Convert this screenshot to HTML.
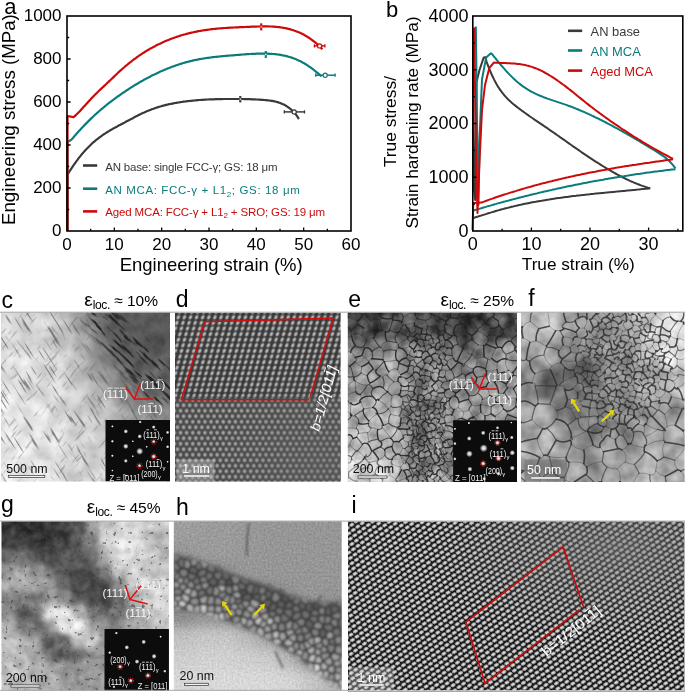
<!DOCTYPE html>
<html><head><meta charset="utf-8"><style>
html,body{margin:0;padding:0;background:#fff;}
body{width:685px;height:692px;overflow:hidden;position:relative;font-family:"Liberation Sans", sans-serif;}
svg{position:absolute;left:0;top:0;will-change:transform;}
svg text{font-family:"Liberation Sans", sans-serif;}
</style></head><body>
<svg width="685" height="692" viewBox="0 0 685 692">
<path d="M67.5,231.0 L67.5,173.2 L68.3,173.3 L69.3,171.7 L70.3,170.2 L71.3,168.6 L72.3,167.1 L73.3,165.6 L74.3,164.2 L75.3,162.8 L76.3,161.4 L77.3,160.1 L78.3,158.7 L79.3,157.4 L80.3,156.2 L81.3,154.9 L82.3,153.7 L83.3,152.6 L84.3,151.4 L85.3,150.3 L86.3,149.2 L87.3,148.2 L88.3,147.2 L89.3,146.2 L90.3,145.2 L91.3,144.2 L92.3,143.3 L93.3,142.4 L94.3,141.6 L95.3,140.7 L96.3,139.9 L97.3,139.1 L98.3,138.3 L99.3,137.5 L100.3,136.8 L101.3,136.1 L102.3,135.4 L103.3,134.7 L104.3,134.0 L105.3,133.4 L106.3,132.7 L107.3,132.1 L108.3,131.5 L109.3,130.9 L110.3,130.3 L111.3,129.7 L112.3,129.1 L113.3,128.5 L114.3,128.0 L115.3,127.4 L116.3,126.9 L117.3,126.4 L118.3,125.8 L119.3,125.3 L120.3,124.8 L121.3,124.2 L122.3,123.7 L123.3,123.2 L124.3,122.7 L125.3,122.1 L126.3,121.6 L127.3,121.1 L128.3,120.6 L129.3,120.0 L130.3,119.5 L131.3,118.9 L132.3,118.4 L133.3,117.9 L134.3,117.3 L135.3,116.8 L136.3,116.3 L137.3,115.8 L138.3,115.2 L139.3,114.7 L140.3,114.2 L141.3,113.8 L142.3,113.3 L143.3,112.8 L144.3,112.4 L145.3,111.9 L146.3,111.5 L147.3,111.1 L148.3,110.7 L149.3,110.3 L150.3,109.9 L151.3,109.5 L152.3,109.1 L153.3,108.8 L154.3,108.4 L155.3,108.1 L156.3,107.7 L157.3,107.4 L158.3,107.1 L159.3,106.8 L160.3,106.5 L161.3,106.2 L162.3,105.9 L163.3,105.7 L164.3,105.4 L165.3,105.1 L166.3,104.9 L167.3,104.7 L168.3,104.4 L169.3,104.2 L170.3,104.0 L171.3,103.8 L172.3,103.6 L173.3,103.4 L174.3,103.2 L175.3,103.0 L176.3,102.8 L177.3,102.6 L178.3,102.5 L179.3,102.3 L180.3,102.2 L181.3,102.0 L182.3,101.9 L183.3,101.7 L184.3,101.6 L185.3,101.5 L186.3,101.3 L187.3,101.2 L188.3,101.1 L189.3,101.0 L190.3,100.9 L191.3,100.8 L192.3,100.7 L193.3,100.6 L194.3,100.5 L195.3,100.4 L196.3,100.3 L197.3,100.2 L198.3,100.1 L199.3,100.0 L200.3,100.0 L201.3,99.9 L202.3,99.8 L203.3,99.8 L204.3,99.7 L205.3,99.6 L206.3,99.6 L207.3,99.5 L208.3,99.5 L209.3,99.4 L210.3,99.4 L211.3,99.4 L212.3,99.3 L213.3,99.3 L214.3,99.3 L215.3,99.2 L216.3,99.2 L217.3,99.2 L218.3,99.1 L219.3,99.1 L220.3,99.1 L221.3,99.1 L222.3,99.1 L223.3,99.0 L224.3,99.0 L225.3,99.0 L226.3,99.0 L227.3,99.0 L228.3,99.0 L229.3,99.0 L230.3,99.0 L231.3,99.0 L232.3,99.0 L233.3,99.0 L234.3,99.0 L235.3,99.0 L236.3,99.0 L237.3,99.0 L238.3,99.0 L239.3,99.0 L240.3,99.0 L241.3,99.0 L242.3,99.0 L243.3,99.0 L244.3,99.1 L245.3,99.1 L246.3,99.1 L247.3,99.1 L248.3,99.1 L249.3,99.2 L250.3,99.2 L251.3,99.3 L252.3,99.3 L253.3,99.3 L254.3,99.4 L255.3,99.4 L256.3,99.5 L257.3,99.5 L258.3,99.6 L259.3,99.7 L260.3,99.7 L261.3,99.8 L262.3,99.9 L263.3,99.9 L264.3,100.0 L265.3,100.1 L266.3,100.2 L267.3,100.3 L268.3,100.4 L269.3,100.5 L270.3,100.6 L271.3,100.8 L272.3,100.9 L273.3,101.1 L274.3,101.3 L275.3,101.5 L276.3,101.8 L277.3,102.1 L278.3,102.4 L279.3,102.7 L280.3,103.0 L281.3,103.4 L282.3,103.9 L283.3,104.3 L284.3,104.8 L285.3,105.4 L286.3,106.0 L287.3,106.6 L288.3,107.3 L289.3,108.0 L290.3,108.8 L291.3,109.7 L292.3,110.6 L293.3,111.6 L294.3,112.7 L295.3,113.8 L296.3,115.1 L297.3,116.5 L298.3,118.1 L298.9,119.1" fill="none" stroke="#3a3a3a" stroke-width="2.2" stroke-linejoin="round"/>
<path d="M67.5,231.0 L67.5,142.0 L71.5,139.6 L72.5,138.4 L73.5,137.3 L74.5,136.1 L75.5,135.0 L76.5,133.8 L77.5,132.7 L78.5,131.6 L79.5,130.5 L80.5,129.4 L81.5,128.3 L82.5,127.3 L83.5,126.2 L84.5,125.1 L85.5,124.1 L86.5,123.1 L87.5,122.1 L88.5,121.1 L89.5,120.1 L90.5,119.1 L91.5,118.1 L92.5,117.2 L93.5,116.3 L94.5,115.3 L95.5,114.4 L96.5,113.5 L97.5,112.6 L98.5,111.7 L99.5,110.8 L100.5,110.0 L101.5,109.1 L102.5,108.3 L103.5,107.5 L104.5,106.6 L105.5,105.8 L106.5,105.0 L107.5,104.2 L108.5,103.4 L109.5,102.7 L110.5,101.9 L111.5,101.1 L112.5,100.4 L113.5,99.6 L114.5,98.9 L115.5,98.1 L116.5,97.4 L117.5,96.7 L118.5,96.0 L119.5,95.3 L120.5,94.6 L121.5,93.9 L122.5,93.2 L123.5,92.5 L124.5,91.8 L125.5,91.2 L126.5,90.5 L127.5,89.8 L128.5,89.2 L129.5,88.5 L130.5,87.9 L131.5,87.2 L132.5,86.6 L133.5,86.0 L134.5,85.4 L135.5,84.8 L136.5,84.2 L137.5,83.6 L138.5,83.0 L139.5,82.4 L140.5,81.8 L141.5,81.2 L142.5,80.7 L143.5,80.1 L144.5,79.6 L145.5,79.0 L146.5,78.5 L147.5,77.9 L148.5,77.4 L149.5,76.9 L150.5,76.4 L151.5,75.8 L152.5,75.3 L153.5,74.8 L154.5,74.4 L155.5,73.9 L156.5,73.4 L157.5,72.9 L158.5,72.5 L159.5,72.0 L160.5,71.5 L161.5,71.1 L162.5,70.7 L163.5,70.2 L164.5,69.8 L165.5,69.4 L166.5,69.0 L167.5,68.6 L168.5,68.2 L169.5,67.8 L170.5,67.4 L171.5,67.0 L172.5,66.6 L173.5,66.3 L174.5,65.9 L175.5,65.6 L176.5,65.2 L177.5,64.9 L178.5,64.5 L179.5,64.2 L180.5,63.9 L181.5,63.6 L182.5,63.3 L183.5,63.0 L184.5,62.7 L185.5,62.4 L186.5,62.1 L187.5,61.9 L188.5,61.6 L189.5,61.4 L190.5,61.1 L191.5,60.9 L192.5,60.6 L193.5,60.4 L194.5,60.2 L195.5,60.0 L196.5,59.8 L197.5,59.6 L198.5,59.4 L199.5,59.2 L200.5,59.0 L201.5,58.8 L202.5,58.7 L203.5,58.5 L204.5,58.3 L205.5,58.2 L206.5,58.0 L207.5,57.9 L208.5,57.8 L209.5,57.6 L210.5,57.5 L211.5,57.4 L212.5,57.2 L213.5,57.1 L214.5,57.0 L215.5,56.9 L216.5,56.8 L217.5,56.7 L218.5,56.6 L219.5,56.5 L220.5,56.4 L221.5,56.3 L222.5,56.2 L223.5,56.1 L224.5,56.0 L225.5,55.9 L226.5,55.8 L227.5,55.7 L228.5,55.7 L229.5,55.6 L230.5,55.5 L231.5,55.4 L232.5,55.3 L233.5,55.3 L234.5,55.2 L235.5,55.1 L236.5,55.0 L237.5,54.9 L238.5,54.8 L239.5,54.8 L240.5,54.7 L241.5,54.6 L242.5,54.5 L243.5,54.5 L244.5,54.4 L245.5,54.3 L246.5,54.2 L247.5,54.2 L248.5,54.1 L249.5,54.0 L250.5,54.0 L251.5,53.9 L252.5,53.9 L253.5,53.8 L254.5,53.8 L255.5,53.8 L256.5,53.7 L257.5,53.7 L258.5,53.7 L259.5,53.6 L260.5,53.6 L261.5,53.6 L262.5,53.6 L263.5,53.6 L264.5,53.6 L265.5,53.6 L266.5,53.7 L267.5,53.7 L268.5,53.7 L269.5,53.8 L270.5,53.8 L271.5,53.9 L272.5,54.0 L273.5,54.0 L274.5,54.1 L275.5,54.2 L276.5,54.3 L277.5,54.5 L278.5,54.6 L279.5,54.7 L280.5,54.9 L281.5,55.1 L282.5,55.3 L283.5,55.5 L284.5,55.7 L285.5,55.9 L286.5,56.1 L287.5,56.4 L288.5,56.7 L289.5,57.0 L290.5,57.3 L291.5,57.6 L292.5,57.9 L293.5,58.3 L294.5,58.7 L295.5,59.1 L296.5,59.5 L297.5,59.9 L298.5,60.4 L299.5,60.8 L300.5,61.3 L301.5,61.8 L302.5,62.4 L303.5,62.9 L304.5,63.5 L305.5,64.1 L306.5,64.7 L307.5,65.4 L308.5,66.1 L309.5,66.7 L310.5,67.5 L311.5,68.2 L312.5,68.9 L313.5,69.7 L314.5,70.5 L315.5,71.3 L316.5,72.1 L317.5,72.9 L318.5,73.7 L319.5,74.6 L320.5,75.4 L321.5,76.3 L321.6,76.4" fill="none" stroke="#0b7b7b" stroke-width="2.2" stroke-linejoin="round"/>
<path d="M67.5,231.0 L67.5,116.0 L73.5,117.2 L74.5,116.4 L75.5,115.4 L76.5,114.5 L77.5,113.5 L78.5,112.5 L79.5,111.5 L80.5,110.4 L81.5,109.3 L82.5,108.2 L83.5,107.1 L84.5,106.0 L85.5,104.9 L86.5,103.8 L87.5,102.7 L88.5,101.6 L89.5,100.5 L90.5,99.4 L91.5,98.3 L92.5,97.2 L93.5,96.2 L94.5,95.2 L95.5,94.2 L96.5,93.2 L97.5,92.2 L98.5,91.3 L99.5,90.3 L100.5,89.4 L101.5,88.4 L102.5,87.5 L103.5,86.6 L104.5,85.6 L105.5,84.7 L106.5,83.8 L107.5,82.8 L108.5,81.9 L109.5,80.9 L110.5,80.0 L111.5,79.0 L112.5,78.1 L113.5,77.1 L114.5,76.1 L115.5,75.2 L116.5,74.2 L117.5,73.3 L118.5,72.3 L119.5,71.4 L120.5,70.5 L121.5,69.6 L122.5,68.7 L123.5,67.8 L124.5,67.0 L125.5,66.1 L126.5,65.3 L127.5,64.5 L128.5,63.6 L129.5,62.8 L130.5,62.1 L131.5,61.3 L132.5,60.5 L133.5,59.7 L134.5,59.0 L135.5,58.3 L136.5,57.5 L137.5,56.8 L138.5,56.1 L139.5,55.4 L140.5,54.8 L141.5,54.1 L142.5,53.4 L143.5,52.8 L144.5,52.2 L145.5,51.5 L146.5,50.9 L147.5,50.3 L148.5,49.7 L149.5,49.1 L150.5,48.6 L151.5,48.0 L152.5,47.5 L153.5,46.9 L154.5,46.4 L155.5,45.9 L156.5,45.3 L157.5,44.8 L158.5,44.3 L159.5,43.9 L160.5,43.4 L161.5,42.9 L162.5,42.4 L163.5,42.0 L164.5,41.6 L165.5,41.1 L166.5,40.7 L167.5,40.3 L168.5,39.9 L169.5,39.5 L170.5,39.1 L171.5,38.7 L172.5,38.3 L173.5,38.0 L174.5,37.6 L175.5,37.3 L176.5,36.9 L177.5,36.6 L178.5,36.3 L179.5,35.9 L180.5,35.6 L181.5,35.3 L182.5,35.0 L183.5,34.7 L184.5,34.5 L185.5,34.2 L186.5,33.9 L187.5,33.7 L188.5,33.4 L189.5,33.2 L190.5,32.9 L191.5,32.7 L192.5,32.5 L193.5,32.2 L194.5,32.0 L195.5,31.8 L196.5,31.6 L197.5,31.4 L198.5,31.2 L199.5,31.0 L200.5,30.9 L201.5,30.7 L202.5,30.5 L203.5,30.4 L204.5,30.2 L205.5,30.1 L206.5,29.9 L207.5,29.8 L208.5,29.6 L209.5,29.5 L210.5,29.4 L211.5,29.2 L212.5,29.1 L213.5,29.0 L214.5,28.9 L215.5,28.8 L216.5,28.7 L217.5,28.6 L218.5,28.5 L219.5,28.4 L220.5,28.3 L221.5,28.3 L222.5,28.2 L223.5,28.1 L224.5,28.0 L225.5,28.0 L226.5,27.9 L227.5,27.8 L228.5,27.8 L229.5,27.7 L230.5,27.7 L231.5,27.6 L232.5,27.6 L233.5,27.5 L234.5,27.5 L235.5,27.4 L236.5,27.4 L237.5,27.3 L238.5,27.3 L239.5,27.2 L240.5,27.2 L241.5,27.1 L242.5,27.1 L243.5,27.1 L244.5,27.0 L245.5,27.0 L246.5,26.9 L247.5,26.9 L248.5,26.9 L249.5,26.8 L250.5,26.8 L251.5,26.7 L252.5,26.7 L253.5,26.7 L254.5,26.6 L255.5,26.6 L256.5,26.6 L257.5,26.5 L258.5,26.5 L259.5,26.5 L260.5,26.4 L261.5,26.4 L262.5,26.4 L263.5,26.4 L264.5,26.4 L265.5,26.4 L266.5,26.4 L267.5,26.4 L268.5,26.4 L269.5,26.5 L270.5,26.5 L271.5,26.5 L272.5,26.6 L273.5,26.6 L274.5,26.7 L275.5,26.8 L276.5,26.9 L277.5,27.0 L278.5,27.1 L279.5,27.2 L280.5,27.3 L281.5,27.5 L282.5,27.6 L283.5,27.8 L284.5,28.0 L285.5,28.2 L286.5,28.4 L287.5,28.6 L288.5,28.9 L289.5,29.1 L290.5,29.4 L291.5,29.7 L292.5,30.0 L293.5,30.3 L294.5,30.7 L295.5,31.0 L296.5,31.4 L297.5,31.8 L298.5,32.2 L299.5,32.6 L300.5,33.1 L301.5,33.6 L302.5,34.1 L303.5,34.6 L304.5,35.1 L305.5,35.7 L306.5,36.3 L307.5,36.9 L308.5,37.5 L309.5,38.2 L310.5,38.9 L311.5,39.6 L312.5,40.3 L313.5,41.1 L314.5,41.9 L315.5,42.7 L316.5,43.5 L317.5,44.4 L318.5,45.3 L319.5,46.2 L320.5,47.1 L321.5,48.2 L322.3,49.3" fill="none" stroke="#cc0a0a" stroke-width="2.2" stroke-linejoin="round"/>
<line x1="240.3" y1="96.2" x2="240.3" y2="102.2" stroke="#3a3a3a" stroke-width="2.0"/><line x1="239.20000000000002" y1="96.60000000000001" x2="241.4" y2="96.60000000000001" stroke="#3a3a3a" stroke-width="0.8"/><line x1="239.20000000000002" y1="101.8" x2="241.4" y2="101.8" stroke="#3a3a3a" stroke-width="0.8"/><circle cx="240.3" cy="99.2" r="1.1" fill="#fff" stroke="#3a3a3a" stroke-width="0.7"/>
<line x1="284.3" y1="111.9" x2="304.5" y2="111.9" stroke="#3a3a3a" stroke-width="1.5"/><line x1="284.3" y1="110.30000000000001" x2="284.3" y2="113.5" stroke="#3a3a3a" stroke-width="1.3"/><line x1="304.5" y1="110.30000000000001" x2="304.5" y2="113.5" stroke="#3a3a3a" stroke-width="1.3"/><circle cx="294.2" cy="111.9" r="2.1" fill="#fff" stroke="#3a3a3a" stroke-width="1.2"/>
<line x1="265.8" y1="51.2" x2="265.8" y2="57.8" stroke="#0b7b7b" stroke-width="2.0"/><line x1="264.7" y1="51.6" x2="266.90000000000003" y2="51.6" stroke="#0b7b7b" stroke-width="0.8"/><line x1="264.7" y1="57.4" x2="266.90000000000003" y2="57.4" stroke="#0b7b7b" stroke-width="0.8"/><circle cx="265.8" cy="54.5" r="1.1" fill="#fff" stroke="#0b7b7b" stroke-width="0.7"/>
<line x1="315.7" y1="75.2" x2="335.1" y2="75.2" stroke="#0b7b7b" stroke-width="1.5"/><line x1="315.7" y1="73.60000000000001" x2="315.7" y2="76.8" stroke="#0b7b7b" stroke-width="1.3"/><line x1="335.1" y1="73.60000000000001" x2="335.1" y2="76.8" stroke="#0b7b7b" stroke-width="1.3"/><circle cx="325.2" cy="75.2" r="2.1" fill="#fff" stroke="#0b7b7b" stroke-width="1.2"/>
<line x1="261.2" y1="23.599999999999998" x2="261.2" y2="30.2" stroke="#cc0a0a" stroke-width="2.0"/><line x1="260.09999999999997" y1="23.999999999999996" x2="262.3" y2="23.999999999999996" stroke="#cc0a0a" stroke-width="0.8"/><line x1="260.09999999999997" y1="29.8" x2="262.3" y2="29.8" stroke="#cc0a0a" stroke-width="0.8"/><circle cx="261.2" cy="26.9" r="1.1" fill="#fff" stroke="#cc0a0a" stroke-width="0.7"/>
<line x1="314.4" y1="45.9" x2="324.9" y2="45.9" stroke="#cc0a0a" stroke-width="1.5"/><line x1="314.4" y1="44.3" x2="314.4" y2="47.5" stroke="#cc0a0a" stroke-width="1.3"/><line x1="324.9" y1="44.3" x2="324.9" y2="47.5" stroke="#cc0a0a" stroke-width="1.3"/><circle cx="319.6" cy="45.9" r="2.1" fill="#fff" stroke="#cc0a0a" stroke-width="1.2"/>
<rect x="67" y="16" width="284" height="215" fill="none" stroke="#000" stroke-width="1.6"/>
<path d="M90.67,231 v-2.2 M114.33,231 v-3.6 M138.00,231 v-2.2 M161.67,231 v-3.6 M185.33,231 v-2.2 M209.00,231 v-3.6 M232.67,231 v-2.2 M256.33,231 v-3.6 M280.00,231 v-2.2 M303.67,231 v-3.6 M327.33,231 v-2.2 M67,209.50 h2.2 M67,188.00 h3.6 M67,166.50 h2.2 M67,145.00 h3.6 M67,123.50 h2.2 M67,102.00 h3.6 M67,80.50 h2.2 M67,59.00 h3.6 M67,37.50 h2.2" stroke="#000" stroke-width="1.3"/>
<text x="67.0" y="249.7" font-size="17" text-anchor="middle">0</text>
<text x="114.3" y="249.7" font-size="17" text-anchor="middle">10</text>
<text x="161.7" y="249.7" font-size="17" text-anchor="middle">20</text>
<text x="209.0" y="249.7" font-size="17" text-anchor="middle">30</text>
<text x="256.3" y="249.7" font-size="17" text-anchor="middle">40</text>
<text x="303.7" y="249.7" font-size="17" text-anchor="middle">50</text>
<text x="351.0" y="249.7" font-size="17" text-anchor="middle">60</text>
<text x="61.5" y="236.0" font-size="17" text-anchor="end">0</text>
<text x="61.5" y="193.0" font-size="17" text-anchor="end">200</text>
<text x="61.5" y="150.0" font-size="17" text-anchor="end">400</text>
<text x="61.5" y="107.0" font-size="17" text-anchor="end">600</text>
<text x="61.5" y="64.0" font-size="17" text-anchor="end">800</text>
<text x="61.5" y="21.0" font-size="17" text-anchor="end">1000</text>
<text x="211.2" y="270.8" font-size="18.5" text-anchor="middle">Engineering strain (%)</text>
<text transform="translate(14.9,119.6) rotate(-90)" font-size="18.7" text-anchor="middle">Engineering stress (MPa)</text>
<text x="4.3" y="14" font-size="22">a</text>
<line x1="83" y1="165.5" x2="97.2" y2="165.5" stroke="#3a3a3a" stroke-width="2.6"/>
<line x1="83" y1="188.7" x2="97.2" y2="188.7" stroke="#0b7b7b" stroke-width="2.6"/>
<line x1="83" y1="211.4" x2="97.2" y2="211.4" stroke="#cc0a0a" stroke-width="2.6"/>
<text x="105.2" y="170.6" font-size="11.5" letter-spacing="-0.2" fill="#3a3a3a">AN base: single FCC-γ; GS: 18 μm</text>
<text x="105.2" y="194.1" font-size="11.5" letter-spacing="0.63" fill="#0b7b7b">AN MCA: FCC-γ + L1<tspan font-size="8" dy="2.5">2</tspan><tspan dy="-2.5">; GS: 18 μm</tspan></text>
<text x="105.2" y="215.8" font-size="11.5" letter-spacing="-0.14" fill="#cc0a0a">Aged MCA: FCC-γ + L1<tspan font-size="8" dy="2.5">2</tspan><tspan dy="-2.5"> + SRO; GS: 19 μm</tspan></text>
<polyline points="473.2,30.0 473.4,100.0 474.0,190.0 475.2,200.0 476.4,82.4 479.6,69.6 483.7,57.6 485.5,57.3 486.5,61.5 488.0,65.6 489.5,69.5 491.0,73.0 492.5,76.3 494.0,79.4 495.5,82.3 497.0,84.9 498.5,87.4 500.0,89.6 501.5,91.7 503.0,93.7 504.5,95.5 506.0,97.1 507.5,98.7 509.0,100.2 510.5,101.6 512.0,102.9 513.5,104.2 515.0,105.4 516.5,106.6 518.0,107.8 519.5,108.9 521.0,110.0 522.5,111.2 524.0,112.2 525.5,113.3 527.0,114.4 528.5,115.4 530.0,116.5 531.5,117.5 533.0,118.5 534.5,119.6 536.0,120.6 537.5,121.6 539.0,122.6 540.5,123.6 542.0,124.6 543.5,125.6 545.0,126.7 546.5,127.7 548.0,128.7 549.5,129.8 551.0,130.8 552.5,131.8 554.0,132.9 555.5,133.9 557.0,135.0 558.5,136.0 560.0,137.1 561.5,138.1 563.0,139.2 564.5,140.2 566.0,141.3 567.5,142.4 569.0,143.4 570.5,144.5 572.0,145.5 573.5,146.6 575.0,147.6 576.5,148.6 578.0,149.7 579.5,150.7 581.0,151.8 582.5,152.8 584.0,153.8 585.5,154.8 587.0,155.8 588.5,156.8 590.0,157.8 591.5,158.8 593.0,159.8 594.5,160.8 596.0,161.8 597.5,162.7 599.0,163.7 600.5,164.6 602.0,165.6 603.5,166.5 605.0,167.4 606.5,168.3 608.0,169.2 609.5,170.1 611.0,171.0 612.5,171.8 614.0,172.7 615.5,173.5 617.0,174.3 618.5,175.1 620.0,175.9 621.5,176.7 623.0,177.5 624.5,178.2 626.0,179.0 627.5,179.7 629.0,180.4 630.5,181.1 632.0,181.7 633.5,182.4 635.0,183.0 636.5,183.6 638.0,184.2 639.5,184.8 641.0,185.4 642.5,185.9 644.0,186.4 645.5,186.9 647.0,187.4 648.5,187.9 650.0,188.3 650.2,188.4" fill="none" stroke="#3a3a3a" stroke-width="2.0" stroke-linejoin="round"/>
<polyline points="473.3,218.0 486.6,213.9 487.6,213.5 489.1,213.0 490.6,212.6 492.1,212.1 493.6,211.7 495.1,211.2 496.6,210.8 498.1,210.4 499.6,210.0 501.1,209.5 502.6,209.1 504.1,208.7 505.6,208.3 507.1,208.0 508.6,207.6 510.1,207.2 511.6,206.8 513.1,206.5 514.6,206.1 516.1,205.8 517.6,205.4 519.1,205.1 520.6,204.8 522.1,204.4 523.6,204.1 525.1,203.8 526.6,203.5 528.1,203.2 529.6,202.9 531.1,202.6 532.6,202.3 534.1,202.0 535.6,201.8 537.1,201.5 538.6,201.2 540.1,200.9 541.6,200.7 543.1,200.4 544.6,200.2 546.1,199.9 547.6,199.7 549.1,199.5 550.6,199.2 552.1,199.0 553.6,198.8 555.1,198.5 556.6,198.3 558.1,198.1 559.6,197.9 561.1,197.7 562.6,197.5 564.1,197.3 565.6,197.1 567.1,196.9 568.6,196.7 570.1,196.5 571.6,196.3 573.1,196.1 574.6,195.9 576.1,195.8 577.6,195.6 579.1,195.4 580.6,195.2 582.1,195.1 583.6,194.9 585.1,194.7 586.6,194.6 588.1,194.4 589.6,194.3 591.1,194.1 592.6,193.9 594.1,193.8 595.6,193.6 597.1,193.5 598.6,193.3 600.1,193.2 601.6,193.0 603.1,192.9 604.6,192.7 606.1,192.6 607.6,192.4 609.1,192.3 610.6,192.2 612.1,192.0 613.6,191.9 615.1,191.7 616.6,191.6 618.1,191.4 619.6,191.3 621.1,191.2 622.6,191.0 624.1,190.9 625.6,190.7 627.1,190.6 628.6,190.5 630.1,190.3 631.6,190.2 633.1,190.0 634.6,189.9 636.1,189.7 637.6,189.6 639.1,189.4 640.6,189.3 642.1,189.1 643.6,189.0 645.1,188.8 646.6,188.7 648.1,188.5 649.6,188.4 650.2,188.3" fill="none" stroke="#3a3a3a" stroke-width="2.0" stroke-linejoin="round"/>
<polyline points="475.8,26.6 476.3,60.0 477.0,120.0 477.8,170.0 478.5,205.0 479.5,140.0 482.0,79.2 486.1,57.6 490.9,53.2 491.9,53.9 493.4,55.8 494.9,57.7 496.4,59.5 497.9,61.4 499.4,63.2 500.9,65.0 502.4,66.7 503.9,68.4 505.4,70.1 506.9,71.8 508.4,73.4 509.9,74.9 511.4,76.4 512.9,77.9 514.4,79.3 515.9,80.7 517.4,82.0 518.9,83.2 520.4,84.4 521.9,85.6 523.4,86.7 524.9,87.7 526.4,88.7 527.9,89.6 529.4,90.5 530.9,91.3 532.4,92.1 533.9,92.9 535.4,93.7 536.9,94.4 538.4,95.0 539.9,95.7 541.4,96.3 542.9,96.9 544.4,97.5 545.9,98.0 547.4,98.6 548.9,99.1 550.4,99.6 551.9,100.1 553.4,100.6 554.9,101.1 556.4,101.6 557.9,102.1 559.4,102.6 560.9,103.1 562.4,103.6 563.9,104.1 565.4,104.6 566.9,105.1 568.4,105.7 569.9,106.2 571.4,106.8 572.9,107.4 574.4,108.0 575.9,108.6 577.4,109.2 578.9,109.8 580.4,110.5 581.9,111.1 583.4,111.7 584.9,112.4 586.4,113.1 587.9,113.7 589.4,114.4 590.9,115.1 592.4,115.8 593.9,116.5 595.4,117.3 596.9,118.0 598.4,118.7 599.9,119.5 601.4,120.2 602.9,121.0 604.4,121.7 605.9,122.5 607.4,123.3 608.9,124.1 610.4,124.9 611.9,125.7 613.4,126.5 614.9,127.3 616.4,128.1 617.9,128.9 619.4,129.8 620.9,130.6 622.4,131.4 623.9,132.3 625.4,133.1 626.9,134.0 628.4,134.8 629.9,135.7 631.4,136.6 632.9,137.4 634.4,138.3 635.9,139.2 637.4,140.1 638.9,141.0 640.4,141.9 641.9,142.8 643.4,143.7 644.9,144.6 646.4,145.5 647.9,146.4 649.4,147.3 650.9,148.2 652.4,149.1 653.9,150.0 655.4,150.9 656.9,151.9 658.4,152.8 659.9,153.8 661.4,154.8 662.9,155.8 664.4,156.9 665.9,158.1 667.4,159.4 668.9,160.8 670.4,162.3 671.9,163.9 673.4,165.7 674.9,167.6 675.5,168.4" fill="none" stroke="#0b7b7b" stroke-width="2.0" stroke-linejoin="round"/>
<polyline points="473.3,210.6 475.8,209.7 476.8,209.5 478.3,209.1 479.8,208.6 481.3,208.2 482.8,207.7 484.3,207.3 485.8,206.9 487.3,206.4 488.8,206.0 490.3,205.6 491.8,205.1 493.3,204.7 494.8,204.3 496.3,203.9 497.8,203.4 499.3,203.0 500.8,202.6 502.3,202.2 503.8,201.8 505.3,201.4 506.8,201.0 508.3,200.6 509.8,200.2 511.3,199.8 512.8,199.4 514.3,199.0 515.8,198.6 517.3,198.2 518.8,197.8 520.3,197.4 521.8,197.1 523.3,196.7 524.8,196.3 526.3,195.9 527.8,195.6 529.3,195.2 530.8,194.8 532.3,194.4 533.8,194.1 535.3,193.7 536.8,193.4 538.3,193.0 539.8,192.6 541.3,192.3 542.8,191.9 544.3,191.6 545.8,191.2 547.3,190.9 548.8,190.6 550.3,190.2 551.8,189.9 553.3,189.5 554.8,189.2 556.3,188.9 557.8,188.5 559.3,188.2 560.8,187.9 562.3,187.6 563.8,187.3 565.3,186.9 566.8,186.6 568.3,186.3 569.8,186.0 571.3,185.7 572.8,185.4 574.3,185.1 575.8,184.8 577.3,184.5 578.8,184.2 580.3,183.9 581.8,183.6 583.3,183.3 584.8,183.0 586.3,182.7 587.8,182.4 589.3,182.1 590.8,181.8 592.3,181.6 593.8,181.3 595.3,181.0 596.8,180.7 598.3,180.5 599.8,180.2 601.3,179.9 602.8,179.7 604.3,179.4 605.8,179.1 607.3,178.9 608.8,178.6 610.3,178.4 611.8,178.1 613.3,177.9 614.8,177.6 616.3,177.4 617.8,177.1 619.3,176.9 620.8,176.6 622.3,176.4 623.8,176.2 625.3,175.9 626.8,175.7 628.3,175.5 629.8,175.2 631.3,175.0 632.8,174.8 634.3,174.6 635.8,174.3 637.3,174.1 638.8,173.9 640.3,173.7 641.8,173.5 643.3,173.3 644.8,173.0 646.3,172.8 647.8,172.6 649.3,172.4 650.8,172.2 652.3,172.0 653.8,171.8 655.3,171.6 656.8,171.4 658.3,171.3 659.8,171.1 661.3,170.9 662.8,170.7 664.3,170.5 665.8,170.3 667.3,170.1 668.8,170.0 670.3,169.8 671.8,169.6 673.3,169.4 674.8,169.3 675.5,169.2" fill="none" stroke="#0b7b7b" stroke-width="2.0" stroke-linejoin="round"/>
<polyline points="474.2,27.5 474.6,60.0 475.5,120.0 476.5,180.0 477.5,213.0 479.6,160.0 482.0,110.0 485.0,85.0 489.3,68.0 494.1,62.4 495.1,62.7 496.6,62.8 498.1,62.8 499.6,62.9 501.1,63.0 502.6,63.0 504.1,63.1 505.6,63.1 507.1,63.2 508.6,63.2 510.1,63.3 511.6,63.4 513.1,63.5 514.6,63.6 516.1,63.7 517.6,63.9 519.1,64.0 520.6,64.2 522.1,64.5 523.6,64.7 525.1,65.0 526.6,65.4 528.1,65.7 529.6,66.2 531.1,66.6 532.6,67.1 534.1,67.7 535.6,68.2 537.1,68.9 538.6,69.5 540.1,70.2 541.6,70.9 543.1,71.7 544.6,72.5 546.1,73.3 547.6,74.2 549.1,75.1 550.6,76.0 552.1,76.9 553.6,77.9 555.1,78.9 556.6,79.9 558.1,81.0 559.6,82.0 561.1,83.1 562.6,84.2 564.1,85.3 565.6,86.4 567.1,87.6 568.6,88.8 570.1,89.9 571.6,91.1 573.1,92.3 574.6,93.5 576.1,94.7 577.6,96.0 579.1,97.2 580.6,98.4 582.1,99.6 583.6,100.8 585.1,102.0 586.6,103.2 588.1,104.4 589.6,105.6 591.1,106.8 592.6,107.9 594.1,109.0 595.6,110.2 597.1,111.3 598.6,112.4 600.1,113.5 601.6,114.6 603.1,115.7 604.6,116.8 606.1,117.9 607.6,118.9 609.1,120.0 610.6,121.1 612.1,122.1 613.6,123.1 615.1,124.2 616.6,125.2 618.1,126.2 619.6,127.2 621.1,128.3 622.6,129.3 624.1,130.2 625.6,131.2 627.1,132.2 628.6,133.2 630.1,134.1 631.6,135.1 633.1,136.1 634.6,137.0 636.1,137.9 637.6,138.9 639.1,139.8 640.6,140.7 642.1,141.6 643.6,142.5 645.1,143.4 646.6,144.3 648.1,145.2 649.6,146.1 651.1,146.9 652.6,147.8 654.1,148.6 655.6,149.5 657.1,150.3 658.6,151.2 660.1,152.0 661.6,152.8 663.1,153.6 664.6,154.4 666.1,155.2 667.6,156.0 669.1,156.8 670.6,157.6 672.1,158.3 673.1,158.8" fill="none" stroke="#cc0a0a" stroke-width="2.0" stroke-linejoin="round"/>
<polyline points="472.5,230.0 473.3,203.0 481.6,202.6 482.6,202.1 484.1,201.6 485.6,201.0 487.1,200.5 488.6,199.9 490.1,199.4 491.6,198.9 493.1,198.4 494.6,197.8 496.1,197.3 497.6,196.8 499.1,196.3 500.6,195.8 502.1,195.3 503.6,194.8 505.1,194.3 506.6,193.9 508.1,193.4 509.6,192.9 511.1,192.4 512.6,192.0 514.1,191.5 515.6,191.1 517.1,190.6 518.6,190.1 520.1,189.7 521.6,189.3 523.1,188.8 524.6,188.4 526.1,187.9 527.6,187.5 529.1,187.1 530.6,186.7 532.1,186.3 533.6,185.8 535.1,185.4 536.6,185.0 538.1,184.6 539.6,184.2 541.1,183.8 542.6,183.4 544.1,183.0 545.6,182.7 547.1,182.3 548.6,181.9 550.1,181.5 551.6,181.2 553.1,180.8 554.6,180.4 556.1,180.1 557.6,179.7 559.1,179.3 560.6,179.0 562.1,178.6 563.6,178.3 565.1,177.9 566.6,177.6 568.1,177.3 569.6,176.9 571.1,176.6 572.6,176.3 574.1,175.9 575.6,175.6 577.1,175.3 578.6,175.0 580.1,174.7 581.6,174.3 583.1,174.0 584.6,173.7 586.1,173.4 587.6,173.1 589.1,172.8 590.6,172.5 592.1,172.2 593.6,171.9 595.1,171.7 596.6,171.4 598.1,171.1 599.6,170.8 601.1,170.5 602.6,170.2 604.1,170.0 605.6,169.7 607.1,169.4 608.6,169.2 610.1,168.9 611.6,168.6 613.1,168.4 614.6,168.1 616.1,167.8 617.6,167.6 619.1,167.3 620.6,167.1 622.1,166.8 623.6,166.6 625.1,166.3 626.6,166.1 628.1,165.9 629.6,165.6 631.1,165.4 632.6,165.1 634.1,164.9 635.6,164.7 637.1,164.4 638.6,164.2 640.1,164.0 641.6,163.8 643.1,163.5 644.6,163.3 646.1,163.1 647.6,162.9 649.1,162.7 650.6,162.4 652.1,162.2 653.6,162.0 655.1,161.8 656.6,161.6 658.1,161.4 659.6,161.2 661.1,161.0 662.6,160.8 664.1,160.5 665.6,160.3 667.1,160.1 668.6,159.9 670.1,159.7 671.6,159.5 673.1,159.3" fill="none" stroke="#cc0a0a" stroke-width="2.0" stroke-linejoin="round"/>
<rect x="472.8" y="16" width="209.99999999999994" height="215" fill="none" stroke="#000" stroke-width="1.6"/>
<path d="M502.10,231 v-2.2 M531.40,231 v-3.6 M560.70,231 v-2.2 M590.00,231 v-3.6 M619.30,231 v-2.2 M648.60,231 v-3.6 M677.90,231 v-2.2 M472.8,204.12 h2.2 M472.8,177.25 h3.6 M472.8,150.38 h2.2 M472.8,123.50 h3.6 M472.8,96.62 h2.2 M472.8,69.75 h3.6 M472.8,42.88 h2.2" stroke="#000" stroke-width="1.3"/>
<text x="472.8" y="250.2" font-size="18" text-anchor="middle">0</text>
<text x="531.4" y="250.2" font-size="18" text-anchor="middle">10</text>
<text x="590.0" y="250.2" font-size="18" text-anchor="middle">20</text>
<text x="648.6" y="250.2" font-size="18" text-anchor="middle">30</text>
<text x="468.5" y="236.9" font-size="18" text-anchor="end">0</text>
<text x="468.5" y="183.2" font-size="18" text-anchor="end">1000</text>
<text x="468.5" y="129.4" font-size="18" text-anchor="end">2000</text>
<text x="468.5" y="75.7" font-size="18" text-anchor="end">3000</text>
<text x="468.5" y="21.9" font-size="18" text-anchor="end">4000</text>
<text x="578.3" y="270.3" font-size="17.2" text-anchor="middle">True strain (%)</text>
<text transform="translate(395.8,121.6) rotate(-90)" font-size="17.4" text-anchor="middle">True stress/</text>
<text transform="translate(417.8,122.5) rotate(-90)" font-size="17.2" text-anchor="middle">Strain hardening rate (MPa)</text>
<text x="386" y="16.8" font-size="22">b</text>
<line x1="568" y1="30.8" x2="582.2" y2="30.8" stroke="#3a3a3a" stroke-width="2.6"/>
<text x="590.6" y="36.0" font-size="12.9" fill="#3a3a3a">AN base</text>
<line x1="568" y1="50.5" x2="582.2" y2="50.5" stroke="#0b7b7b" stroke-width="2.6"/>
<text x="590.6" y="55.7" font-size="12.9" fill="#0b7b7b">AN MCA</text>
<line x1="568" y1="70.6" x2="582.2" y2="70.6" stroke="#cc0a0a" stroke-width="2.6"/>
<text x="590.6" y="75.8" font-size="12.9" fill="#cc0a0a">Aged MCA</text>
<defs><clipPath id="cpc"><rect x="1" y="312.5" width="169" height="169"/></clipPath><clipPath id="cpd"><rect x="175" y="312.5" width="165.8" height="169"/></clipPath><clipPath id="cpe"><rect x="347.8" y="312.5" width="169.2" height="169.5"/></clipPath><clipPath id="cpf"><rect x="521" y="312.5" width="163.5" height="169.5"/></clipPath><clipPath id="cpg"><rect x="1.5" y="521.2" width="167.4" height="169.6"/></clipPath><clipPath id="cph"><rect x="173.8" y="521.2" width="167.9" height="169.6"/></clipPath><clipPath id="cpi"><rect x="348" y="521.2" width="336" height="169.4"/></clipPath><filter id="b05" x="-5%" y="-5%" width="110%" height="110%"><feGaussianBlur stdDeviation="0.5"/></filter><filter id="b1" x="-5%" y="-5%" width="110%" height="110%"><feGaussianBlur stdDeviation="1"/></filter><filter id="b2" x="-10%" y="-10%" width="120%" height="120%"><feGaussianBlur stdDeviation="2"/></filter><filter id="b4" x="-20%" y="-20%" width="140%" height="140%"><feGaussianBlur stdDeviation="4"/></filter><filter id="b8" x="-30%" y="-30%" width="160%" height="160%"><feGaussianBlur stdDeviation="8"/></filter><radialGradient id="spotW"><stop offset="0" stop-color="#fff" stop-opacity="1"/><stop offset="0.45" stop-color="#fff" stop-opacity="0.75"/><stop offset="1" stop-color="#fff" stop-opacity="0"/></radialGradient><radialGradient id="spotL"><stop offset="0" stop-color="#d8d8d8"/><stop offset="0.5" stop-color="#b0b0b0" stop-opacity="0.85"/><stop offset="1" stop-color="#888" stop-opacity="0"/></radialGradient><filter id="fc" x="-10%" y="-10%" width="120%" height="120%" color-interpolation-filters="sRGB"><feGaussianBlur in="SourceGraphic" stdDeviation="9" result="base"/><feTurbulence type="fractalNoise" baseFrequency="0.06" numOctaves="3" seed="7"/><feColorMatrix type="matrix" values="1 0 0 0 0 1 0 0 0 0 1 0 0 0 0 0 0 0 0 1" result="n"/><feComposite in="base" in2="n" operator="arithmetic" k1="0" k2="1" k3="0.25" k4="-0.125" result="sh"/></filter><filter id="stC" x="0" y="0" width="100%" height="100%" color-interpolation-filters="sRGB"><feTurbulence type="fractalNoise" baseFrequency="0.4 0.035" numOctaves="2" seed="2"/><feColorMatrix type="matrix" values="0 0 0 0 0.38 0 0 0 0 0.38 0 0 0 0 0.38 -9 0 0 0 3.3"/><feGaussianBlur stdDeviation="0.35"/></filter><filter id="stC3" x="0" y="0" width="100%" height="100%" color-interpolation-filters="sRGB"><feTurbulence type="fractalNoise" baseFrequency="0.4 0.05" numOctaves="2" seed="6"/><feColorMatrix type="matrix" values="0 0 0 0 0.4 0 0 0 0 0.4 0 0 0 0 0.4 -9 0 0 0 3.1"/><feGaussianBlur stdDeviation="0.35"/></filter><filter id="stC2" x="0" y="0" width="100%" height="100%" color-interpolation-filters="sRGB"><feTurbulence type="fractalNoise" baseFrequency="0.3 0.04" numOctaves="3" seed="9"/><feColorMatrix type="matrix" values="0 0 0 0 0.13 0 0 0 0 0.13 0 0 0 0 0.13 -9 0 0 0 4.0"/><feGaussianBlur stdDeviation="0.4"/></filter><mask id="mC" maskUnits="userSpaceOnUse" x="0" y="300" width="180" height="190"><path d="M72,306 L112,306 L176,372 L176,410 L150,408 Z" fill="#fff" filter="url(#b4)"/></mask><radialGradient id="spD"><stop offset="0" stop-color="#c4c4c4"/><stop offset="0.45" stop-color="#a0a0a0"/><stop offset="0.8" stop-color="#5a5a5a" stop-opacity="0.6"/><stop offset="1" stop-color="#2a2a2a" stop-opacity="0"/></radialGradient><pattern id="latd" patternUnits="userSpaceOnUse" width="6.1" height="5.6" patternTransform="translate(176,314.5) skewX(-15)"><rect width="6.1" height="5.6" fill="#3a3a3a"/><ellipse cx="3.05" cy="-2.8" rx="2.7" ry="3.4" fill="url(#spD)"/><ellipse cx="3.05" cy="2.8" rx="2.7" ry="3.4" fill="url(#spD)"/><ellipse cx="3.05" cy="8.4" rx="2.7" ry="3.4" fill="url(#spD)"/></pattern><radialGradient id="spD2"><stop offset="0" stop-color="#b4b4b4"/><stop offset="0.5" stop-color="#8c8c8c"/><stop offset="1" stop-color="#3c3c3c" stop-opacity="0"/></radialGradient><pattern id="latd2" patternUnits="userSpaceOnUse" width="6.1" height="11" patternTransform="translate(176,314.5)"><rect width="6.1" height="11" fill="#4a4a4a"/><ellipse cx="1.5" cy="2.75" rx="3.0" ry="3.2" fill="url(#spD2)"/><ellipse cx="4.55" cy="8.25" rx="3.0" ry="3.2" fill="url(#spD2)"/><ellipse cx="7.6" cy="2.75" rx="3.0" ry="3.2" fill="url(#spD2)"/><ellipse cx="-1.55" cy="8.25" rx="3.0" ry="3.2" fill="url(#spD2)"/></pattern><linearGradient id="gD2" x1="0" y1="0" x2="0" y2="1"><stop offset="0" stop-color="#fff" stop-opacity="0"/><stop offset="0.08" stop-color="#fff" stop-opacity="1"/></linearGradient><mask id="mD" maskUnits="userSpaceOnUse" x="175" y="395" width="165.8" height="90"><rect x="175" y="395" width="165.8" height="90" fill="url(#gD2)"/></mask><radialGradient id="hzD" cx="0.85" cy="0.9" r="0.6"><stop offset="0" stop-color="#666" stop-opacity="0.45"/><stop offset="1" stop-color="#666" stop-opacity="0"/></radialGradient><filter id="fe" x="-10%" y="-10%" width="120%" height="120%" color-interpolation-filters="sRGB"><feGaussianBlur in="SourceGraphic" stdDeviation="7" result="base"/><feTurbulence type="fractalNoise" baseFrequency="0.07" numOctaves="3" seed="4"/><feColorMatrix type="matrix" values="1 0 0 0 0 1 0 0 0 0 1 0 0 0 0 0 0 0 0 1" result="n"/><feComposite in="base" in2="n" operator="arithmetic" k1="0" k2="1" k3="0.55" k4="-0.275" result="sh"/></filter><filter id="ff" x="-10%" y="-10%" width="120%" height="120%" color-interpolation-filters="sRGB"><feGaussianBlur in="SourceGraphic" stdDeviation="7" result="base"/><feTurbulence type="fractalNoise" baseFrequency="0.05" numOctaves="3" seed="14"/><feColorMatrix type="matrix" values="1 0 0 0 0 1 0 0 0 0 1 0 0 0 0 0 0 0 0 1" result="n"/><feComposite in="base" in2="n" operator="arithmetic" k1="0" k2="1" k3="0.5" k4="-0.25" result="sh"/></filter><filter id="fg" x="-10%" y="-10%" width="120%" height="120%" color-interpolation-filters="sRGB"><feGaussianBlur in="SourceGraphic" stdDeviation="3.0" result="base"/><feTurbulence type="fractalNoise" baseFrequency="0.1" numOctaves="3" seed="31"/><feColorMatrix type="matrix" values="1 0 0 0 0 1 0 0 0 0 1 0 0 0 0 0 0 0 0 1" result="n"/><feComposite in="base" in2="n" operator="arithmetic" k1="0" k2="1" k3="0.3" k4="-0.15" result="sh"/></filter><filter id="spk" x="0" y="0" width="100%" height="100%" color-interpolation-filters="sRGB"><feTurbulence type="fractalNoise" baseFrequency="0.22" numOctaves="2" seed="17"/><feColorMatrix type="matrix" values="0 0 0 0 0.25 0 0 0 0 0.25 0 0 0 0 0.25 -12 0 0 0 3.9"/><feGaussianBlur stdDeviation="0.45"/></filter><filter id="fh" x="-10%" y="-10%" width="120%" height="120%" color-interpolation-filters="sRGB"><feGaussianBlur in="SourceGraphic" stdDeviation="6" result="base"/><feTurbulence type="fractalNoise" baseFrequency="0.5" numOctaves="2" seed="41"/><feColorMatrix type="matrix" values="1 0 0 0 0 1 0 0 0 0 1 0 0 0 0 0 0 0 0 1" result="n"/><feComposite in="base" in2="n" operator="arithmetic" k1="0" k2="1" k3="0.18" k4="-0.09" result="sh"/></filter><mask id="mH" maskUnits="userSpaceOnUse" x="160" y="540" width="200" height="160"><path d="M172,552 L200,560 L230,572 L260,582 L290,594 L320,602 L344,600 L344,692 L325,680 L305,664 L285,650 L262,637 L240,627 L220,619 L200,613 L172,609Z" fill="#fff" filter="url(#b4)"/></mask><radialGradient id="spI"><stop offset="0" stop-color="#e8e8e8"/><stop offset="0.5" stop-color="#c8c8c8"/><stop offset="0.8" stop-color="#7a7a7a" stop-opacity="0.8"/><stop offset="1" stop-color="#1a1a1a" stop-opacity="0"/></radialGradient><pattern id="lati" patternUnits="userSpaceOnUse" width="1" height="1" patternTransform="translate(348,521.2) matrix(6.0 1.84 1.53 5.26 0 0)"><rect width="1" height="1" fill="#141414"/><ellipse cx="0" cy="0" rx="1.1" ry="0.31" transform="translate(0.5 0.5) rotate(-45)" fill="url(#spI)"/><ellipse cx="0" cy="0" rx="1.1" ry="0.31" transform="translate(-0.5 1.5) rotate(-45)" fill="url(#spI)"/><ellipse cx="0" cy="0" rx="1.1" ry="0.31" transform="translate(1.5 -0.5) rotate(-45)" fill="url(#spI)"/></pattern><radialGradient id="hzI" cx="0.8" cy="0.15" r="0.55"><stop offset="0" stop-color="#7a7a7a" stop-opacity="0.6"/><stop offset="1" stop-color="#7a7a7a" stop-opacity="0"/></radialGradient></defs>
<g clip-path="url(#cpc)"><g filter="url(#fc)"><rect x="-20.6" y="290.9" width="22.1" height="22.1" fill="#d7d7d7"/><rect x="0.5" y="290.9" width="22.1" height="22.1" fill="#d7d7d7"/><rect x="21.6" y="290.9" width="22.1" height="22.1" fill="#d4d4d4"/><rect x="42.8" y="290.9" width="22.1" height="22.1" fill="#cdcdcd"/><rect x="63.9" y="290.9" width="22.1" height="22.1" fill="#afafaf"/><rect x="85.0" y="290.9" width="22.1" height="22.1" fill="#6e6e6e"/><rect x="106.1" y="290.9" width="22.1" height="22.1" fill="#5f5f5f"/><rect x="127.2" y="290.9" width="22.1" height="22.1" fill="#5a5a5a"/><rect x="148.4" y="290.9" width="22.1" height="22.1" fill="#555555"/><rect x="169.5" y="290.9" width="22.1" height="22.1" fill="#555555"/><rect x="-20.6" y="312.0" width="22.1" height="22.1" fill="#d7d7d7"/><rect x="0.5" y="312.0" width="22.1" height="22.1" fill="#d7d7d7"/><rect x="21.6" y="312.0" width="22.1" height="22.1" fill="#d4d4d4"/><rect x="42.8" y="312.0" width="22.1" height="22.1" fill="#cdcdcd"/><rect x="63.9" y="312.0" width="22.1" height="22.1" fill="#afafaf"/><rect x="85.0" y="312.0" width="22.1" height="22.1" fill="#6e6e6e"/><rect x="106.1" y="312.0" width="22.1" height="22.1" fill="#5f5f5f"/><rect x="127.2" y="312.0" width="22.1" height="22.1" fill="#5a5a5a"/><rect x="148.4" y="312.0" width="22.1" height="22.1" fill="#555555"/><rect x="169.5" y="312.0" width="22.1" height="22.1" fill="#555555"/><rect x="-20.6" y="333.1" width="22.1" height="22.1" fill="#dcdcdc"/><rect x="0.5" y="333.1" width="22.1" height="22.1" fill="#dcdcdc"/><rect x="21.6" y="333.1" width="22.1" height="22.1" fill="#d7d7d7"/><rect x="42.8" y="333.1" width="22.1" height="22.1" fill="#d2d2d2"/><rect x="63.9" y="333.1" width="22.1" height="22.1" fill="#bebebe"/><rect x="85.0" y="333.1" width="22.1" height="22.1" fill="#878787"/><rect x="106.1" y="333.1" width="22.1" height="22.1" fill="#5a5a5a"/><rect x="127.2" y="333.1" width="22.1" height="22.1" fill="#5c5c5c"/><rect x="148.4" y="333.1" width="22.1" height="22.1" fill="#5a5a5a"/><rect x="169.5" y="333.1" width="22.1" height="22.1" fill="#5a5a5a"/><rect x="-20.6" y="354.2" width="22.1" height="22.1" fill="#e0e0e0"/><rect x="0.5" y="354.2" width="22.1" height="22.1" fill="#e0e0e0"/><rect x="21.6" y="354.2" width="22.1" height="22.1" fill="#dcdcdc"/><rect x="42.8" y="354.2" width="22.1" height="22.1" fill="#d7d7d7"/><rect x="63.9" y="354.2" width="22.1" height="22.1" fill="#c8c8c8"/><rect x="85.0" y="354.2" width="22.1" height="22.1" fill="#a0a0a0"/><rect x="106.1" y="354.2" width="22.1" height="22.1" fill="#6e6e6e"/><rect x="127.2" y="354.2" width="22.1" height="22.1" fill="#585858"/><rect x="148.4" y="354.2" width="22.1" height="22.1" fill="#5f5f5f"/><rect x="169.5" y="354.2" width="22.1" height="22.1" fill="#5f5f5f"/><rect x="-20.6" y="375.4" width="22.1" height="22.1" fill="#e4e4e4"/><rect x="0.5" y="375.4" width="22.1" height="22.1" fill="#e4e4e4"/><rect x="21.6" y="375.4" width="22.1" height="22.1" fill="#e0e0e0"/><rect x="42.8" y="375.4" width="22.1" height="22.1" fill="#dadada"/><rect x="63.9" y="375.4" width="22.1" height="22.1" fill="#d0d0d0"/><rect x="85.0" y="375.4" width="22.1" height="22.1" fill="#b4b4b4"/><rect x="106.1" y="375.4" width="22.1" height="22.1" fill="#8c8c8c"/><rect x="127.2" y="375.4" width="22.1" height="22.1" fill="#696969"/><rect x="148.4" y="375.4" width="22.1" height="22.1" fill="#626262"/><rect x="169.5" y="375.4" width="22.1" height="22.1" fill="#626262"/><rect x="-20.6" y="396.5" width="22.1" height="22.1" fill="#e8e8e8"/><rect x="0.5" y="396.5" width="22.1" height="22.1" fill="#e8e8e8"/><rect x="21.6" y="396.5" width="22.1" height="22.1" fill="#e2e2e2"/><rect x="42.8" y="396.5" width="22.1" height="22.1" fill="#dcdcdc"/><rect x="63.9" y="396.5" width="22.1" height="22.1" fill="#d4d4d4"/><rect x="85.0" y="396.5" width="22.1" height="22.1" fill="#c4c4c4"/><rect x="106.1" y="396.5" width="22.1" height="22.1" fill="#aaaaaa"/><rect x="127.2" y="396.5" width="22.1" height="22.1" fill="#878787"/><rect x="148.4" y="396.5" width="22.1" height="22.1" fill="#787878"/><rect x="169.5" y="396.5" width="22.1" height="22.1" fill="#787878"/><rect x="-20.6" y="417.6" width="22.1" height="22.1" fill="#eaeaea"/><rect x="0.5" y="417.6" width="22.1" height="22.1" fill="#eaeaea"/><rect x="21.6" y="417.6" width="22.1" height="22.1" fill="#e4e4e4"/><rect x="42.8" y="417.6" width="22.1" height="22.1" fill="#dedede"/><rect x="63.9" y="417.6" width="22.1" height="22.1" fill="#d7d7d7"/><rect x="85.0" y="417.6" width="22.1" height="22.1" fill="#cdcdcd"/><rect x="106.1" y="417.6" width="22.1" height="22.1" fill="#bebebe"/><rect x="127.2" y="417.6" width="22.1" height="22.1" fill="#aaaaaa"/><rect x="148.4" y="417.6" width="22.1" height="22.1" fill="#a0a0a0"/><rect x="169.5" y="417.6" width="22.1" height="22.1" fill="#a0a0a0"/><rect x="-20.6" y="438.8" width="22.1" height="22.1" fill="#e8e8e8"/><rect x="0.5" y="438.8" width="22.1" height="22.1" fill="#e8e8e8"/><rect x="21.6" y="438.8" width="22.1" height="22.1" fill="#e4e4e4"/><rect x="42.8" y="438.8" width="22.1" height="22.1" fill="#dedede"/><rect x="63.9" y="438.8" width="22.1" height="22.1" fill="#d7d7d7"/><rect x="85.0" y="438.8" width="22.1" height="22.1" fill="#d0d0d0"/><rect x="106.1" y="438.8" width="22.1" height="22.1" fill="#c8c8c8"/><rect x="127.2" y="438.8" width="22.1" height="22.1" fill="#bebebe"/><rect x="148.4" y="438.8" width="22.1" height="22.1" fill="#b4b4b4"/><rect x="169.5" y="438.8" width="22.1" height="22.1" fill="#b4b4b4"/><rect x="-20.6" y="459.9" width="22.1" height="22.1" fill="#e4e4e4"/><rect x="0.5" y="459.9" width="22.1" height="22.1" fill="#e4e4e4"/><rect x="21.6" y="459.9" width="22.1" height="22.1" fill="#e2e2e2"/><rect x="42.8" y="459.9" width="22.1" height="22.1" fill="#dcdcdc"/><rect x="63.9" y="459.9" width="22.1" height="22.1" fill="#d7d7d7"/><rect x="85.0" y="459.9" width="22.1" height="22.1" fill="#d2d2d2"/><rect x="106.1" y="459.9" width="22.1" height="22.1" fill="#cdcdcd"/><rect x="127.2" y="459.9" width="22.1" height="22.1" fill="#c8c8c8"/><rect x="148.4" y="459.9" width="22.1" height="22.1" fill="#c3c3c3"/><rect x="169.5" y="459.9" width="22.1" height="22.1" fill="#c3c3c3"/><rect x="-20.6" y="481.0" width="22.1" height="22.1" fill="#e4e4e4"/><rect x="0.5" y="481.0" width="22.1" height="22.1" fill="#e4e4e4"/><rect x="21.6" y="481.0" width="22.1" height="22.1" fill="#e2e2e2"/><rect x="42.8" y="481.0" width="22.1" height="22.1" fill="#dcdcdc"/><rect x="63.9" y="481.0" width="22.1" height="22.1" fill="#d7d7d7"/><rect x="85.0" y="481.0" width="22.1" height="22.1" fill="#d2d2d2"/><rect x="106.1" y="481.0" width="22.1" height="22.1" fill="#cdcdcd"/><rect x="127.2" y="481.0" width="22.1" height="22.1" fill="#c8c8c8"/><rect x="148.4" y="481.0" width="22.1" height="22.1" fill="#c3c3c3"/><rect x="169.5" y="481.0" width="22.1" height="22.1" fill="#c3c3c3"/></g><g transform="rotate(-32 85.5 397.0)" opacity="0.75"><rect x="-44.5" y="267.0" width="260" height="260" filter="url(#stC)"/></g><g transform="rotate(40 85.5 397.0)" opacity="0.45"><rect x="-44.5" y="267.0" width="260" height="260" filter="url(#stC3)"/></g><g mask="url(#mC)"><g transform="rotate(-45 85.5 397.0)"><rect x="-44.5" y="267.0" width="260" height="260" filter="url(#stC2)"/></g></g><rect x="105.5" y="420" width="64.5" height="61.5" fill="#0c0c0c"/><circle cx="139.7" cy="451.3" r="3.6" fill="url(#spotW)"/><circle cx="125.8" cy="446.3" r="2.8" fill="url(#spotW)"/><circle cx="139.7" cy="436.4" r="2.3" fill="url(#spotW)"/><circle cx="153.7" cy="441.6" r="2.0" fill="url(#spotW)"/><circle cx="153.7" cy="456.5" r="2.6" fill="url(#spotW)"/><circle cx="139.5" cy="465.7" r="2.0" fill="url(#spotW)"/><circle cx="125.8" cy="431.4" r="2.3" fill="url(#spotW)"/><circle cx="125.8" cy="460.9" r="2.1" fill="url(#spotW)"/><circle cx="153.7" cy="427.1" r="2.0" fill="url(#spotW)"/><circle cx="167.6" cy="432.4" r="1.8" fill="url(#spotW)"/><circle cx="167.6" cy="446.8" r="1.8" fill="url(#spotW)"/><circle cx="140.2" cy="422" r="1.6" fill="url(#spotW)"/><circle cx="112.4" cy="426.4" r="1.4" fill="url(#spotW)"/><circle cx="112.4" cy="441.3" r="1.6" fill="url(#spotW)"/><circle cx="112.4" cy="455.7" r="1.5" fill="url(#spotW)"/><circle cx="132.8" cy="441.3" r="1.2" fill="url(#spotW)"/><circle cx="146.7" cy="446.8" r="1.2" fill="url(#spotW)"/><circle cx="132.8" cy="456.2" r="1.2" fill="url(#spotW)"/><circle cx="167.6" cy="461.7" r="1.3" fill="url(#spotW)"/><circle cx="112.4" cy="470.5" r="1.2" fill="url(#spotW)"/><circle cx="125.8" cy="475.5" r="1.2" fill="url(#spotW)"/><circle cx="153.7" cy="441.6" r="2.6" fill="none" stroke="#e01010" stroke-width="1.1" stroke-dasharray="1.3 0.9"/><circle cx="153.7" cy="456.5" r="2.6" fill="none" stroke="#e01010" stroke-width="1.1" stroke-dasharray="1.3 0.9"/><circle cx="139.5" cy="465.7" r="2.6" fill="none" stroke="#e01010" stroke-width="1.1" stroke-dasharray="1.3 0.9"/><text x="143.3" y="437.6" font-size="9.5" fill="#f4f4f4" textLength="16.5" lengthAdjust="spacingAndGlyphs">(111)</text><text x="160.0" y="439.8" font-size="5.9" fill="#f4f4f4">γ</text><line x1="146.3" y1="429.8" x2="149.1" y2="429.8" stroke="#f4f4f4" stroke-width="0.8"/><line x1="154.1" y1="429.8" x2="156.9" y2="429.8" stroke="#f4f4f4" stroke-width="0.8"/><text x="145.8" y="467.3" font-size="9.5" fill="#f4f4f4" textLength="16.5" lengthAdjust="spacingAndGlyphs">(111)</text><text x="162.5" y="469.5" font-size="5.9" fill="#f4f4f4">γ</text><line x1="156.6" y1="459.5" x2="159.4" y2="459.5" stroke="#f4f4f4" stroke-width="0.8"/><text x="141.2" y="477.2" font-size="9.5" fill="#f4f4f4" textLength="16.5" lengthAdjust="spacingAndGlyphs">(200)</text><text x="157.9" y="479.4" font-size="5.9" fill="#f4f4f4">γ</text><text x="109.5" y="481" font-size="9.5" fill="#f0f0f0" textLength="30" lengthAdjust="spacingAndGlyphs">Z = [011]</text><polyline points="125.7,387 134.4,399.1 140.4,383.2" fill="none" stroke="#dd1111" stroke-width="1.5"/><line x1="134.4" y1="399.1" x2="153" y2="399.1" stroke="#dd1111" stroke-width="1.5"/><text x="103" y="397.5" font-size="11.5" fill="#f4f4f4">(111)</text><line x1="107.4" y1="388.1" x2="112.7" y2="388.1" stroke="#f4f4f4" stroke-width="0.8"/><line x1="113.8" y1="388.1" x2="119.1" y2="388.1" stroke="#f4f4f4" stroke-width="0.8"/><line x1="120.2" y1="388.1" x2="125.5" y2="388.1" stroke="#f4f4f4" stroke-width="0.8"/><text x="140.2" y="389.3" font-size="11.5" fill="#f4f4f4">(111)</text><line x1="157.4" y1="379.9" x2="162.7" y2="379.9" stroke="#f4f4f4" stroke-width="0.8"/><text x="137.5" y="412.8" font-size="11.5" fill="#f4f4f4">(111)</text><line x1="148.3" y1="403.4" x2="153.6" y2="403.4" stroke="#f4f4f4" stroke-width="0.8"/><rect x="1.5" y="459.6" width="48.5" height="22" fill="#ffffff" fill-opacity="0.25"/><text x="6.3" y="472.8" font-size="12.4" fill="#111">500 nm</text><rect x="8.3" y="475.4" width="36.5" height="2.2" fill="#f4f4f4" stroke="#333" stroke-width="0.7"/></g>
<g clip-path="url(#cpd)"><rect x="175" y="312.5" width="165.8" height="169" fill="url(#latd)"/><rect x="175" y="395" width="165.8" height="90" fill="url(#latd2)" mask="url(#mD)"/><rect x="175" y="312.5" width="165.8" height="169" fill="url(#hzD)"/><path d="M204.7,321.8 L333.2,318.1 L310.4,396.8 M309.1,399.7 L181.4,399.7 L204.7,321.8" fill="none" stroke="#d01010" stroke-width="1.6" stroke-linejoin="miter"/><g transform="translate(319.3,432) rotate(-74.5)"><text font-size="14" font-style="italic" fill="#fff" textLength="67" lengthAdjust="spacingAndGlyphs">b=1/2[011]</text><line x1="59" y1="-11.3" x2="64" y2="-11.3" stroke="#fff" stroke-width="1"/></g><rect x="176.5" y="459.5" width="38" height="22" fill="#dddddd" fill-opacity="0.35"/><text x="182.3" y="472.5" font-size="12.4" fill="#fff">1 nm</text><rect x="183.8" y="475" width="25.799999999999983" height="2" fill="#fff" stroke="#777" stroke-width="0.5"/></g>
<g clip-path="url(#cpe)"><g filter="url(#fe)"><rect x="319.1" y="283.8" width="29.2" height="29.2" fill="#3a3a3a"/><rect x="347.3" y="283.8" width="29.2" height="29.2" fill="#3a3a3a"/><rect x="375.5" y="283.8" width="29.2" height="29.2" fill="#444444"/><rect x="403.7" y="283.8" width="29.2" height="29.2" fill="#525252"/><rect x="431.9" y="283.8" width="29.2" height="29.2" fill="#484848"/><rect x="460.1" y="283.8" width="29.2" height="29.2" fill="#3a3a3a"/><rect x="488.3" y="283.8" width="29.2" height="29.2" fill="#4e4e4e"/><rect x="516.5" y="283.8" width="29.2" height="29.2" fill="#4e4e4e"/><rect x="319.1" y="312.0" width="29.2" height="29.2" fill="#3a3a3a"/><rect x="347.3" y="312.0" width="29.2" height="29.2" fill="#3a3a3a"/><rect x="375.5" y="312.0" width="29.2" height="29.2" fill="#444444"/><rect x="403.7" y="312.0" width="29.2" height="29.2" fill="#525252"/><rect x="431.9" y="312.0" width="29.2" height="29.2" fill="#484848"/><rect x="460.1" y="312.0" width="29.2" height="29.2" fill="#3a3a3a"/><rect x="488.3" y="312.0" width="29.2" height="29.2" fill="#4e4e4e"/><rect x="516.5" y="312.0" width="29.2" height="29.2" fill="#4e4e4e"/><rect x="319.1" y="340.2" width="29.2" height="29.2" fill="#878787"/><rect x="347.3" y="340.2" width="29.2" height="29.2" fill="#878787"/><rect x="375.5" y="340.2" width="29.2" height="29.2" fill="#949494"/><rect x="403.7" y="340.2" width="29.2" height="29.2" fill="#8c8c8c"/><rect x="431.9" y="340.2" width="29.2" height="29.2" fill="#828282"/><rect x="460.1" y="340.2" width="29.2" height="29.2" fill="#787878"/><rect x="488.3" y="340.2" width="29.2" height="29.2" fill="#8c8c8c"/><rect x="516.5" y="340.2" width="29.2" height="29.2" fill="#8c8c8c"/><rect x="319.1" y="368.5" width="29.2" height="29.2" fill="#9b9b9b"/><rect x="347.3" y="368.5" width="29.2" height="29.2" fill="#9b9b9b"/><rect x="375.5" y="368.5" width="29.2" height="29.2" fill="#a0a0a0"/><rect x="403.7" y="368.5" width="29.2" height="29.2" fill="#8c8c8c"/><rect x="431.9" y="368.5" width="29.2" height="29.2" fill="#8a8a8a"/><rect x="460.1" y="368.5" width="29.2" height="29.2" fill="#8a8a8a"/><rect x="488.3" y="368.5" width="29.2" height="29.2" fill="#9b9b9b"/><rect x="516.5" y="368.5" width="29.2" height="29.2" fill="#9b9b9b"/><rect x="319.1" y="396.8" width="29.2" height="29.2" fill="#afafaf"/><rect x="347.3" y="396.8" width="29.2" height="29.2" fill="#afafaf"/><rect x="375.5" y="396.8" width="29.2" height="29.2" fill="#aaaaaa"/><rect x="403.7" y="396.8" width="29.2" height="29.2" fill="#878787"/><rect x="431.9" y="396.8" width="29.2" height="29.2" fill="#969696"/><rect x="460.1" y="396.8" width="29.2" height="29.2" fill="#9b9b9b"/><rect x="488.3" y="396.8" width="29.2" height="29.2" fill="#a0a0a0"/><rect x="516.5" y="396.8" width="29.2" height="29.2" fill="#a0a0a0"/><rect x="319.1" y="425.0" width="29.2" height="29.2" fill="#bebebe"/><rect x="347.3" y="425.0" width="29.2" height="29.2" fill="#bebebe"/><rect x="375.5" y="425.0" width="29.2" height="29.2" fill="#b2b2b2"/><rect x="403.7" y="425.0" width="29.2" height="29.2" fill="#7d7d7d"/><rect x="431.9" y="425.0" width="29.2" height="29.2" fill="#9b9b9b"/><rect x="460.1" y="425.0" width="29.2" height="29.2" fill="#969696"/><rect x="488.3" y="425.0" width="29.2" height="29.2" fill="#969696"/><rect x="516.5" y="425.0" width="29.2" height="29.2" fill="#969696"/><rect x="319.1" y="453.2" width="29.2" height="29.2" fill="#c3c3c3"/><rect x="347.3" y="453.2" width="29.2" height="29.2" fill="#c3c3c3"/><rect x="375.5" y="453.2" width="29.2" height="29.2" fill="#bcbcbc"/><rect x="403.7" y="453.2" width="29.2" height="29.2" fill="#828282"/><rect x="431.9" y="453.2" width="29.2" height="29.2" fill="#a0a0a0"/><rect x="460.1" y="453.2" width="29.2" height="29.2" fill="#969696"/><rect x="488.3" y="453.2" width="29.2" height="29.2" fill="#969696"/><rect x="516.5" y="453.2" width="29.2" height="29.2" fill="#969696"/><rect x="319.1" y="481.5" width="29.2" height="29.2" fill="#c3c3c3"/><rect x="347.3" y="481.5" width="29.2" height="29.2" fill="#c3c3c3"/><rect x="375.5" y="481.5" width="29.2" height="29.2" fill="#bcbcbc"/><rect x="403.7" y="481.5" width="29.2" height="29.2" fill="#828282"/><rect x="431.9" y="481.5" width="29.2" height="29.2" fill="#a0a0a0"/><rect x="460.1" y="481.5" width="29.2" height="29.2" fill="#969696"/><rect x="488.3" y="481.5" width="29.2" height="29.2" fill="#969696"/><rect x="516.5" y="481.5" width="29.2" height="29.2" fill="#969696"/></g><g filter="url(#b05)" fill="none" stroke="#222" stroke-linecap="round"><path d="M347.8 400.4Q348.9 404.0 350.9 403.0M348.9 477.2Q348.1 472.5 349.2 472.0M348.9 477.2Q348.0 478.5 347.8 477.8M489.8 442.5Q491.6 447.1 487.9 447.8M476.4 441.8Q478.9 441.9 476.9 444.3M517.0 396.8Q515.6 398.0 516.5 399.2M513.0 481.4Q511.7 477.1 513.0 482.0M504.5 471.8Q505.1 477.6 501.8 480.1M511.6 470.9Q512.8 473.3 514.8 473.4M515.8 478.0Q512.1 478.3 513.0 481.4M500.0 465.9Q497.3 466.0 494.5 465.4M491.8 472.1Q494.2 473.2 500.0 481.3M397.5 369.3Q397.4 371.5 399.0 363.2M360.4 394.4Q364.9 390.2 367.0 385.4M351.8 415.1Q351.2 417.8 347.8 419.9M517.0 335.2Q511.3 338.3 511.2 341.2M517.0 318.4Q514.0 318.8 513.2 319.1M513.2 319.1Q515.5 324.4 509.7 326.7M513.2 319.1Q511.7 317.2 506.5 312.5M474.9 429.1Q477.4 430.6 483.5 433.9M408.8 382.9Q411.8 381.5 413.9 379.7M416.3 386.5Q415.8 385.2 415.3 387.4M416.3 386.5Q415.2 380.7 415.9 380.8M415.3 387.4Q412.0 384.7 408.8 386.1M415.0 393.8Q413.9 396.9 411.0 398.4M411.0 398.4Q408.1 393.9 407.3 394.8M414.5 392.7Q413.9 391.1 408.3 391.3M408.8 386.1Q408.9 389.2 407.8 390.5M400.6 385.3Q402.4 384.1 400.5 390.5M407.8 390.5Q402.4 391.2 400.5 390.5M516.7 399.7Q515.3 406.4 515.9 406.4M465.2 438.7Q465.6 444.9 464.2 449.2M473.9 449.8Q471.4 448.0 477.8 455.4M464.2 449.2Q460.4 446.8 453.7 446.8M453.1 457.0Q451.1 454.3 451.2 454.0M499.9 431.7Q500.7 428.3 500.5 423.6M505.0 422.1Q508.2 424.4 511.1 426.5M496.0 421.1Q492.8 425.1 488.3 426.1M507.7 414.6Q504.6 418.9 505.0 422.1M491.1 406.6Q491.1 412.0 491.2 413.7M491.1 406.6Q496.6 403.7 496.2 402.2M502.3 406.0Q502.6 405.0 503.5 409.1M496.2 402.2Q494.1 399.8 495.2 397.7M482.1 399.7Q484.2 398.4 477.6 392.9M477.6 392.9Q480.6 389.3 479.5 388.0M517.0 442.6Q514.3 438.1 514.5 445.1M507.0 434.6Q508.6 439.3 506.0 441.6M514.5 445.1Q511.8 447.0 506.0 441.6M348.9 477.2Q352.0 480.8 357.1 481.2M357.1 481.2Q355.2 482.7 357.1 482.0M369.2 479.8Q370.2 479.4 369.8 482.0M349.2 472.0Q354.2 466.9 357.9 466.0M462.1 363.8Q463.8 369.6 464.2 363.6M471.8 354.8Q468.0 361.0 464.2 363.6M382.7 377.2Q385.4 383.4 382.9 387.8M373.2 388.7Q372.1 387.2 369.5 384.6M369.9 382.9Q370.8 382.4 369.5 384.6M387.1 375.5Q392.1 380.7 394.1 381.9M387.7 391.7Q385.5 390.7 382.9 387.8M372.7 396.5Q369.6 393.0 373.2 388.7M387.8 391.9Q382.4 394.6 378.6 400.3M367.0 385.4Q368.5 384.9 369.5 384.6M383.9 361.4Q381.2 365.1 376.3 369.8M383.9 361.4Q381.7 358.1 383.0 359.7M396.2 350.4Q388.5 348.8 383.7 351.2M432.6 372.8Q430.0 370.7 427.2 370.7M430.2 364.4Q432.1 365.0 434.2 368.5M391.0 406.2Q392.6 408.8 400.7 406.4M402.8 401.3Q403.0 405.2 400.7 406.4M387.8 391.9Q390.2 395.1 392.0 395.4M398.0 381.4Q402.6 385.1 400.6 385.3M407.3 394.8Q403.4 396.5 401.0 396.9M498.1 320.6Q499.2 326.8 498.7 324.7M492.7 316.8Q488.4 318.9 485.0 322.6M485.0 322.6Q488.8 323.6 490.5 328.2M365.6 314.0Q366.5 313.3 366.2 312.5M365.6 314.0Q367.6 318.3 370.6 320.2M407.4 355.0Q407.1 356.0 406.3 358.0M438.9 317.0Q436.8 314.5 440.9 312.5M438.9 317.0Q436.7 317.0 431.1 313.8M358.0 324.7Q356.9 322.8 357.3 321.2M351.1 331.3Q352.6 327.9 358.0 324.7M355.4 345.8Q360.1 349.2 363.7 346.1M363.7 346.1Q366.4 343.0 366.5 339.8M465.2 438.7Q465.3 440.2 465.1 438.6M451.1 407.6Q449.0 406.1 449.1 400.7M451.7 415.2Q451.2 414.0 448.0 415.2M454.1 409.4Q453.3 409.6 451.1 407.6M444.6 409.1Q444.0 410.1 444.6 408.7M445.5 407.9Q445.3 411.7 444.6 408.7M473.7 417.1Q476.1 418.6 477.5 423.5M477.5 423.5Q481.7 420.5 484.4 422.4M468.0 426.4Q470.7 425.9 467.4 420.9M471.8 404.8Q469.5 406.5 468.9 410.0M491.2 413.7Q488.6 415.8 484.9 415.7M480.5 405.2Q479.6 403.2 481.1 404.6M424.4 410.7Q426.5 414.2 425.3 413.2M476.6 377.4Q482.1 376.3 485.7 375.7M486.5 370.8Q485.8 372.7 485.5 368.9M475.2 383.1Q479.5 385.9 479.5 388.0M489.8 382.3Q486.4 379.0 485.7 375.7M466.7 384.5Q468.6 383.3 475.2 383.1M466.7 384.5Q466.1 379.7 465.4 376.3M465.4 376.3Q464.3 372.7 461.6 374.0M487.9 359.2Q487.0 364.4 485.5 368.9M506.3 359.4Q512.0 360.7 517.0 360.6M505.7 358.9Q508.7 357.8 506.3 359.4M505.9 354.3Q506.5 357.0 505.7 358.9M505.9 354.3Q510.6 353.0 515.2 350.0M487.9 359.2Q486.2 358.2 484.2 356.9M471.8 354.8Q471.5 351.9 472.1 354.8M461.6 374.0Q457.4 378.1 454.3 376.9M451.1 369.8Q453.7 373.4 454.3 376.9M517.0 395.9Q516.3 393.7 513.6 389.2M512.4 372.8Q513.7 369.9 513.6 375.2M513.6 375.2Q517.9 375.4 517.0 377.3M507.6 387.9Q505.4 385.3 506.4 384.0M508.4 399.0Q507.0 397.0 504.4 392.2M495.2 397.7Q499.6 397.3 498.6 393.2M517.0 452.8Q516.4 454.9 514.1 452.1M474.9 461.3Q470.3 460.6 466.7 462.5M466.7 462.5Q468.3 464.3 468.3 471.1M447.1 361.4Q445.8 360.3 444.2 359.0M452.3 355.9Q448.8 354.8 444.9 355.1M444.2 359.0Q446.3 355.7 444.9 355.1M438.9 317.0Q440.6 317.7 439.9 318.7M436.0 324.8Q433.9 326.1 438.9 330.0M438.9 330.0Q438.2 332.9 445.1 329.6M456.9 337.1Q456.2 335.1 455.1 335.6M436.9 390.6Q434.4 392.8 434.2 390.0M434.2 390.0Q432.8 387.1 431.8 386.0M445.1 390.1Q443.4 388.1 442.4 387.2M449.3 380.8Q444.3 381.6 443.0 382.7M442.4 387.2Q439.5 387.7 443.0 382.7M444.1 392.3Q444.5 395.9 445.4 396.7M436.6 396.7Q434.7 397.8 437.3 396.1M431.3 395.2Q429.5 393.5 430.4 393.2M449.7 398.6Q444.3 396.4 445.4 396.7M441.7 402.2Q437.6 403.1 442.5 398.4M379.4 346.9Q377.7 345.8 381.1 347.4M379.4 346.9Q376.0 341.7 373.2 338.0M371.9 351.6Q373.3 357.4 371.6 358.7M371.9 351.6Q375.1 348.2 379.4 346.9M379.4 319.5Q379.8 324.3 382.3 330.2M389.6 330.1Q391.6 325.1 392.6 320.0M443.0 382.7Q439.6 380.3 438.5 380.1M428.9 399.9Q432.5 397.0 431.3 395.2M423.5 396.0Q426.0 394.7 429.0 392.5M484.6 322.6Q481.4 327.4 477.6 328.9M470.4 319.4Q472.0 316.2 470.7 318.4M485.0 322.6Q483.9 325.4 484.6 322.6M511.2 341.2Q509.2 341.8 509.2 340.9M505.9 354.3Q502.0 350.8 501.8 348.4M403.3 317.4Q402.8 313.6 400.2 312.5M415.2 313.5Q414.0 312.3 411.2 312.7M402.2 322.2Q402.8 317.3 403.3 317.4M397.0 342.7Q392.9 338.2 397.5 333.0M399.0 332.0Q405.7 335.4 408.0 337.1M398.6 347.3Q398.7 345.1 398.1 344.7M386.8 340.9Q390.8 341.2 397.0 342.7M389.6 330.1Q392.0 331.7 397.5 333.0M410.5 342.6Q408.2 344.9 409.7 346.2M410.5 342.6Q410.0 342.3 407.8 338.8M403.6 325.0Q402.4 325.7 399.0 332.0M403.6 325.0Q400.8 325.4 402.2 322.2M408.7 336.5Q410.7 333.1 409.8 332.2M362.6 314.7Q359.8 313.3 359.1 312.5M416.3 386.5Q417.6 385.9 421.4 387.4M422.6 382.1Q422.4 383.9 421.4 387.4M431.4 378.5Q428.6 381.5 427.3 382.0M431.1 377.0Q428.4 375.9 425.0 375.4M427.3 382.0Q425.4 380.0 425.7 381.3M432.7 372.9Q429.6 371.8 431.1 377.0M412.1 375.2Q409.7 376.2 412.2 374.7M405.6 378.5Q404.1 376.7 400.9 377.0M413.9 379.7Q415.4 378.6 412.1 375.2M430.0 364.5Q429.2 362.6 425.6 363.1M425.7 371.2Q424.0 368.7 422.2 368.7M422.2 368.7Q422.9 368.3 425.6 363.1M418.9 373.9Q419.8 370.7 420.7 368.7M448.0 415.2Q445.2 413.9 444.5 417.2M461.8 418.5Q458.3 417.8 456.1 422.1M437.9 419.1Q435.1 416.9 434.8 418.2M432.6 413.1Q434.2 415.4 439.5 413.4M444.5 417.2Q442.1 418.0 440.7 415.9M440.6 424.1Q440.1 423.4 438.3 422.4M444.6 409.1Q443.7 412.0 440.0 413.9M429.1 417.7Q427.9 416.5 430.9 413.3M429.1 417.7Q431.0 420.0 431.2 420.8M431.8 412.7Q434.1 412.5 432.1 412.7M432.1 412.7Q428.4 412.7 432.6 413.1M438.3 408.9Q440.4 408.3 435.3 408.1M438.3 408.9Q440.6 410.4 440.6 406.8M441.7 402.2Q440.8 403.6 439.9 403.4M440.6 406.8Q441.0 401.8 439.9 403.4M402.8 401.3Q406.7 403.2 409.5 401.7M409.5 401.7Q408.4 402.1 410.8 400.0M420.0 408.5Q417.8 404.0 417.3 404.9M420.0 408.5Q422.8 404.6 424.1 404.4M424.1 404.4Q425.4 402.4 422.4 401.6M417.5 401.8Q419.5 402.6 417.3 404.9M424.3 397.6Q422.4 399.1 422.4 401.6M409.5 401.7Q407.6 406.1 410.7 407.0M410.7 407.0Q409.4 405.2 410.9 407.2M410.9 407.2Q415.9 407.6 417.3 404.9M446.4 453.8Q442.8 453.4 444.0 459.7M451.4 461.6Q448.5 461.8 444.7 461.3M468.5 399.4Q469.0 396.9 469.2 395.5M477.6 392.9Q475.7 396.3 469.2 395.5M466.7 384.5Q464.4 386.6 463.8 388.1M454.3 376.9Q453.3 378.0 453.8 378.2M453.8 378.2Q458.1 384.9 461.5 388.3M449.4 380.7Q455.5 378.6 453.8 378.2M471.8 404.8Q470.3 402.3 468.5 399.4M449.7 398.6Q454.3 394.6 454.7 396.3M478.4 345.0Q475.2 343.6 472.0 339.3M487.4 336.7Q490.0 340.9 486.1 343.8M463.7 348.1Q460.5 349.2 463.3 346.8M463.3 346.8Q464.0 343.5 472.0 339.3M489.7 334.9Q485.8 336.5 487.4 336.7M458.3 344.3Q456.1 340.0 456.9 337.1M447.1 361.4Q448.5 362.8 446.3 364.1M472.9 481.8Q472.3 482.2 472.8 482.0M471.8 473.6Q474.5 477.2 472.9 481.8M461.8 481.3Q463.8 480.8 464.2 482.0M400.7 406.4Q402.0 410.3 402.5 409.1M410.7 407.0Q407.9 402.0 403.9 409.3M402.5 409.1Q403.6 409.0 403.9 409.3M440.2 438.0Q442.1 440.9 442.5 442.1M440.2 438.0Q439.0 438.2 435.7 438.6M429.0 470.3Q424.5 472.5 425.3 473.4M425.3 473.4Q420.3 469.9 422.6 468.9M424.2 460.9Q423.1 457.9 425.5 459.4M417.3 463.7Q418.4 465.0 423.1 467.2M419.2 461.4Q421.4 462.2 424.2 460.9M418.9 479.6Q415.7 481.6 417.5 482.0M406.3 478.0Q406.3 481.4 406.7 477.3M397.1 482.0Q399.2 483.7 396.8 481.7M382.2 478.9Q383.7 478.4 382.1 482.0M369.2 479.8Q371.6 475.5 375.0 474.3M361.4 469.4Q363.7 467.3 368.0 467.7M419.1 474.9Q417.3 475.3 418.1 477.5M418.9 479.6Q417.5 476.5 418.1 477.5M412.1 482.0Q411.6 481.9 412.8 477.2M408.8 470.1Q410.6 472.0 411.4 474.6M425.1 474.4Q419.3 473.2 419.1 474.9M422.6 468.9Q417.6 472.2 417.7 471.4M408.8 470.1Q410.3 467.2 410.0 468.5M442.8 365.0Q445.6 366.6 446.3 364.1M469.0 314.0Q467.3 315.0 461.7 312.5M469.0 314.0Q467.3 311.6 469.6 312.5M470.7 318.4Q470.6 317.3 469.0 314.0M368.7 361.4Q369.4 362.1 368.5 362.6M409.1 354.6Q409.2 355.6 414.5 357.4M414.5 357.4Q419.0 356.1 415.5 356.7M415.2 313.5Q413.9 313.3 416.9 318.3M431.1 313.8Q432.7 318.5 425.6 320.2M425.6 320.2Q419.9 320.3 416.9 318.3M444.4 346.2Q447.0 348.6 447.3 348.4M452.3 355.9Q451.5 351.0 451.8 348.5M458.3 344.3Q454.1 344.9 453.2 347.0M453.2 347.0Q450.8 347.9 451.8 348.5M455.1 335.6Q454.4 335.0 451.9 336.0M376.0 400.5Q377.0 403.3 372.7 407.5M388.2 409.0Q385.0 413.7 377.7 413.9M354.6 415.7Q358.0 412.4 363.3 410.3M348.0 317.2Q347.0 318.6 347.8 317.3M351.1 331.3Q350.3 327.1 347.8 327.7M416.9 364.2Q415.5 366.9 416.7 365.9M416.9 364.2Q414.0 361.6 414.1 360.2M416.7 365.9Q415.4 366.7 414.3 367.5M414.3 367.5Q413.1 364.1 408.9 366.2M414.1 360.2Q413.6 359.0 409.9 361.3M422.7 359.7Q419.8 362.3 416.9 364.2M422.7 359.7Q422.1 359.3 421.6 357.0M413.4 373.5Q412.8 367.4 414.3 367.5M406.3 358.0Q408.4 359.8 409.9 361.3M436.7 429.8Q440.4 425.5 439.9 427.9M440.2 438.0Q440.6 437.4 442.2 434.6M434.6 437.1Q435.4 439.0 435.7 438.6M444.8 447.8Q445.4 447.4 443.3 446.8M449.4 439.2Q452.2 440.1 452.1 439.1M434.6 405.8Q433.8 407.7 428.4 405.7M429.3 400.8Q430.3 399.3 435.7 401.1M429.3 400.8Q429.3 403.2 428.1 405.0M428.9 399.9Q429.5 399.6 429.3 400.8M424.1 404.4Q426.8 407.0 428.1 405.0M424.4 410.7Q422.4 412.4 420.0 409.0M420.0 409.0Q418.4 410.0 420.0 408.5M444.0 459.7Q446.3 458.1 438.8 457.8M434.9 463.4Q434.2 464.7 430.2 463.6M434.9 463.4Q434.7 467.2 435.0 463.4M435.0 463.4Q430.3 466.1 432.1 470.7M457.1 473.3Q450.8 476.1 450.3 476.7M447.3 468.7Q449.4 473.0 446.4 472.4M456.5 467.8Q454.7 466.6 452.4 465.2M446.4 472.4Q449.0 472.1 446.5 473.3M460.3 475.5Q460.8 477.5 457.1 473.3M439.1 465.8Q441.8 469.7 439.7 469.5M439.7 469.5Q442.4 469.9 446.4 472.4M442.8 365.0Q441.5 368.2 441.8 370.0M449.4 380.7Q446.4 381.9 444.8 376.2M436.7 367.8Q437.8 368.1 440.5 370.5M436.7 367.8Q436.0 363.7 437.9 364.0M425.7 418.0Q425.5 417.8 424.4 415.1M424.0 421.2Q423.2 422.7 423.8 421.3M443.3 446.8Q439.3 449.5 439.4 449.0M438.7 456.7Q440.3 453.5 441.5 453.4M435.6 443.8Q434.0 447.3 435.4 444.0M423.9 428.9Q423.7 427.5 423.9 428.7M431.8 430.8Q430.0 432.7 431.3 431.9M434.6 437.1Q435.9 438.2 433.1 436.7M437.9 364.0Q437.3 362.0 433.9 360.8M439.0 357.7Q438.2 356.7 438.9 356.4M432.9 360.7Q434.5 359.9 433.9 360.8M361.0 372.9Q358.8 376.1 354.1 377.2M349.8 366.2Q351.7 368.0 353.2 376.4M355.2 357.4Q357.7 359.8 354.8 361.9M347.8 376.3Q349.1 377.8 353.2 376.4M426.0 351.4Q425.6 348.5 424.2 346.0M421.6 357.0Q421.7 356.2 422.4 353.5M430.6 345.3Q428.9 344.5 428.6 344.2M432.6 338.4Q430.1 337.7 428.3 340.6M433.2 338.7Q432.0 338.7 433.5 343.0M354.6 415.7Q359.8 418.7 358.6 423.5M347.8 455.4Q352.4 456.7 351.5 457.3M356.3 450.8Q354.2 452.9 351.5 457.3M369.5 462.6Q367.2 461.9 364.7 457.2M347.8 462.6Q350.3 464.2 351.7 459.1M351.7 459.1Q351.5 457.9 351.5 457.3M444.2 430.5Q450.0 431.1 452.6 432.7M444.6 423.2Q444.9 420.4 445.8 425.6M456.2 426.7Q456.3 427.7 454.5 428.4M450.3 476.7Q450.5 476.8 450.0 478.6M403.9 409.3Q409.7 411.9 409.1 415.3M426.9 432.9Q424.3 431.0 426.1 435.8M427.5 445.6Q426.6 444.6 424.8 444.8M429.4 438.5Q426.1 438.9 427.3 437.9M420.5 439.1Q422.3 438.9 424.4 441.8M426.1 435.8Q425.7 435.3 427.3 437.9M425.8 458.0Q430.1 454.9 430.8 456.2M422.5 450.3Q425.7 447.2 423.9 445.5M422.5 450.3Q423.8 453.8 425.1 452.0M431.2 348.1Q427.6 348.5 427.4 351.7M438.9 356.4Q441.4 355.4 435.5 353.2M436.0 324.8Q433.4 327.6 431.1 326.9M424.2 346.0Q424.5 344.1 422.8 339.9M427.9 326.2Q425.4 331.5 427.0 333.8M409.8 332.2Q409.5 336.0 415.1 331.3M445.4 331.6Q445.7 328.6 443.5 335.1M444.4 346.2Q445.4 340.7 445.3 340.3M446.9 339.8Q448.0 341.1 445.6 339.9M356.3 450.8Q357.7 451.9 357.7 450.5M364.7 457.2Q368.1 452.2 364.7 457.0M425.1 474.4Q424.6 476.3 426.7 477.5M412.8 411.7Q413.2 413.1 413.3 411.9M419.3 444.8Q418.1 446.0 417.4 448.6M357.7 450.5Q361.5 446.9 362.4 444.3M356.7 437.1Q358.0 438.6 362.4 444.3M356.2 428.2Q359.7 431.4 358.2 433.7M364.7 457.0Q370.1 457.5 371.7 450.7M416.5 333.6Q418.1 334.1 420.2 334.7M415.5 341.2Q415.1 340.4 417.1 341.9M421.3 333.6Q419.4 334.3 420.2 334.7M408.7 336.5Q411.4 335.4 414.0 336.9M408.9 464.2Q410.8 464.7 413.2 461.8M408.9 464.2Q406.9 461.2 405.5 462.9M405.5 462.9Q405.9 460.7 409.0 456.5M413.2 461.8Q414.7 462.3 412.3 458.1M412.3 458.1Q411.0 457.2 409.0 456.5M409.0 456.5Q409.6 454.8 408.6 455.8M433.0 479.5Q436.6 481.2 433.3 482.0M433.0 479.5Q435.7 476.9 437.6 475.5M437.8 482.0Q439.9 478.6 440.1 478.7M443.5 481.5Q442.3 481.3 440.1 478.7M416.8 421.2Q417.6 420.8 420.6 419.5M420.6 419.5Q420.1 418.3 420.3 415.5M419.5 409.7Q421.8 413.6 420.0 415.3M413.3 411.9Q414.3 413.4 416.1 416.0M423.8 421.3Q423.7 418.2 420.6 419.5M378.2 439.1Q371.6 440.4 368.9 441.9M368.5 423.4Q368.0 426.4 370.9 427.9M408.0 446.3Q403.6 449.5 404.8 448.5M412.8 447.9Q414.8 452.0 413.0 448.5M408.1 442.1Q409.2 445.1 408.0 446.3M408.6 455.8Q407.2 456.3 409.2 452.9M416.4 455.2Q410.9 451.8 412.5 450.3M419.3 444.8Q418.4 446.1 418.0 443.1M418.0 443.1Q418.2 444.7 419.1 439.9M418.0 443.1Q416.3 442.1 413.8 443.4M419.1 439.9Q414.7 439.0 413.9 436.9M417.7 426.0Q414.0 424.9 417.7 426.0M417.9 433.2Q417.0 435.8 416.3 430.0M377.8 429.4Q382.4 429.1 382.2 427.2M383.4 425.4Q381.3 424.4 382.2 427.2M377.9 460.7Q378.1 460.0 378.2 459.7M380.1 465.8Q382.1 468.6 389.2 467.3M384.8 455.4Q388.1 460.4 392.2 459.1M389.2 467.3Q392.2 468.1 392.2 464.2M369.5 462.6Q373.0 460.8 377.9 460.7M375.5 474.2Q374.2 469.2 380.1 465.8M396.0 454.9Q392.6 456.2 392.2 459.1M384.6 450.0Q385.4 450.4 380.6 446.8M391.9 446.5Q393.0 444.4 393.4 441.9M380.7 441.5Q387.9 436.9 390.6 438.4M384.8 455.4Q385.5 451.7 384.6 450.0M417.7 426.0Q415.3 425.5 412.0 425.6M407.8 435.0Q406.1 430.4 407.7 429.2M412.6 430.4Q408.1 430.5 410.0 427.6M403.1 438.4Q404.6 437.3 403.4 437.4M403.4 437.4Q402.0 433.9 407.8 435.0M397.3 427.4Q391.7 426.5 388.7 423.1M390.8 414.2Q388.5 416.5 388.7 423.1M406.9 424.1Q405.3 421.6 400.2 423.8M390.6 438.3Q397.3 431.8 397.3 427.4M383.4 425.4Q384.9 425.0 388.7 423.1M402.5 409.1Q399.7 414.8 399.8 416.0" stroke-width="1.05" stroke-opacity="0.70"/><path d="M350.9 403.0Q350.3 410.0 350.6 413.5M350.6 413.5Q346.4 410.4 347.8 412.6M355.8 391.8Q352.3 392.3 347.8 394.4M361.9 398.4Q360.3 397.1 360.4 394.4M349.2 472.0Q348.3 473.3 347.8 470.2M495.5 453.4Q496.2 458.3 493.5 464.0M495.5 453.4Q493.1 451.2 488.2 448.9M486.9 462.0Q491.0 462.0 493.5 464.0M488.2 448.9Q488.1 448.6 483.6 455.0M483.5 435.5Q482.4 435.4 476.4 441.8M483.5 435.5Q482.9 441.9 489.8 442.5M487.9 447.8Q479.7 445.7 476.9 444.3M517.0 399.8Q514.1 402.1 516.7 399.7M517.0 471.5Q515.5 471.2 514.8 473.4M517.0 478.2Q515.6 479.3 515.8 478.0M501.8 480.1Q501.3 481.5 500.0 481.3M500.0 481.3Q498.0 480.8 499.7 482.0M388.9 371.7Q394.7 367.0 397.5 369.3M384.3 361.6Q388.6 361.5 396.8 360.2M355.8 391.8Q355.4 385.2 355.3 381.5M367.0 385.4Q361.8 385.7 355.3 381.5M355.3 381.5Q357.1 380.0 354.4 380.3M347.8 385.1Q351.7 382.3 354.4 380.3M515.6 346.9Q518.5 346.9 517.0 346.3M517.0 332.8Q513.9 326.5 509.7 326.7M506.1 312.5Q500.6 316.5 498.1 320.6M347.8 352.0Q346.6 350.2 350.7 352.2M347.8 337.4Q349.4 336.9 351.2 335.9M351.6 336.1Q350.0 336.1 351.2 335.9M470.7 437.5Q474.7 440.4 476.4 441.8M489.8 442.5Q494.1 441.2 495.1 439.7M496.1 434.2Q492.8 438.5 495.1 439.7M483.5 433.9Q487.2 431.4 488.2 428.8M473.1 417.0Q471.0 412.2 468.9 410.0M461.8 418.5Q465.1 412.7 462.8 411.3M468.9 410.0Q463.7 412.3 462.8 411.3M408.3 385.3Q408.7 384.4 408.8 382.9M415.9 380.8Q417.4 382.4 413.9 379.7M407.3 394.8Q408.1 393.8 408.3 391.3M407.8 390.5Q407.7 390.6 408.3 391.3M507.7 414.6Q507.0 411.0 506.6 411.2M515.0 425.1Q519.6 421.7 517.0 419.8M470.7 437.5Q468.3 437.3 465.2 438.7M476.9 444.3Q474.5 445.7 473.9 449.8M465.1 450.7Q469.5 450.7 473.9 449.8M463.6 457.3Q457.4 457.4 453.1 457.0M509.3 433.3Q508.9 433.5 507.0 434.6M496.0 421.1Q497.9 423.6 500.5 423.6M496.1 434.2Q497.4 434.7 499.9 431.7M515.0 425.1Q515.1 424.4 511.1 426.5M495.0 416.3Q499.5 413.7 503.5 409.1M496.0 421.1Q496.5 421.6 495.0 416.3M508.4 399.0Q511.7 396.5 516.5 399.2M508.4 399.0Q507.2 400.4 502.3 406.0M481.1 404.6Q487.0 405.5 491.1 406.6M481.1 404.6Q482.3 403.3 482.1 399.7M482.1 399.7Q485.8 399.3 489.7 395.6M489.7 395.6Q489.3 390.5 486.3 386.5M495.5 453.4Q496.5 453.2 501.7 451.2M495.1 439.7Q496.2 440.9 502.0 444.4M486.9 462.0Q481.4 462.3 479.8 466.9M477.8 455.4Q478.5 457.5 474.9 461.3M361.2 478.4Q365.7 481.0 369.2 479.8M361.2 478.4Q359.0 479.1 357.1 481.2M361.2 478.4Q360.4 475.8 361.4 469.4M357.9 466.0Q358.5 470.2 361.4 469.4M463.7 348.1Q466.3 353.9 471.8 354.8M380.1 376.2Q379.6 374.1 382.7 377.2M387.1 375.5Q387.4 371.9 382.7 377.2M394.1 381.9Q387.3 386.0 387.7 391.7M388.9 371.7Q387.9 374.4 387.1 375.5M384.3 361.6Q383.1 359.5 383.9 361.4M383.0 359.7Q384.0 354.6 383.7 351.2M432.6 372.8Q431.6 369.9 434.2 368.5M430.0 364.5Q428.0 367.2 427.2 370.7M392.0 395.4Q390.6 402.3 391.0 406.2M392.0 395.4Q392.8 393.6 398.4 394.7M401.0 396.9Q403.7 397.6 402.8 401.3M378.6 400.3Q385.3 403.0 388.2 409.0M388.2 409.0Q390.3 407.4 388.6 409.0M388.6 409.0Q391.0 406.8 391.0 406.2M398.0 381.4Q396.9 381.6 394.1 381.9M509.7 326.7Q507.4 327.1 504.0 329.3M370.6 320.2Q373.6 318.1 379.4 319.5M379.4 319.5Q381.5 319.1 380.8 317.7M396.2 350.4Q397.0 349.5 398.6 347.3M365.6 314.0Q363.3 315.0 362.6 314.7M370.6 320.2Q369.9 323.1 368.2 325.8M368.2 325.8Q362.1 331.1 363.4 327.6M351.6 336.1Q354.2 330.5 362.2 335.7M351.2 335.9Q353.1 333.6 351.1 331.3M363.4 327.6Q361.9 332.8 362.2 335.7M362.2 335.7Q363.8 334.2 366.5 339.8M462.5 429.4Q463.9 434.5 465.1 438.6M451.1 407.6Q449.1 411.1 445.5 407.9M448.0 415.2Q445.2 415.0 444.6 409.1M473.7 417.1Q479.4 413.8 481.0 412.4M484.9 415.7Q483.9 414.3 481.0 412.4M474.9 429.1Q478.4 422.3 477.5 423.5M471.8 404.8Q473.1 406.8 480.5 405.2M488.3 426.1Q485.8 420.2 484.4 422.4M430.9 413.3Q426.5 415.6 425.3 413.2M430.9 413.3Q430.5 413.7 431.8 412.7M431.8 412.7Q431.5 410.0 428.4 407.1M462.1 363.8Q460.7 369.1 461.6 374.0M464.2 363.6Q468.6 369.0 473.3 369.1M497.0 369.5Q497.1 365.8 497.3 362.1M497.0 369.5Q491.2 372.1 486.5 370.8M491.7 358.5Q489.2 360.5 487.9 359.2M506.3 359.4Q503.7 363.8 508.7 371.0M508.7 371.0Q510.7 371.1 512.4 372.8M476.0 366.9Q478.2 361.5 477.1 358.5M484.2 356.9Q480.9 357.0 477.1 358.5M477.1 358.5Q474.4 358.1 472.1 354.8M513.6 389.2Q514.4 387.3 507.6 387.9M489.8 382.3Q491.3 380.1 494.5 382.3M499.8 373.2Q497.3 376.7 498.0 379.9M514.1 452.1Q514.1 450.6 513.7 451.6M514.1 452.1Q514.1 457.2 512.5 461.4M502.9 452.1Q501.5 456.9 505.1 461.3M505.1 461.3Q505.0 465.7 511.5 462.1M517.0 462.5Q514.1 462.7 512.5 461.4M500.0 465.9Q499.1 463.9 505.1 461.3M493.5 464.0Q497.3 465.9 494.5 465.4M491.8 472.1Q487.8 472.7 485.3 475.3M479.8 466.9Q477.5 467.8 479.7 469.2M485.3 475.3Q481.9 470.5 479.7 469.2M463.6 457.3Q465.7 456.6 465.2 461.4M479.7 469.2Q480.4 469.6 471.8 473.6M451.2 454.0Q446.8 451.9 446.5 453.8M444.8 447.8Q445.4 451.1 446.5 453.8M453.5 358.2Q450.1 358.5 447.1 361.4M453.5 358.2Q452.0 357.7 452.3 355.9M439.9 318.7Q440.3 326.3 436.0 324.8M466.1 332.0Q461.5 336.4 456.9 337.1M457.9 318.5Q459.9 319.7 461.3 323.8M447.5 324.5Q451.1 325.2 454.4 328.3M436.9 390.6Q438.0 391.2 438.5 387.9M438.5 387.9Q437.7 383.6 435.8 382.2M449.6 388.7Q448.7 381.6 449.3 380.8M437.3 396.1Q438.1 392.9 438.1 393.1M437.3 396.1Q439.5 397.8 442.5 398.4M442.5 398.4Q442.8 396.0 445.4 396.7M436.6 396.7Q432.3 395.0 431.3 395.2M436.9 390.6Q435.8 392.6 438.1 393.1M438.5 387.9Q439.0 389.6 442.4 387.2M376.3 369.8Q374.3 370.3 373.1 369.2M381.1 347.4Q380.7 345.1 386.8 340.9M382.3 330.2Q383.0 329.9 385.4 331.3M383.7 351.2Q382.0 348.6 381.1 347.4M363.7 346.1Q363.8 348.8 364.5 348.1M366.5 339.8Q369.4 337.8 373.2 338.0M368.2 325.8Q372.5 329.6 374.8 334.5M407.4 355.0Q407.7 353.6 409.1 354.6M402.5 348.5Q407.0 348.8 409.7 346.2M409.1 354.6Q411.0 348.2 413.4 349.3M424.3 397.6Q423.9 397.1 423.5 396.0M430.4 393.2Q428.6 395.5 429.0 392.5M477.6 328.9Q474.2 324.9 470.4 319.4M503.2 332.8Q506.4 335.6 509.2 340.9M504.0 329.3Q503.2 330.9 503.2 332.8M489.7 334.9Q491.0 330.3 490.5 328.2M489.7 334.9Q494.7 334.7 498.2 336.4M495.8 348.0Q492.1 354.6 491.7 358.5M411.2 312.7Q409.8 314.0 411.0 312.5M411.2 312.7Q408.7 313.1 403.3 317.4M397.0 342.7Q398.7 341.7 398.1 344.7M398.1 344.7Q400.1 341.9 407.8 338.8M403.6 325.0Q407.9 322.5 405.3 325.3M408.7 336.5Q408.1 336.6 408.0 337.1M357.3 321.2Q354.7 319.0 348.0 317.2M415.9 380.8Q417.8 376.6 419.1 379.5M415.0 393.8Q412.6 394.0 418.5 395.2M421.3 394.5Q422.4 393.4 422.5 388.5M421.4 387.4Q421.5 385.7 422.5 388.5M429.0 392.5Q426.9 391.5 427.1 388.1M431.8 386.0Q432.8 390.7 428.7 386.0M428.7 386.0Q424.2 384.5 427.1 388.1M425.7 381.3Q424.1 377.3 424.8 375.6M425.0 375.4Q424.6 376.9 424.8 375.6M428.7 386.0Q429.2 382.9 427.3 382.0M432.6 372.8Q435.1 373.1 432.7 372.9M425.7 371.2Q423.3 370.5 425.0 375.4M419.1 379.5Q420.0 376.3 420.4 376.3M412.2 374.7Q404.9 372.0 407.1 371.4M400.8 374.7Q401.1 372.8 400.9 377.0M408.8 382.9Q406.4 378.3 405.6 378.5M397.5 369.3Q400.5 375.4 400.8 374.7M412.2 374.7Q413.9 374.3 413.4 373.5M451.7 415.2Q455.6 414.8 454.8 420.9M444.5 417.2Q443.6 422.4 445.0 422.6M445.0 422.6Q446.6 424.0 454.8 420.9M462.5 429.4Q458.2 427.9 456.2 426.7M456.2 426.7Q453.6 428.9 456.1 422.1M458.2 407.6Q456.8 409.1 454.1 409.4M458.2 407.6Q460.7 408.8 462.8 411.3M437.9 419.1Q441.2 419.9 440.7 415.9M440.7 415.9Q440.2 414.9 440.0 413.9M432.6 413.1Q434.6 411.9 434.8 418.2M439.5 413.4Q440.0 410.8 438.3 408.9M444.6 408.7Q439.3 409.9 440.6 406.8M411.0 398.4Q410.6 399.6 410.8 400.0M453.1 457.0Q453.6 460.1 451.4 461.6M444.0 459.7Q441.8 456.1 444.7 461.3M463.8 388.1Q461.1 386.8 461.5 388.3M458.2 407.6Q458.7 406.9 459.0 402.5M478.4 345.0Q482.3 345.6 483.7 345.4M477.2 330.7Q483.1 333.3 487.4 336.7M472.1 354.8Q473.5 346.1 478.4 345.0M477.6 328.9Q479.3 328.9 477.2 330.7M458.3 344.3Q457.8 346.9 463.3 346.8M451.1 369.8Q451.8 368.2 450.1 369.6M485.3 475.3Q483.1 477.1 484.7 477.9M461.8 481.3Q461.9 480.8 461.1 482.0M442.5 442.1Q436.8 443.2 435.6 443.8M435.7 438.6Q432.1 440.7 435.6 443.8M429.0 470.3Q428.3 469.0 426.9 466.6M426.9 466.6Q426.3 467.0 424.6 466.2M424.6 466.2Q422.3 466.7 423.1 467.2M423.1 467.2Q423.2 465.2 422.6 468.9M430.2 463.6Q426.7 464.3 425.5 459.4M424.2 460.9Q423.2 463.5 424.6 466.2M417.3 463.7Q420.6 464.3 419.2 461.4M418.9 479.6Q419.6 480.7 423.0 480.7M396.8 481.7Q401.5 480.0 406.3 478.0M396.8 481.7Q396.6 481.3 396.8 481.6M401.6 469.8Q402.8 472.0 403.7 470.7M389.8 475.6Q387.8 477.5 382.2 478.9M389.8 475.6Q393.2 476.3 395.7 479.4M375.0 474.3Q373.7 473.4 375.5 474.2M375.0 474.3Q372.1 468.5 368.0 467.7M412.8 477.2Q412.2 475.0 411.3 475.4M411.3 475.4Q410.5 472.0 411.4 474.6M411.4 474.6Q415.1 473.6 416.6 470.7M416.6 470.7Q416.8 467.2 415.5 468.0M417.3 463.7Q419.0 462.9 416.5 464.1M444.2 359.0Q442.8 358.0 441.0 359.8M371.6 358.7Q368.6 360.4 368.7 361.4M368.7 361.4Q365.9 357.6 361.9 355.3M350.7 352.2Q355.3 355.6 355.2 357.4M413.4 349.3Q412.0 348.7 413.7 349.3M415.5 356.7Q418.7 352.7 415.8 350.7M405.3 325.3Q411.4 322.7 414.5 323.0M414.5 323.0Q415.4 321.0 416.9 318.3M443.6 353.4Q443.6 350.8 443.1 353.3M443.6 353.4Q446.4 351.8 447.3 348.4M443.1 353.3Q444.0 352.8 439.2 349.4M360.8 401.9Q363.1 407.3 363.9 408.9M372.7 407.5Q369.5 408.1 363.9 408.9M351.8 415.1Q352.4 417.9 354.6 415.7M347.8 445.3Q346.9 450.3 349.8 444.9M352.9 438.5Q349.3 442.1 349.8 444.9M414.5 357.4Q413.5 359.6 414.1 360.2M436.7 429.8Q436.7 429.9 437.8 432.7M439.9 427.9Q442.8 430.2 444.0 430.6M444.0 430.6Q443.0 431.9 442.1 434.4M437.8 432.7Q436.9 431.5 434.6 437.1M442.1 434.4Q440.2 436.7 442.2 434.6M442.2 434.6Q443.6 437.4 449.4 439.2M452.1 439.1Q450.9 436.4 452.5 438.4M435.3 408.1Q431.9 405.2 434.6 405.8M439.9 403.4Q439.7 401.8 436.3 402.3M436.6 396.7Q438.6 397.7 435.7 401.1M435.0 463.4Q437.0 459.9 435.0 463.4M435.0 463.4Q437.7 466.6 439.1 465.8M457.1 473.3Q457.7 471.1 456.5 467.8M447.3 468.7Q449.5 466.7 452.4 465.2M450.3 476.7Q447.9 473.1 446.5 473.3M451.4 461.6Q453.0 464.6 452.4 465.2M443.1 464.5Q445.5 468.7 447.3 468.7M445.7 371.2Q449.0 369.4 441.8 370.0M445.7 371.2Q445.8 375.6 444.8 376.2M440.5 370.5Q443.4 368.8 441.8 370.0M439.4 376.7Q438.3 375.1 438.8 374.9M450.1 369.6Q446.2 371.8 445.7 371.2M432.7 372.9Q436.5 370.2 438.8 374.9M425.3 413.2Q424.7 417.4 424.4 415.1M438.3 422.4Q435.5 426.6 434.3 424.7M431.2 420.8Q433.7 424.8 430.9 423.1M439.9 427.9Q443.0 425.9 440.6 424.1M421.9 426.3Q421.8 428.7 423.9 428.7M423.9 428.7Q429.0 422.6 428.7 426.4M431.8 430.8Q434.0 428.5 428.7 426.4M439.4 449.0Q437.9 450.8 436.8 448.3M436.0 447.4Q433.2 449.4 436.8 448.3M431.3 431.9Q429.9 439.0 433.1 436.7M439.0 357.7Q438.9 360.1 433.9 360.8M443.1 353.3Q439.2 353.5 438.9 356.4M430.2 364.4Q428.1 363.7 432.9 360.7M361.7 366.7Q358.2 365.5 354.8 361.9M361.7 366.7Q361.7 369.2 361.0 372.9M353.2 376.4Q352.1 375.2 354.1 377.2M367.2 375.6Q363.3 374.9 361.0 372.9M347.8 365.8Q349.1 366.3 349.8 366.2M418.4 350.6Q419.9 349.3 420.6 346.6M420.6 346.6Q421.7 347.1 424.2 346.0M415.8 350.7Q417.0 350.2 418.4 350.6M430.6 345.3Q428.4 343.8 433.5 343.0M432.6 338.4Q431.9 340.3 433.2 338.7M428.3 340.6Q430.2 341.9 428.6 344.2M347.8 427.7Q352.3 428.4 356.2 428.2M356.2 428.2Q356.3 424.1 358.6 423.5M349.8 444.9Q351.5 448.3 356.3 450.8M357.7 464.3Q354.9 460.5 351.7 459.1M445.8 425.6Q444.8 425.7 444.2 430.5M444.0 430.6Q441.4 430.9 444.2 430.5M452.5 438.4Q455.0 434.8 452.6 432.7M432.1 470.7Q431.8 471.8 433.1 472.3M451.2 482.0Q455.2 480.1 450.0 478.6M419.9 433.6Q423.7 434.7 421.5 436.0M419.9 433.6Q423.6 430.2 423.9 428.9M427.5 445.6Q428.3 442.3 430.6 443.4M435.4 444.0Q431.1 445.1 430.6 443.4M429.3 449.6Q429.7 450.4 436.0 447.4M425.1 452.0Q424.6 449.9 425.0 457.0M434.8 453.7Q432.8 454.5 431.4 454.8M425.5 459.4Q423.0 458.7 425.8 458.0M435.5 353.2Q435.9 349.9 436.4 349.8M430.7 356.0Q431.7 357.1 431.0 356.1M441.8 346.5Q439.7 342.3 439.1 342.7M433.5 343.0Q434.6 342.2 436.1 344.5M426.0 351.4Q428.5 349.6 427.4 351.7M428.6 344.2Q428.2 345.4 424.2 346.0M438.9 330.0Q439.1 332.5 437.5 333.0M437.5 333.0Q434.1 333.4 432.9 331.7M431.1 326.9Q435.3 326.8 432.9 331.7M425.6 320.2Q427.0 327.0 427.3 325.8M427.3 325.8Q427.1 322.9 427.9 326.2M431.1 326.9Q429.3 327.8 427.9 326.2M428.3 340.6Q427.4 340.2 425.4 339.2M432.9 331.7Q431.5 330.0 430.9 335.4M427.3 325.8Q425.1 324.9 422.2 328.5M415.9 326.1Q415.1 330.4 415.1 331.3M439.5 340.9Q443.4 340.1 445.3 340.3M445.3 340.3Q446.7 341.9 445.6 339.9M433.2 338.7Q432.1 342.4 437.3 337.6M377.7 414.2Q374.4 414.5 368.9 421.0M368.9 421.0Q367.5 421.9 368.5 423.4M357.7 450.5Q360.8 453.3 364.7 457.0M423.0 480.7Q423.7 480.8 426.1 479.0M426.7 477.5Q426.5 478.4 426.1 479.0M443.5 481.5Q449.0 480.9 450.0 478.6M443.5 481.5Q443.7 483.3 443.4 482.0M419.5 409.7Q419.6 410.1 413.3 411.9M419.9 451.4Q420.3 445.5 417.4 448.6M356.7 437.1Q357.8 434.5 358.2 433.7M420.2 334.7Q421.5 340.0 421.1 339.1M415.1 331.3Q413.5 332.3 416.5 333.6M417.3 343.3Q414.2 343.5 417.1 341.9M416.5 464.1Q416.3 460.8 413.2 461.8M401.6 469.8Q399.5 470.0 400.6 467.1M400.6 467.1Q401.8 465.9 403.5 463.3M403.5 463.3Q405.8 464.9 405.5 462.9M403.5 463.3Q400.5 457.9 400.5 455.4M437.6 475.5Q436.8 476.2 439.8 477.1M429.7 477.0Q430.4 479.6 433.0 479.5M446.5 473.3Q442.9 478.4 439.8 477.1M416.1 416.0Q417.4 414.4 414.8 419.7M421.9 426.3Q418.8 422.0 417.7 426.0M424.4 415.1Q422.9 415.1 420.3 415.5M367.4 432.6Q368.7 440.2 368.9 441.9M367.4 432.6Q368.7 434.3 370.9 427.9M377.8 429.4Q374.5 427.7 370.9 427.9M358.2 433.7Q363.1 432.3 367.4 432.6M367.8 443.8Q365.5 442.1 368.9 441.9M408.0 446.3Q413.1 446.2 412.8 447.9M404.8 448.5Q407.7 453.1 409.2 452.9M412.5 450.3Q414.2 449.7 413.0 448.5M399.2 441.7Q401.5 444.6 402.8 448.5M402.8 448.5Q404.3 448.8 404.8 448.5M408.1 442.1Q402.5 441.2 403.1 438.4M402.8 448.5Q399.6 452.7 399.5 454.5M417.4 448.6Q414.6 449.3 413.0 448.5M420.5 439.1Q420.5 440.5 419.1 439.9M408.1 442.1Q412.2 438.5 412.3 441.2M413.8 443.4Q412.5 443.4 412.3 441.2M417.7 426.0Q417.5 429.3 416.3 430.0M413.9 436.9Q414.7 438.4 413.5 437.0M378.2 459.7Q384.0 457.7 384.8 455.4M389.8 475.6Q390.5 473.8 389.2 467.3M400.6 467.1Q397.6 467.1 392.2 464.2M390.6 438.3Q385.4 430.7 382.2 427.2M390.6 438.3Q390.4 436.9 390.6 438.4M414.8 419.7Q410.1 420.2 411.6 420.1M412.0 425.6Q414.0 423.8 411.6 420.1M409.1 415.3Q407.8 417.0 408.6 417.4M410.0 427.6Q407.7 426.8 409.4 427.6M416.3 430.0Q415.2 428.6 412.6 430.4M403.4 437.4Q402.7 432.5 399.3 428.8M412.0 425.6Q414.4 423.9 410.0 427.6M406.9 424.1Q406.8 422.6 409.4 427.6M397.3 427.4Q399.7 425.4 397.8 427.3M399.8 416.0Q400.7 417.8 401.1 418.3M399.8 416.0Q394.4 416.0 390.8 414.2M408.6 417.4Q404.2 417.3 401.1 418.3M388.6 409.0Q390.8 410.7 390.8 414.2" stroke-width="0.70" stroke-opacity="0.50"/><path d="M360.8 401.9Q353.4 407.2 350.9 403.0M360.8 401.9Q358.3 401.5 361.9 398.4M355.8 391.8Q357.6 395.3 360.4 394.4M486.9 462.0Q486.4 458.0 483.6 455.0M516.7 399.7Q517.4 400.9 516.5 399.2M515.8 478.0Q514.1 474.9 514.8 473.4M501.8 480.1Q504.4 482.5 513.0 481.4M504.5 471.8Q508.7 471.0 511.6 470.9M504.5 471.8Q502.6 468.2 500.0 465.9M491.8 472.1Q494.5 468.6 494.5 465.4M388.9 371.7Q386.7 369.8 384.3 361.6M396.8 360.2Q398.1 360.4 398.9 362.4M399.0 363.2Q399.2 364.4 398.9 362.4M350.6 413.5Q350.5 417.2 351.8 415.1M517.0 352.2Q515.3 350.0 515.2 350.0M515.2 350.0Q514.1 348.0 515.6 346.9M515.6 346.9Q513.1 343.2 511.2 341.2M498.1 320.6Q494.5 319.1 492.7 316.8M492.0 312.5Q496.7 312.0 492.7 316.8M350.7 352.2Q350.9 349.3 355.4 345.8M355.4 345.8Q352.7 342.3 351.6 336.1M470.7 437.5Q476.4 431.6 474.1 429.4M483.5 435.5Q486.4 432.3 483.5 433.9M474.1 429.4Q471.7 429.6 474.9 429.1M496.1 434.2Q493.1 434.0 488.2 428.8M467.4 420.9Q469.1 418.6 473.1 417.0M467.4 420.9Q461.7 418.1 461.8 418.5M408.3 385.3Q409.0 387.5 408.8 386.1M415.0 393.8Q413.7 394.6 414.5 392.7M414.5 392.7Q412.8 393.2 415.3 387.4M400.6 385.3Q404.3 387.9 408.3 385.3M507.7 414.6Q512.3 416.3 517.0 418.1M506.6 411.2Q511.5 411.5 515.9 406.4M515.9 406.4Q516.8 406.8 517.0 407.7M517.0 426.7Q516.2 429.0 515.0 425.1M464.2 449.2Q467.3 450.4 465.1 450.7M488.2 448.9Q489.6 447.7 487.9 447.8M483.6 455.0Q482.1 457.3 477.8 455.4M453.7 446.8Q453.4 450.8 451.2 454.0M463.6 457.3Q465.3 455.8 465.1 450.7M499.9 431.7Q502.5 432.5 507.0 434.6M505.0 422.1Q500.4 424.2 500.5 423.6M511.1 426.5Q512.6 431.6 509.3 433.3M488.3 426.1Q487.7 425.7 488.2 428.8M517.0 437.0Q515.5 432.8 509.3 433.3M496.2 402.2Q501.5 403.2 502.3 406.0M495.0 416.3Q489.9 413.2 491.2 413.7M506.6 411.2Q505.9 410.1 503.5 409.1M495.2 397.7Q494.1 397.5 489.7 395.6M479.5 388.0Q483.6 387.3 486.3 386.5M501.7 451.2Q502.4 447.1 502.0 444.4M506.0 441.6Q502.6 444.3 502.0 444.4M479.8 466.9Q478.5 463.6 474.9 461.3M463.7 348.1Q460.5 352.9 457.6 360.6M462.1 363.8Q460.1 363.0 458.2 361.8M457.6 360.6Q458.3 364.4 458.2 361.8M380.1 376.2Q374.1 381.7 369.9 382.9M382.9 387.8Q379.0 384.9 373.2 388.7M372.7 396.5Q375.2 398.9 376.0 400.5M376.0 400.5Q378.6 398.0 378.6 400.3M387.7 391.7Q386.0 391.5 387.8 391.9M372.7 396.5Q366.0 395.1 361.9 398.4M380.1 376.2Q374.3 373.2 376.3 369.8M396.8 360.2Q394.8 356.9 396.2 350.4M430.0 364.5Q433.0 359.0 430.2 364.4M398.4 394.7Q402.4 397.1 401.0 396.9M400.5 390.5Q401.5 393.5 398.4 394.7M498.7 324.7Q498.5 328.9 490.5 328.2M498.7 324.7Q502.2 330.7 504.0 329.3M380.8 312.5Q379.1 315.7 380.8 317.7M398.9 362.4Q401.9 358.5 406.3 358.0M407.4 355.0Q405.8 351.3 402.5 348.5M402.5 348.5Q402.7 349.3 398.6 347.3M430.6 312.5Q430.1 312.1 431.1 313.8M358.0 324.7Q358.6 325.0 363.4 327.6M362.6 314.7Q361.2 319.2 357.3 321.2M474.1 429.4Q472.0 427.9 468.0 426.4M468.0 426.4Q463.7 428.9 462.5 429.4M449.1 400.7Q444.9 402.5 445.3 403.5M445.3 403.5Q441.5 406.9 445.5 407.9M451.7 415.2Q453.3 411.1 454.1 409.4M484.4 422.4Q485.3 419.7 484.9 415.7M473.1 417.0Q472.2 419.7 473.7 417.1M480.5 405.2Q480.3 407.0 481.0 412.4M424.4 410.7Q429.7 409.4 428.4 407.1M476.6 377.4Q474.3 375.1 473.0 372.0M473.0 372.0Q473.1 372.7 473.3 369.1M485.7 375.7Q487.0 376.4 486.5 370.8M476.0 366.9Q474.1 368.1 473.3 369.1M476.0 366.9Q479.4 365.4 485.5 368.9M475.2 383.1Q477.2 379.3 476.6 377.4M489.8 382.3Q487.9 381.7 486.3 386.5M465.4 376.3Q466.3 374.1 473.0 372.0M497.3 362.1Q495.0 361.6 491.7 358.5M517.0 366.8Q515.4 370.3 512.4 372.8M505.7 358.9Q502.1 358.0 497.3 362.1M497.0 369.5Q497.9 375.4 499.8 373.2M499.8 373.2Q504.0 372.5 508.7 371.0M458.2 361.8Q455.5 365.9 451.1 369.8M513.6 389.2Q514.1 387.1 517.0 385.1M504.4 392.2Q504.7 391.4 507.6 387.9M504.4 392.2Q503.1 394.8 498.6 393.2M498.6 393.2Q498.1 386.9 494.5 382.3M506.4 384.0Q500.2 380.9 498.0 379.9M494.5 382.3Q496.2 379.9 498.0 379.9M513.6 375.2Q508.6 378.3 506.4 384.0M513.7 451.6Q505.7 452.9 502.9 452.1M511.5 462.1Q512.4 463.8 512.5 461.4M514.5 445.1Q512.9 446.5 513.7 451.6M501.7 451.2Q502.2 452.3 502.9 452.1M511.6 470.9Q513.2 466.3 511.5 462.1M465.2 461.4Q468.7 464.0 466.7 462.5M471.8 473.6Q469.3 475.0 468.3 471.1M453.0 445.5Q448.9 445.4 453.7 446.8M453.0 445.5Q450.8 447.8 444.8 447.8M439.9 318.7Q439.8 318.5 446.4 321.1M446.4 321.1Q449.6 317.3 450.5 317.6M450.5 317.6Q450.0 315.8 450.8 312.5M446.4 321.1Q444.5 324.0 447.5 324.5M447.5 324.5Q442.7 323.1 445.1 329.6M466.1 332.0Q465.0 323.5 463.5 324.4M463.5 324.4Q464.9 324.4 461.3 323.8M461.3 323.8Q455.7 324.1 454.4 328.3M454.4 328.3Q452.3 333.2 455.1 335.6M450.5 317.6Q454.4 318.3 457.9 318.5M431.8 386.0Q432.1 385.7 435.8 382.2M445.1 390.1Q444.1 391.2 449.6 388.7M438.1 393.1Q445.1 392.8 444.1 392.3M434.2 390.0Q430.8 391.1 430.4 393.2M445.1 390.1Q447.9 388.3 444.1 392.3M449.1 400.7Q451.9 395.9 449.7 398.6M445.3 403.5Q442.9 402.7 441.7 402.2M369.9 382.9Q368.7 382.4 367.2 375.6M367.2 375.6Q368.3 372.7 373.1 369.2M386.8 340.9Q384.8 338.4 385.4 331.3M373.2 338.0Q375.4 336.9 374.8 334.5M374.8 334.5Q375.9 331.3 382.3 330.2M383.0 359.7Q375.8 358.8 371.6 358.7M364.5 348.1Q369.6 346.7 371.9 351.6M380.8 317.7Q388.3 319.5 391.6 318.6M389.6 330.1Q387.6 333.5 385.4 331.3M392.6 320.0Q394.0 316.9 391.6 318.6M409.7 346.2Q411.2 348.1 413.4 349.3M435.8 382.2Q437.4 379.6 436.0 381.5M438.5 380.1Q437.6 381.5 436.0 381.5M424.3 397.6Q422.8 401.2 428.9 399.9M480.6 316.0Q473.3 315.3 470.7 318.4M480.6 316.0Q482.4 318.9 484.6 322.6M481.7 312.5Q480.7 312.6 480.6 316.0M498.2 336.4Q501.8 337.0 503.2 332.8M498.2 336.4Q493.5 339.6 498.0 347.3M509.2 340.9Q504.7 342.3 501.8 348.4M501.8 348.4Q502.0 346.8 498.0 347.3M495.8 348.0Q498.0 347.6 498.0 347.3M391.6 318.6Q394.7 312.4 393.4 312.5M415.2 313.5Q413.5 313.7 415.9 312.5M402.2 322.2Q398.7 319.9 392.6 320.0M397.5 333.0Q396.0 332.1 399.0 332.0M408.0 337.1Q406.9 336.4 407.8 338.8M405.3 325.3Q408.6 328.8 409.8 332.2M350.9 312.5Q344.3 314.9 348.0 317.2M419.1 379.5Q422.8 379.9 422.6 382.1M418.5 395.2Q420.8 394.9 421.3 394.5M421.3 394.5Q419.8 393.7 423.5 396.0M422.5 388.5Q425.6 390.6 427.1 388.1M431.4 378.5Q429.9 378.4 431.1 377.0M436.0 381.5Q434.1 382.2 431.4 378.5M427.2 370.7Q424.8 368.6 425.7 371.2M422.6 382.1Q423.8 385.3 425.7 381.3M420.4 376.3Q420.7 374.3 424.8 375.6M412.1 375.2Q407.7 378.8 405.6 378.5M407.1 371.4Q406.8 372.0 400.8 374.7M399.0 363.2Q406.4 365.8 407.9 366.7M407.9 366.7Q409.1 368.7 407.1 371.4M398.0 381.4Q397.8 375.6 400.9 377.0M420.4 376.3Q418.8 373.2 418.9 373.9M418.9 373.9Q415.1 370.4 413.4 373.5M422.2 368.7Q421.4 371.3 420.7 368.7M456.1 422.1Q454.0 421.9 454.8 420.9M440.0 413.9Q438.7 411.3 439.5 413.4M440.6 424.1Q443.6 423.5 444.6 423.2M438.3 422.4Q441.2 418.8 437.9 419.1M445.0 422.6Q442.3 424.1 444.6 423.2M431.2 420.8Q433.8 417.4 434.8 418.2M432.1 412.7Q436.1 408.3 435.3 408.1M418.5 395.2Q417.3 396.4 417.5 401.8M417.5 401.8Q414.9 398.9 410.8 400.0M422.4 401.6Q420.2 401.5 417.5 401.8M417.5 401.8Q418.0 399.6 417.5 401.8M446.4 453.8Q447.6 450.5 446.5 453.8M463.8 388.1Q466.1 390.4 469.2 395.5M461.5 388.3Q457.8 392.8 455.5 392.8M468.5 399.4Q462.9 400.3 459.0 402.5M459.0 402.5Q458.0 396.4 454.7 396.3M454.7 396.3Q456.2 392.5 455.5 392.8M449.6 388.7Q453.9 391.8 455.5 392.8M449.3 380.8Q450.4 379.5 449.4 380.7M477.2 330.7Q474.4 334.1 472.0 335.3M472.0 335.3Q472.0 341.0 472.0 339.3M486.1 343.8Q486.1 345.7 483.7 345.4M484.2 356.9Q483.6 351.0 483.7 345.4M466.1 332.0Q468.5 334.2 472.0 335.3M463.5 324.4Q464.4 321.4 470.4 319.4M495.8 348.0Q488.4 345.9 486.1 343.8M457.6 360.6Q455.4 362.7 453.5 358.2M450.1 369.6Q449.7 368.0 446.3 364.1M472.9 481.8Q478.9 479.1 484.7 477.9M486.4 482.0Q486.2 483.1 484.7 477.9M461.8 481.3Q464.3 479.3 460.3 475.5M468.3 471.1Q465.9 470.0 460.3 475.5M430.2 463.6Q428.3 467.2 426.9 466.6M423.0 480.7Q421.8 482.6 422.9 482.0M396.8 481.6Q396.6 481.9 395.7 479.4M395.7 479.4Q399.3 475.1 401.6 469.8M403.7 470.7Q406.6 474.8 406.7 477.3M408.7 482.0Q408.6 479.7 406.3 478.0M396.8 481.6Q398.4 480.4 396.3 482.0M382.2 478.9Q376.6 475.0 375.5 474.2M412.8 477.2Q414.7 471.6 418.1 477.5M419.1 474.9Q419.9 472.8 417.7 471.4M417.7 471.4Q417.5 471.0 416.6 470.7M406.7 477.3Q410.1 475.8 411.3 475.4M408.8 470.1Q407.0 469.0 403.7 470.7M425.1 474.4Q425.4 475.1 425.3 473.4M410.0 468.5Q414.1 468.3 415.5 468.0M415.5 468.0Q417.3 465.3 416.5 464.1M442.8 365.0Q442.1 362.4 440.4 363.2M441.0 359.8Q441.9 365.4 440.4 363.2M457.9 318.5Q458.6 317.8 460.8 312.5M373.1 369.2Q373.1 367.5 368.5 362.6M364.5 348.1Q363.5 351.4 361.9 355.3M361.9 355.3Q361.1 355.8 355.2 357.4M413.7 349.3Q413.5 354.9 415.8 350.7M441.8 346.5Q440.2 346.5 439.2 349.4M441.8 346.5Q442.3 346.5 444.4 346.2M444.9 355.1Q446.6 354.8 443.6 353.4M447.3 348.4Q446.5 346.8 451.8 348.5M445.1 329.6Q444.6 330.2 445.4 331.6M451.9 336.0Q444.4 332.2 445.4 331.6M453.2 347.0Q451.2 341.3 446.9 339.8M451.9 336.0Q451.5 337.4 446.9 339.8M377.7 413.9Q376.3 408.2 372.7 407.5M363.9 408.9Q362.8 408.9 363.3 410.3M347.8 434.9Q351.4 433.8 352.9 438.5M409.9 361.3Q410.0 362.4 408.9 366.2M425.6 363.1Q424.2 364.8 423.7 360.2M422.7 359.7Q422.1 359.0 423.7 360.2M420.7 368.7Q419.7 367.7 416.7 365.9M421.6 357.0Q417.9 358.0 415.5 356.7M407.9 366.7Q406.6 365.7 408.9 366.2M437.8 432.7Q444.8 431.3 442.1 434.4M443.3 442.5Q447.2 442.6 442.5 442.1M443.3 442.5Q444.8 440.0 449.4 439.2M453.0 445.5Q455.5 443.2 452.1 439.1M443.3 446.8Q442.2 443.5 443.3 442.5M465.1 438.6Q458.7 437.2 452.5 438.4M434.6 405.8Q432.7 402.7 436.3 402.3M435.7 401.1Q436.6 403.6 436.3 402.3M428.1 405.0Q425.4 404.1 428.4 405.7M428.4 407.1Q426.7 406.5 428.4 405.7M438.8 457.8Q441.2 462.2 435.0 463.4M444.7 461.3Q443.0 464.7 443.1 464.5M443.1 464.5Q441.0 464.1 439.1 465.8M429.0 470.3Q432.1 472.4 432.1 470.7M465.2 461.4Q461.5 463.3 456.5 467.8M444.8 376.2Q443.6 378.7 439.4 376.7M440.5 370.5Q439.2 370.4 438.8 374.9M438.5 380.1Q437.0 377.1 439.4 376.7M434.2 368.5Q435.1 369.6 436.7 367.8M440.4 363.2Q439.5 366.1 437.9 364.0M429.1 417.7Q428.0 422.3 425.7 418.0M430.9 423.1Q432.4 422.5 434.3 424.7M436.7 429.8Q435.3 429.5 435.3 429.3M434.3 424.7Q437.6 427.1 435.3 429.3M421.9 426.3Q421.4 422.3 423.8 421.3M424.0 421.2Q426.1 421.9 429.8 423.8M429.8 423.8Q426.7 422.4 428.7 426.4M425.7 418.0Q426.2 420.5 424.0 421.2M430.9 423.1Q430.2 422.5 429.8 423.8M435.3 429.3Q435.1 431.0 431.8 430.8M446.4 453.8Q441.5 455.4 441.5 453.4M439.4 449.0Q441.1 451.8 441.5 453.4M438.8 457.8Q440.5 458.8 438.7 456.7M438.7 456.7Q436.7 453.3 434.8 453.7M434.8 453.7Q432.7 451.5 436.8 448.3M435.4 444.0Q434.1 446.4 436.0 447.4M423.9 428.9Q425.0 431.0 426.9 432.9M431.3 431.9Q429.9 430.5 426.9 432.9M441.0 359.8Q440.4 359.3 439.0 357.7M349.8 366.2Q353.6 363.6 354.8 361.9M368.5 362.6Q364.7 365.5 361.7 366.7M354.4 380.3Q353.2 379.2 354.1 377.2M426.0 351.4Q425.2 350.4 422.4 353.5M422.4 353.5Q423.6 350.1 418.4 350.6M413.7 349.3Q415.8 347.0 417.3 343.3M417.3 343.3Q419.3 345.1 420.6 346.6M357.9 466.0Q359.0 461.8 357.7 464.3M368.0 467.7Q368.3 465.6 369.5 462.6M357.7 464.3Q363.3 460.9 364.7 457.2M445.8 425.6Q450.4 425.1 454.5 428.4M454.5 428.4Q458.5 432.2 452.6 432.7M439.7 469.5Q436.4 470.3 436.9 474.0M433.1 472.3Q431.8 475.1 436.9 474.0M410.9 407.2Q409.2 409.0 412.8 411.7M412.8 411.7Q410.4 414.9 409.1 415.3M421.5 436.0Q422.9 435.3 426.1 435.8M424.8 444.8Q423.0 442.8 424.4 441.8M424.4 441.8Q426.8 442.6 427.3 437.9M430.6 443.4Q426.6 438.4 429.4 438.5M429.3 449.6Q427.2 446.8 427.5 445.6M421.5 436.0Q418.5 439.5 420.5 439.1M433.1 436.7Q433.4 438.6 429.4 438.5M425.1 452.0Q428.6 450.3 429.1 450.7M429.1 450.7Q430.6 453.0 431.4 454.8M425.8 458.0Q423.7 457.3 425.0 457.0M430.8 456.2Q430.9 449.7 431.4 454.8M429.3 449.6Q429.3 448.4 429.1 450.7M423.9 445.5Q424.7 444.1 424.8 444.8M434.9 463.4Q433.1 458.7 430.8 456.2M435.5 353.2Q432.4 353.4 431.0 356.1M436.2 349.5Q437.9 349.6 436.4 349.8M436.2 349.5Q433.4 345.2 431.2 348.1M427.4 351.7Q429.4 355.0 430.7 356.0M432.9 360.7Q433.0 358.7 431.0 356.1M439.2 349.4Q437.2 350.3 436.4 349.8M439.1 342.7Q436.9 342.3 436.1 344.5M436.1 344.5Q434.3 347.7 436.2 349.5M430.6 345.3Q431.9 346.3 431.2 348.1M424.2 346.0Q423.1 346.2 424.2 346.0M423.7 360.2Q426.7 356.0 430.7 356.0M425.4 339.2Q427.9 341.4 422.8 339.9M432.6 338.4Q431.9 338.5 430.9 335.4M430.9 335.4Q428.1 334.6 427.4 334.5M425.4 339.2Q424.1 337.0 427.4 334.5M427.4 334.5Q424.1 333.8 427.0 333.8M414.5 323.0Q413.9 326.6 415.9 326.1M415.9 326.1Q418.7 328.2 422.2 328.5M427.0 333.8Q424.5 334.8 421.3 333.6M422.2 328.5Q421.0 333.0 421.3 333.6M438.2 335.7Q439.6 334.5 443.5 335.1M438.2 335.7Q439.9 337.1 437.3 337.6M437.3 337.6Q440.2 339.6 439.5 340.9M443.5 335.1Q443.5 339.4 445.6 339.9M437.5 333.0Q439.8 331.6 438.2 335.7M439.1 342.7Q440.1 341.7 439.5 340.9M377.7 413.9Q374.4 413.1 377.7 414.2M363.3 410.3Q362.1 413.7 368.9 421.0M358.6 423.5Q362.8 424.7 368.5 423.4M427.8 482.0Q427.8 479.0 426.1 479.0M433.1 472.3Q431.7 474.4 429.7 477.0M429.7 477.0Q427.2 473.9 426.7 477.5M420.0 409.0Q420.4 405.6 419.5 409.7M422.5 450.3Q416.5 452.4 419.9 451.4M419.3 444.8Q422.4 446.8 423.9 445.5M425.0 457.0Q418.1 460.7 418.6 455.0M419.9 451.4Q418.9 453.6 418.6 455.0M419.2 461.4Q419.4 457.3 418.3 455.2M418.3 455.2Q417.7 449.8 418.6 455.0M352.9 438.5Q352.9 438.9 356.7 437.1M371.7 450.7Q370.1 446.5 367.8 443.8M362.4 444.3Q363.8 442.2 367.8 443.8M416.5 333.6Q414.4 335.2 414.0 336.9M414.0 336.9Q420.0 338.2 415.5 341.2M421.1 339.1Q416.3 338.4 417.1 341.9M422.8 339.9Q423.6 340.0 421.1 339.1M410.5 342.6Q416.3 337.6 415.5 341.2M410.0 468.5Q409.7 465.9 408.9 464.2M416.4 455.2Q416.8 456.1 418.3 455.2M416.4 455.2Q416.8 454.0 412.3 458.1M408.6 455.8Q404.4 455.8 400.5 455.4M439.8 477.1Q441.5 479.1 440.1 478.7M436.9 474.0Q434.7 473.7 437.6 475.5M416.1 416.0Q420.0 417.5 420.0 415.3M416.8 421.2Q417.5 420.7 414.8 419.7M420.3 415.5Q417.7 415.6 420.0 415.3M417.7 426.0Q414.5 424.5 416.8 421.2M377.8 429.4Q376.7 433.1 378.2 439.1M409.2 452.9Q410.7 451.2 412.5 450.3M399.2 441.7Q400.1 440.0 403.1 438.4M399.5 454.5Q400.7 455.4 400.5 455.4M412.8 447.9Q409.1 442.7 413.8 443.4M419.9 433.6Q418.9 436.4 417.9 433.2M417.9 433.2Q418.6 437.0 413.9 436.9M412.3 441.2Q413.2 439.2 413.5 437.0M377.7 414.2Q380.8 418.2 383.4 425.4M377.9 460.7Q375.8 464.2 380.1 465.8M392.2 459.1Q390.4 462.9 392.2 464.2M371.7 450.7Q374.4 451.0 372.9 451.0M372.9 451.0Q379.9 459.7 378.2 459.7M396.0 454.9Q396.8 453.4 399.5 454.5M384.6 450.0Q385.2 447.7 391.9 446.5M380.7 441.5Q382.9 444.6 380.6 446.8M390.6 438.4Q392.7 439.7 393.4 441.9M372.9 451.0Q373.8 449.5 380.6 446.8M396.0 454.9Q392.2 450.6 391.9 446.5M399.2 441.7Q394.3 441.3 393.4 441.9M378.2 439.1Q378.8 440.9 380.7 441.5M408.6 417.4Q412.8 421.5 409.9 419.3M411.6 420.1Q411.9 419.2 409.9 419.3M411.3 435.2Q414.7 433.6 412.6 430.4M411.3 435.2Q411.2 435.1 407.8 435.0M407.7 429.2Q410.1 428.8 409.4 427.6M413.5 437.0Q415.6 432.6 411.3 435.2M399.3 428.8Q403.2 429.1 407.7 429.2M409.9 419.3Q408.0 420.6 406.9 424.1M400.2 423.8Q400.9 426.9 397.8 427.3M400.2 423.8Q400.6 423.2 401.1 418.3M399.3 428.8Q398.2 429.5 397.8 427.3" stroke-width="1.40" stroke-opacity="0.90"/></g><g filter="url(#b05)"><path d="M417.2 471.9L416.4 475.2 417.2 479.9 417.8 483.0M431.6 444.7L432.1 448.7 435.4 452.1 438.1 456.2M439.4 438.3L440.8 442.8 441.9 445.6 443.5 450.8M417.9 428.0L420.4 433.0 421.8 437.1 423.2 441.2M411.4 449.2L412.0 453.8 412.8 459.1 413.1 461.7M431.7 434.6L435.5 439.7 437.2 443.2 438.9 446.8M416.6 396.6L415.7 401.4 417.5 406.9 417.9 411.8M423.2 436.2L427.2 437.1 429.9 440.1 431.8 441.3M441.0 414.2L445.1 420.7 446.1 426.1 449.2 428.5M435.9 405.8L434.9 408.4 434.6 412.7 435.0 416.1M426.8 414.9L430.5 417.0 433.6 420.6 436.0 425.8M411.2 417.8L412.0 423.8 414.1 431.2 417.3 434.8M441.5 448.5L440.4 452.4 441.4 456.3 441.5 458.6M413.5 420.9L412.9 425.3 413.2 430.6 413.1 433.8M427.0 471.0L427.4 474.0 427.5 476.2 427.3 479.5M420.9 400.1L424.8 402.7 427.3 404.0 431.4 409.6M442.8 465.7L444.3 470.4 445.7 474.7 449.5 479.9M436.4 421.2L436.9 424.9 439.0 427.6 440.6 432.8M444.8 422.3L446.5 424.2 447.4 428.8 449.8 431.4" fill="none" stroke="#464646" stroke-width="0.85" stroke-opacity="0.55" stroke-linecap="round" stroke-linejoin="round"/><path d="M418.9 427.4L418.1 432.5 416.8 436.0 416.4 440.5M439.9 448.3L442.9 451.0 444.5 455.0 447.6 458.9M439.7 453.2L442.1 455.9 444.2 458.9 444.7 460.8M402.9 402.9L404.5 406.9 410.3 412.4 410.8 416.1M407.1 411.8L406.9 414.9 407.7 417.9 408.8 421.9M437.5 432.6L442.2 437.4 447.1 440.8 450.0 446.6M417.8 457.9L421.4 461.4 422.7 467.4 424.7 470.4M410.4 441.7L411.7 443.6 414.6 445.8 418.1 447.0M433.8 448.9L437.4 455.0 439.3 457.4 442.0 461.7M418.7 397.4L422.0 400.7 424.5 406.4 429.5 409.4M440.4 424.6L442.9 427.2 443.4 429.7 444.6 432.8M431.9 444.5L436.8 451.8 436.8 455.1 438.6 461.5M409.4 446.7L414.4 452.4 414.7 456.1 419.9 461.1M406.9 396.3L408.3 399.7 410.6 402.9 412.4 405.5M446.8 398.5L446.5 403.6 444.0 407.2 442.7 414.6M422.0 474.1L424.0 477.1 428.2 483.8 432.3 488.1M401.8 457.3L407.5 463.0 410.5 466.8 413.2 473.1M418.9 392.0L418.5 400.7 418.0 404.7 415.3 411.4M403.3 414.7L409.0 417.9 413.3 424.9 419.4 428.3M427.0 435.0L429.1 439.5 429.1 443.3 430.3 446.1M423.0 399.7L427.1 406.2 426.8 410.0 430.2 421.1M434.1 464.1L438.4 466.0 440.8 468.1 442.1 472.1M418.7 422.7L422.0 425.8 423.5 432.5 427.3 437.2M411.6 446.5L411.7 449.5 412.0 451.9 412.4 454.6M440.0 454.2L444.8 458.6 444.7 461.9 448.3 465.8" fill="none" stroke="#323232" stroke-width="1.00" stroke-opacity="0.70" stroke-linecap="round" stroke-linejoin="round"/><path d="M411.7 443.3L412.4 447.7 412.6 449.8 413.6 455.4M443.8 415.4L444.2 421.3 444.8 429.0 444.4 432.8M430.6 428.2L432.0 432.7 432.5 440.8 430.8 446.9M435.6 432.7L433.2 439.1 435.0 442.8 432.8 449.5M413.7 406.8L415.5 409.2 415.8 413.8 418.3 416.5M436.6 426.9L435.8 432.3 439.9 437.3 440.0 444.1M417.9 407.3L420.1 407.6 422.3 413.2 424.5 415.6M437.8 460.0L440.6 464.2 439.0 471.9 440.4 476.7M413.2 406.7L417.3 407.8 421.1 409.9 424.1 412.2M441.8 422.9L442.2 425.5 442.6 430.2 443.6 434.4M413.4 430.7L412.9 433.0 412.0 436.7 414.1 439.1M441.0 450.4L446.2 456.2 446.5 462.9 449.5 466.5M410.0 440.5L412.6 446.0 420.8 451.8 426.5 456.4M441.0 392.7L442.7 398.3 446.5 404.9 450.2 408.2M406.9 431.5L410.6 436.3 411.3 441.4 413.6 446.1M406.2 457.0L411.2 466.7 411.1 471.4 412.1 474.9M427.7 465.1L430.9 468.9 432.5 473.7 437.0 480.6M418.1 466.8L421.3 472.0 422.2 475.3 425.5 478.7M436.3 421.6L441.9 425.4 446.2 432.0 451.8 434.5M419.5 459.5L422.5 461.0 424.2 464.2 427.3 467.0M417.3 403.7L417.6 407.2 418.9 409.4 418.9 413.7M421.9 404.6L423.6 407.8 424.0 410.9 423.9 413.3M432.9 451.1L434.7 453.9 437.1 455.8 440.0 459.8M444.8 468.1L444.0 473.8 441.2 480.0 440.7 487.3M409.6 470.8L411.1 476.4 412.8 478.6 414.8 481.9M409.1 471.3L408.6 473.3 408.4 477.8 408.1 479.9" fill="none" stroke="#5a5a5a" stroke-width="0.70" stroke-opacity="0.40" stroke-linecap="round" stroke-linejoin="round"/></g><rect x="453.1" y="420.3" width="63.89999999999998" height="61.69999999999999" fill="#0c0c0c"/><circle cx="483.7" cy="448.2" r="4.0" fill="url(#spotW)"/><circle cx="469.4" cy="453.8" r="3.4" fill="url(#spotW)"/><circle cx="497.5" cy="442.8" r="2.6" fill="url(#spotW)"/><circle cx="498.5" cy="458.4" r="2.8" fill="url(#spotW)"/><circle cx="483.2" cy="463.5" r="2.6" fill="url(#spotW)"/><circle cx="483.2" cy="432.9" r="2.4" fill="url(#spotW)"/><circle cx="469.2" cy="438.5" r="2.4" fill="url(#spotW)"/><circle cx="497.5" cy="427.8" r="1.8" fill="url(#spotW)"/><circle cx="511.8" cy="437.5" r="2.0" fill="url(#spotW)"/><circle cx="512.3" cy="452.8" r="2.8" fill="url(#spotW)"/><circle cx="512.3" cy="468.1" r="2.6" fill="url(#spotW)"/><circle cx="469.9" cy="469.1" r="2.6" fill="url(#spotW)"/><circle cx="498.5" cy="473.7" r="2.2" fill="url(#spotW)"/><circle cx="484.2" cy="478.8" r="2.0" fill="url(#spotW)"/><circle cx="454.9" cy="443.6" r="1.8" fill="url(#spotW)"/><circle cx="454.9" cy="458.9" r="1.8" fill="url(#spotW)"/><circle cx="454.9" cy="428.8" r="1.4" fill="url(#spotW)"/><circle cx="468.9" cy="423" r="1.4" fill="url(#spotW)"/><circle cx="511.3" cy="422.6" r="1.2" fill="url(#spotW)"/><circle cx="497.5" cy="442.8" r="2.6" fill="none" stroke="#e01010" stroke-width="1.1" stroke-dasharray="1.3 0.9"/><circle cx="498.5" cy="458.4" r="2.6" fill="none" stroke="#e01010" stroke-width="1.1" stroke-dasharray="1.3 0.9"/><circle cx="483.2" cy="463.5" r="2.6" fill="none" stroke="#e01010" stroke-width="1.1" stroke-dasharray="1.3 0.9"/><text x="488.6" y="438.6" font-size="9.5" fill="#f4f4f4" textLength="16.5" lengthAdjust="spacingAndGlyphs">(111)</text><text x="505.3" y="440.8" font-size="5.9" fill="#f4f4f4">γ</text><line x1="491.6" y1="430.8" x2="494.4" y2="430.8" stroke="#f4f4f4" stroke-width="0.8"/><line x1="495.5" y1="430.8" x2="498.3" y2="430.8" stroke="#f4f4f4" stroke-width="0.8"/><text x="489.7" y="456.6" font-size="9.5" fill="#f4f4f4" textLength="16.5" lengthAdjust="spacingAndGlyphs">(111)</text><text x="506.4" y="458.8" font-size="5.9" fill="#f4f4f4">γ</text><line x1="500.5" y1="448.8" x2="503.3" y2="448.8" stroke="#f4f4f4" stroke-width="0.8"/><text x="485.6" y="474" font-size="9.5" fill="#f4f4f4" textLength="16.5" lengthAdjust="spacingAndGlyphs">(200)</text><text x="502.3" y="476.2" font-size="5.9" fill="#f4f4f4">γ</text><text x="455.1" y="480.6" font-size="9.5" fill="#f0f0f0" textLength="30.5" lengthAdjust="spacingAndGlyphs">Z = [011]</text><polyline points="471,377 479.3,388.9 485.8,372.7" fill="none" stroke="#dd1111" stroke-width="1.5"/><line x1="479.3" y1="388.9" x2="497.7" y2="388.9" stroke="#dd1111" stroke-width="1.5"/><text x="448.8" y="389.3" font-size="11.5" fill="#f4f4f4">(111)</text><line x1="453.2" y1="379.9" x2="458.5" y2="379.9" stroke="#f4f4f4" stroke-width="0.8"/><line x1="459.6" y1="379.9" x2="464.9" y2="379.9" stroke="#f4f4f4" stroke-width="0.8"/><line x1="466.0" y1="379.9" x2="471.3" y2="379.9" stroke="#f4f4f4" stroke-width="0.8"/><text x="487.6" y="381.2" font-size="11.5" fill="#f4f4f4">(111)</text><line x1="504.8" y1="371.8" x2="510.1" y2="371.8" stroke="#f4f4f4" stroke-width="0.8"/><text x="487" y="403.5" font-size="11.5" fill="#f4f4f4">(111)</text><line x1="491.4" y1="394.1" x2="496.7" y2="394.1" stroke="#f4f4f4" stroke-width="0.8"/><line x1="497.8" y1="394.1" x2="503.1" y2="394.1" stroke="#f4f4f4" stroke-width="0.8"/><rect x="348.5" y="460" width="50" height="22" fill="#ffffff" fill-opacity="0.3"/><text x="352.8" y="473" font-size="12.4" fill="#111">200 nm</text><rect x="358" y="475.9" width="29" height="2.2" fill="#f4f4f4" stroke="#333" stroke-width="0.7"/></g>
<g clip-path="url(#cpf)"><g filter="url(#ff)"><rect x="493.2" y="283.8" width="28.2" height="29.2" fill="#b2b2b2"/><rect x="520.5" y="283.8" width="28.2" height="29.2" fill="#b2b2b2"/><rect x="547.8" y="283.8" width="28.2" height="29.2" fill="#acacac"/><rect x="575.0" y="283.8" width="28.2" height="29.2" fill="#9b9b9b"/><rect x="602.2" y="283.8" width="28.2" height="29.2" fill="#9b9b9b"/><rect x="629.5" y="283.8" width="28.2" height="29.2" fill="#c3c3c3"/><rect x="656.8" y="283.8" width="28.2" height="29.2" fill="#e4e4e4"/><rect x="684.0" y="283.8" width="28.2" height="29.2" fill="#e4e4e4"/><rect x="493.2" y="312.0" width="28.2" height="29.2" fill="#b2b2b2"/><rect x="520.5" y="312.0" width="28.2" height="29.2" fill="#b2b2b2"/><rect x="547.8" y="312.0" width="28.2" height="29.2" fill="#acacac"/><rect x="575.0" y="312.0" width="28.2" height="29.2" fill="#9b9b9b"/><rect x="602.2" y="312.0" width="28.2" height="29.2" fill="#9b9b9b"/><rect x="629.5" y="312.0" width="28.2" height="29.2" fill="#c3c3c3"/><rect x="656.8" y="312.0" width="28.2" height="29.2" fill="#e4e4e4"/><rect x="684.0" y="312.0" width="28.2" height="29.2" fill="#e4e4e4"/><rect x="493.2" y="340.2" width="28.2" height="29.2" fill="#acacac"/><rect x="520.5" y="340.2" width="28.2" height="29.2" fill="#acacac"/><rect x="547.8" y="340.2" width="28.2" height="29.2" fill="#919191"/><rect x="575.0" y="340.2" width="28.2" height="29.2" fill="#737373"/><rect x="602.2" y="340.2" width="28.2" height="29.2" fill="#919191"/><rect x="629.5" y="340.2" width="28.2" height="29.2" fill="#b4b4b4"/><rect x="656.8" y="340.2" width="28.2" height="29.2" fill="#dedede"/><rect x="684.0" y="340.2" width="28.2" height="29.2" fill="#dedede"/><rect x="493.2" y="368.5" width="28.2" height="29.2" fill="#7d7d7d"/><rect x="520.5" y="368.5" width="28.2" height="29.2" fill="#7d7d7d"/><rect x="547.8" y="368.5" width="28.2" height="29.2" fill="#5f5f5f"/><rect x="575.0" y="368.5" width="28.2" height="29.2" fill="#737373"/><rect x="602.2" y="368.5" width="28.2" height="29.2" fill="#919191"/><rect x="629.5" y="368.5" width="28.2" height="29.2" fill="#a5a5a5"/><rect x="656.8" y="368.5" width="28.2" height="29.2" fill="#b4b4b4"/><rect x="684.0" y="368.5" width="28.2" height="29.2" fill="#b4b4b4"/><rect x="493.2" y="396.8" width="28.2" height="29.2" fill="#a8a8a8"/><rect x="520.5" y="396.8" width="28.2" height="29.2" fill="#a8a8a8"/><rect x="547.8" y="396.8" width="28.2" height="29.2" fill="#878787"/><rect x="575.0" y="396.8" width="28.2" height="29.2" fill="#787878"/><rect x="602.2" y="396.8" width="28.2" height="29.2" fill="#8c8c8c"/><rect x="629.5" y="396.8" width="28.2" height="29.2" fill="#a0a0a0"/><rect x="656.8" y="396.8" width="28.2" height="29.2" fill="#a5a5a5"/><rect x="684.0" y="396.8" width="28.2" height="29.2" fill="#a5a5a5"/><rect x="493.2" y="425.0" width="28.2" height="29.2" fill="#acacac"/><rect x="520.5" y="425.0" width="28.2" height="29.2" fill="#acacac"/><rect x="547.8" y="425.0" width="28.2" height="29.2" fill="#969696"/><rect x="575.0" y="425.0" width="28.2" height="29.2" fill="#878787"/><rect x="602.2" y="425.0" width="28.2" height="29.2" fill="#969696"/><rect x="629.5" y="425.0" width="28.2" height="29.2" fill="#9b9b9b"/><rect x="656.8" y="425.0" width="28.2" height="29.2" fill="#a0a0a0"/><rect x="684.0" y="425.0" width="28.2" height="29.2" fill="#a0a0a0"/><rect x="493.2" y="453.2" width="28.2" height="29.2" fill="#a8a8a8"/><rect x="520.5" y="453.2" width="28.2" height="29.2" fill="#a8a8a8"/><rect x="547.8" y="453.2" width="28.2" height="29.2" fill="#9b9b9b"/><rect x="575.0" y="453.2" width="28.2" height="29.2" fill="#9b9b9b"/><rect x="602.2" y="453.2" width="28.2" height="29.2" fill="#a0a0a0"/><rect x="629.5" y="453.2" width="28.2" height="29.2" fill="#aaaaaa"/><rect x="656.8" y="453.2" width="28.2" height="29.2" fill="#b2b2b2"/><rect x="684.0" y="453.2" width="28.2" height="29.2" fill="#b2b2b2"/><rect x="493.2" y="481.5" width="28.2" height="29.2" fill="#a8a8a8"/><rect x="520.5" y="481.5" width="28.2" height="29.2" fill="#a8a8a8"/><rect x="547.8" y="481.5" width="28.2" height="29.2" fill="#9b9b9b"/><rect x="575.0" y="481.5" width="28.2" height="29.2" fill="#9b9b9b"/><rect x="602.2" y="481.5" width="28.2" height="29.2" fill="#a0a0a0"/><rect x="629.5" y="481.5" width="28.2" height="29.2" fill="#aaaaaa"/><rect x="656.8" y="481.5" width="28.2" height="29.2" fill="#b2b2b2"/><rect x="684.0" y="481.5" width="28.2" height="29.2" fill="#b2b2b2"/></g><g filter="url(#b05)" fill="none" stroke="#2a2a2a" stroke-linecap="round"><path d="M684.5 469.6Q682.6 469.5 680.9 471.4M665.4 476.3Q665.2 480.8 666.4 482.0M649.9 474.8Q649.5 479.3 650.7 482.0M639.0 473.3Q637.9 470.0 634.3 464.5M634.3 464.5Q642.6 457.3 645.0 451.7M607.0 467.0Q602.0 476.4 601.5 481.7M601.5 481.7Q600.3 481.0 601.8 482.0M621.1 482.0Q618.5 481.4 620.1 481.6M657.2 460.9Q661.9 459.0 663.9 457.0M674.6 460.3Q669.8 458.5 663.9 457.0M583.8 463.6Q585.2 466.4 586.8 466.9M569.0 462.4Q569.0 469.2 563.7 477.6M565.0 480.2Q562.3 475.2 563.7 477.6M594.0 482.0Q590.8 478.9 585.8 474.5M607.0 467.0Q603.3 464.3 602.2 461.7M563.6 482.0Q564.0 481.8 565.0 480.2M554.1 472.7Q551.0 464.6 549.3 456.7M670.8 317.2Q667.5 316.2 663.0 320.6M682.9 399.9Q686.3 397.5 684.5 401.1M521.0 359.7Q523.7 361.7 526.3 359.2M558.9 350.6Q555.0 347.5 546.6 347.1M563.3 337.0Q560.8 332.7 560.2 330.7M522.6 326.8Q519.3 329.1 521.0 326.2M531.6 312.6Q530.4 315.2 530.2 321.5M566.0 321.9Q560.2 326.7 563.1 328.0M611.7 327.6Q613.5 326.8 616.6 328.3M618.4 324.1Q616.7 321.0 612.6 320.4M566.0 321.9Q570.9 323.3 575.2 320.9M578.7 317.9Q575.0 319.6 575.2 320.9M575.8 332.2Q576.3 331.8 577.2 336.6M570.9 352.0Q570.6 348.9 569.9 347.4M541.0 478.6Q539.6 474.8 535.3 468.2M525.0 482.0Q525.3 480.6 521.0 477.7M554.1 472.7Q548.9 471.1 541.0 478.6M521.0 385.4Q520.1 384.7 521.5 384.8M566.1 457.2Q568.5 450.3 571.2 444.4M665.1 442.3Q664.6 441.0 663.7 440.2M654.8 313.3Q658.0 308.2 652.8 312.5M684.5 348.9Q678.9 352.1 677.8 349.1M675.6 345.5Q677.0 344.1 677.8 349.1M677.5 321.2Q681.8 321.1 680.9 321.3M680.9 321.3Q685.7 322.4 683.5 323.7M630.7 337.5Q629.2 339.6 630.1 337.9M622.0 335.7Q627.6 333.8 630.1 337.9M634.1 346.3Q635.8 344.6 635.8 344.3M635.8 344.3Q637.3 342.0 640.7 343.9M672.9 381.2Q670.2 379.2 667.5 379.4M684.5 375.5Q675.9 373.2 678.3 376.1M627.8 428.1Q627.0 425.7 625.9 425.0M622.8 434.9Q622.5 436.5 619.1 434.6M619.1 434.6Q618.3 436.7 615.5 439.3M622.8 434.9Q627.4 443.0 628.2 444.6M602.2 461.7Q604.0 451.8 603.4 451.7M593.1 444.9Q599.4 448.9 600.0 447.0M605.9 426.0Q604.0 427.1 604.0 426.8M601.4 431.5Q601.6 431.9 604.0 426.8M529.7 361.2Q535.8 355.2 544.0 355.2M546.6 347.1Q543.8 351.5 544.0 355.2M599.9 312.5Q599.8 313.0 597.8 313.8M606.6 316.7Q606.4 316.6 606.6 317.1M605.1 324.3Q603.7 321.3 601.9 321.6M601.9 321.6Q600.3 321.8 601.9 321.4M611.1 312.5Q612.7 312.4 614.0 317.6M586.1 339.5Q585.5 343.5 586.6 345.2M584.0 337.6Q585.3 338.7 581.5 338.2M579.7 345.1Q582.5 345.3 584.5 346.6M584.5 346.6Q585.0 346.4 586.6 345.2M600.1 367.6Q596.8 362.9 594.7 365.1M600.1 367.6Q599.1 367.9 600.1 369.5M593.5 371.5Q597.0 370.5 594.5 372.6M603.2 373.4Q603.5 374.2 598.8 377.2M598.8 377.2Q596.0 375.2 594.5 372.6M602.9 401.2Q598.7 399.8 597.7 402.9M606.8 420.4Q606.4 419.9 600.8 415.7M600.8 415.7Q601.5 413.3 605.3 411.2M596.8 408.3Q596.7 401.2 597.7 402.9M546.9 428.1Q553.1 433.5 556.2 440.1M535.3 406.0Q532.0 416.6 532.0 419.6M521.2 422.5Q524.7 423.2 532.0 419.6M684.5 430.3Q684.9 428.6 683.2 430.9M651.2 324.3Q655.3 327.0 657.3 327.0M657.3 327.0Q656.1 326.7 654.4 332.7M658.4 342.6Q656.1 341.7 653.6 342.5M652.1 339.2Q652.6 332.9 655.5 334.7M652.1 339.2Q655.5 339.8 652.1 340.5M653.6 342.5Q655.2 340.4 652.1 340.5M655.5 334.7Q657.2 334.5 659.4 335.6M652.1 339.2Q646.2 339.5 648.1 335.1M645.4 324.6Q647.1 322.9 647.4 323.6M645.4 324.6Q642.1 328.0 644.8 329.6M651.1 324.2Q650.1 326.6 647.4 323.6M647.4 323.6Q649.7 321.4 645.9 317.5M651.1 312.5Q651.2 311.6 648.7 313.2M645.9 317.5Q643.4 313.2 648.7 313.2M648.7 313.2Q648.1 311.5 646.8 312.5M646.7 350.6Q646.5 350.7 652.1 353.5M652.1 353.5Q656.5 355.3 655.6 350.9M621.3 321.7Q623.7 319.1 625.0 322.0M605.1 324.3Q607.7 325.8 605.6 327.9M609.9 329.0Q610.5 330.7 605.6 327.9M618.8 345.2Q615.8 344.4 621.2 340.6M617.2 336.8Q616.2 341.0 613.9 341.1M605.6 327.9Q605.4 328.9 603.4 330.1M617.4 346.9Q619.5 342.5 618.0 345.7M643.7 342.5Q645.1 339.5 644.1 342.1M644.1 342.1Q645.3 338.0 646.0 336.0M640.1 351.1Q639.6 352.3 640.5 351.4M646.7 350.6Q649.7 349.0 645.9 351.3M627.8 414.5Q638.0 415.1 633.7 417.6M569.8 440.3Q575.3 439.2 570.9 437.7M603.4 330.1Q602.2 328.5 600.8 329.7M598.5 324.7Q599.3 329.5 600.8 329.7M600.8 329.7Q599.0 329.4 597.8 331.8M596.2 349.3Q594.1 351.6 596.9 352.9M602.3 348.6Q602.0 349.6 602.2 353.9M598.2 359.8Q602.1 364.7 603.1 363.8M598.2 359.8Q602.8 354.7 602.8 354.7M603.2 364.3Q598.8 367.3 600.1 367.6M603.7 347.0Q603.8 346.7 602.3 348.6M564.9 367.7Q563.3 372.7 563.1 381.5M573.7 370.1Q574.7 375.5 575.2 374.3M605.2 381.5Q605.8 377.7 606.0 379.6M560.8 362.5Q561.5 364.1 564.9 367.7M563.1 381.5Q559.3 384.2 559.8 385.3M576.6 364.7Q577.1 366.1 576.5 362.2M578.1 353.0Q580.5 351.7 581.0 353.2M584.0 351.4Q582.8 349.4 581.0 353.2M590.0 408.1Q589.3 404.0 591.6 400.4M598.7 393.7Q598.0 394.3 591.8 393.1M591.7 400.3Q592.8 399.2 591.8 393.1M606.8 385.3Q605.2 385.9 606.9 384.7M612.7 409.7Q615.9 414.6 616.5 414.5M619.9 414.4Q619.0 414.1 621.2 413.4M668.3 403.8Q666.7 403.2 671.4 408.2M658.6 409.9Q661.0 411.0 664.7 414.4M683.8 408.6Q681.0 407.3 681.9 409.9M670.2 335.7Q671.5 334.5 669.9 331.5M677.5 321.2Q673.9 325.3 669.9 331.5M666.6 344.0Q668.7 342.9 669.8 347.0M666.6 344.0Q666.9 340.5 666.1 342.1M666.1 342.1Q659.7 338.8 659.4 341.7M659.4 335.6Q657.3 337.1 660.4 334.9M628.2 312.5Q628.5 317.4 632.0 314.0M633.1 325.3Q634.1 327.3 632.1 322.4M625.0 322.0Q627.0 321.5 626.3 321.2M642.0 318.0Q641.4 318.3 639.7 315.1M641.1 323.7Q644.3 321.1 640.4 321.7M641.1 323.7Q644.0 324.9 638.5 326.4M632.1 322.4Q634.0 322.2 636.4 319.9M632.5 313.9Q635.7 314.5 636.8 316.5M677.8 349.1Q676.3 353.8 675.1 356.2M668.9 351.4Q668.6 351.3 675.1 356.2M676.9 365.5Q674.7 369.5 670.8 368.9M684.5 371.0Q678.5 367.3 676.9 365.5M670.4 370.9Q669.8 372.2 670.8 368.9M675.1 356.2Q675.2 354.7 675.3 357.1M625.3 313.2Q620.4 317.5 619.3 316.7M626.3 312.5Q628.3 312.8 625.4 313.1M614.0 317.6Q615.7 315.9 618.3 316.1M609.5 341.3Q609.1 341.7 606.8 342.0M611.4 348.1Q611.6 346.7 611.2 348.4M603.7 347.0Q601.1 346.6 603.8 345.8M613.4 353.8Q614.6 354.2 612.6 355.3M611.2 348.4Q611.0 352.7 613.4 353.8M621.4 362.7Q622.7 363.1 617.9 366.1M620.9 359.9Q615.0 360.3 619.0 358.3M613.0 362.4Q618.9 364.6 612.0 362.8M619.5 352.7Q622.0 353.6 623.8 352.3M625.3 349.8Q625.7 350.6 629.2 349.4M634.1 346.3Q629.5 346.3 631.3 346.3M629.2 349.4Q630.5 352.3 632.0 354.3M639.1 337.6Q638.8 333.7 641.0 333.2M634.8 332.1Q638.9 330.3 639.6 331.2M639.6 331.2Q643.5 334.5 640.9 332.2M630.7 337.5Q630.7 336.5 632.4 337.3M638.5 326.4Q642.6 330.3 639.6 331.2M644.8 329.6Q641.1 328.9 640.9 332.2M652.0 356.7Q647.6 358.3 647.1 358.7M626.4 356.4Q629.4 357.6 628.4 357.3M621.4 362.7Q623.5 364.8 626.4 364.8M623.4 370.4Q620.7 371.4 617.9 368.0M617.9 368.0Q618.2 369.3 617.9 366.1M626.4 364.8Q627.0 367.7 626.5 364.9M643.8 434.2Q642.1 429.9 633.2 432.2M632.0 430.1Q632.5 430.3 633.2 432.2M645.6 445.7Q648.0 441.8 645.1 436.4M630.8 443.8Q634.8 436.8 633.2 432.2M645.1 436.4Q641.9 433.1 643.8 434.2M636.0 418.5Q641.9 420.7 638.2 423.9M646.1 424.2Q647.4 421.5 647.8 418.3M657.8 429.4Q665.2 432.1 664.0 429.1M658.6 409.9Q660.3 410.8 657.4 410.3M657.4 410.3Q653.6 415.6 652.1 416.4M597.6 416.9Q598.8 422.8 597.7 423.4M597.6 416.9Q595.7 415.1 589.9 416.9M597.7 423.4Q594.2 424.2 589.9 427.6M589.9 408.1Q588.6 409.0 589.2 416.3M589.2 416.3Q589.3 416.7 589.9 416.9M613.0 370.8Q612.0 372.1 609.3 367.1M605.0 373.0Q602.1 372.5 607.9 367.4M594.5 372.6Q594.1 370.8 591.5 377.5M593.3 380.3Q591.3 379.7 591.5 377.5M538.0 403.7Q538.4 397.7 535.0 385.9M538.0 403.7Q544.1 404.0 549.9 404.3M549.9 404.3Q555.1 391.1 555.9 386.2M535.0 385.9Q543.7 385.5 555.9 386.2M606.9 384.7Q607.4 383.5 612.4 383.1M610.8 377.6Q615.1 379.0 612.4 378.5M612.4 383.1Q610.4 379.7 612.4 378.5M615.4 371.1Q614.7 374.4 617.6 376.3M668.4 365.1Q666.4 364.5 664.1 364.1M597.2 336.0Q593.2 339.0 600.3 338.0M593.4 342.9Q599.1 345.5 596.8 344.0M596.8 344.0Q599.3 345.4 599.3 342.4M601.4 337.7Q602.1 336.1 600.3 338.0M603.8 345.8Q596.1 343.1 599.3 342.4M586.1 339.5Q589.1 338.0 592.3 339.8M597.4 348.0Q597.3 344.3 596.8 344.0M654.6 359.4Q656.8 358.7 652.0 356.7M629.3 357.1Q632.8 360.1 633.8 361.9M587.8 376.8Q584.9 379.4 585.4 378.8M587.8 376.8Q587.0 373.1 587.5 371.1M585.4 378.8Q584.2 377.0 580.2 373.9M575.2 374.3Q575.0 370.9 580.2 373.9M576.6 364.7Q576.1 366.5 582.8 367.1M583.4 387.6Q585.7 386.4 590.2 385.6M583.4 387.6Q582.9 384.0 581.0 383.3M590.2 385.6Q591.9 385.7 590.2 384.5M577.7 382.6Q579.9 383.8 581.0 383.3M589.2 416.3Q584.0 417.5 580.4 416.9M586.1 431.2Q578.3 428.8 578.1 418.7M586.0 363.4Q584.1 360.2 583.5 360.5M583.5 360.5Q582.5 359.4 584.4 357.8M619.5 404.9Q619.2 403.7 614.3 401.5M614.3 401.5Q610.9 399.4 611.0 403.1M620.8 404.1Q617.7 397.5 621.3 398.0M616.0 397.1Q614.7 397.5 614.3 401.5M616.0 397.1Q609.3 396.1 608.6 394.9M608.0 396.0Q607.3 399.8 611.0 403.1M617.6 376.3Q616.7 373.8 618.1 376.5M668.0 391.9Q664.5 388.5 666.0 391.4M667.5 379.4Q667.8 379.1 666.2 380.2M666.0 391.4Q658.4 388.4 664.8 389.7M665.8 352.6Q659.3 353.3 662.0 349.1M659.6 356.3Q650.0 355.0 657.5 351.0M657.5 351.0Q658.1 350.7 659.8 349.0M657.4 359.2Q658.9 354.4 659.6 356.3M658.4 342.6Q658.3 344.5 659.8 349.0M652.3 363.7Q652.7 366.7 655.3 366.9M661.7 371.4Q664.4 371.2 661.3 370.0M645.5 358.2Q645.5 360.2 643.0 359.2M649.4 364.1Q650.8 366.4 647.9 365.9M644.1 365.5Q645.1 364.5 643.0 359.2M640.5 351.4Q641.3 355.2 640.4 358.7M640.4 358.7Q639.9 360.6 643.0 359.2M633.9 353.9Q638.2 355.0 638.3 359.5M633.8 361.9Q637.2 362.5 637.5 360.7M565.2 406.5Q562.4 409.4 556.4 410.6M567.5 425.2Q569.9 423.6 576.0 418.6M546.9 428.1Q552.4 425.0 556.1 419.1M642.4 366.7Q640.6 368.1 639.1 365.6M632.5 364.3Q633.5 367.4 634.7 369.3M631.7 371.9Q636.7 373.1 634.4 371.1M634.7 369.3Q633.7 369.2 634.4 371.1M637.8 409.3Q635.8 410.1 636.5 409.1M633.9 410.7Q631.5 408.1 628.9 408.5M657.4 410.3Q652.4 406.9 650.4 405.9M646.6 407.4Q650.7 406.5 650.4 405.9M621.3 398.0Q623.9 393.5 623.0 397.2M616.9 390.1Q615.0 393.3 619.5 389.5M660.1 387.4Q658.8 389.4 664.8 389.7M642.9 372.7Q640.5 370.8 642.1 372.5M635.7 372.1Q636.7 371.6 634.4 371.1M642.1 372.5Q643.3 372.3 641.8 372.6M658.5 375.1Q658.6 373.1 657.2 375.0M649.0 370.3Q645.9 369.1 650.4 371.3M627.3 407.4Q631.9 405.9 628.6 408.1M637.8 409.3Q640.1 407.1 641.8 406.9M629.6 374.7Q632.5 377.4 632.0 379.5M632.0 379.5Q631.4 385.5 628.0 382.2M632.0 379.5Q634.0 376.5 634.5 380.1M636.1 378.7Q633.4 380.6 634.5 380.1M653.0 378.3Q650.0 376.4 649.1 377.5M647.7 378.3Q648.7 377.9 649.1 377.5M625.9 405.1Q623.1 401.6 627.6 400.4M623.0 397.2Q625.8 399.4 627.0 398.8M629.5 395.7Q633.1 396.9 634.8 396.4M635.1 397.2Q635.3 400.0 634.8 396.4M655.6 389.1Q656.3 392.8 653.7 393.8M651.3 401.9Q655.4 401.7 659.6 400.7M626.9 387.6Q627.5 387.2 628.6 384.9M634.2 390.2Q633.8 385.9 632.7 385.5M635.8 391.0Q634.4 390.1 634.2 390.2M636.0 391.4Q636.0 396.0 634.8 396.4M652.0 385.1Q652.5 385.9 651.4 385.1M648.8 398.5Q650.0 393.1 644.9 400.5M648.6 389.7Q642.2 386.9 643.8 387.3M647.7 378.3Q646.0 376.7 641.6 380.4M641.5 384.7Q643.1 389.0 643.3 385.9M647.7 378.3Q647.9 377.0 647.7 378.3M651.4 385.1Q651.8 381.6 648.2 383.0M643.8 387.3Q643.0 386.3 643.3 385.9" stroke-width="1.20" stroke-opacity="0.60"/><path d="M684.5 482.0Q686.1 476.3 680.9 471.4M655.7 471.0Q660.6 476.0 665.4 476.3M655.7 471.0Q654.4 476.5 649.9 474.8M639.0 473.3Q636.8 476.2 633.3 482.0M639.0 473.3Q645.4 472.3 649.9 474.8M655.7 471.0Q656.5 465.9 657.2 460.9M617.1 469.0Q621.0 472.9 620.1 481.6M617.1 469.0Q612.3 469.3 607.0 467.0M634.3 464.5Q631.2 464.5 625.4 462.0M625.4 462.0Q620.5 464.8 617.1 469.0M677.6 469.7Q673.7 464.6 674.6 460.3M674.6 460.3Q681.9 453.8 684.5 448.5M583.8 463.6Q577.6 460.8 569.0 462.4M570.6 482.0Q566.4 480.4 565.0 480.2M602.2 461.7Q596.3 461.1 586.8 466.9M566.1 457.2Q554.9 458.1 549.3 456.7M669.8 312.5Q667.6 309.0 670.8 317.2M663.0 320.6Q661.2 320.4 655.5 315.0M654.8 313.3Q653.6 310.1 655.5 315.0M677.5 387.9Q680.8 387.2 684.5 383.0M671.4 397.0Q673.9 396.8 682.9 399.9M671.4 397.0Q671.9 394.3 668.0 391.9M622.0 450.1Q629.1 445.9 628.2 444.6M622.0 450.1Q628.0 453.5 625.4 462.0M644.4 447.6Q634.6 446.4 630.8 443.8M521.0 338.6Q521.8 337.7 523.0 337.7M523.0 337.7Q527.3 339.3 529.9 342.3M558.9 350.6Q562.1 347.0 563.2 344.9M560.2 330.7Q556.2 330.4 555.6 330.8M546.3 346.2Q545.9 347.6 546.6 347.1M549.3 326.2Q549.4 319.1 547.8 312.5M538.8 328.7Q535.1 324.8 530.2 321.5M555.6 330.8Q552.8 329.6 549.3 326.2M536.0 340.6Q540.2 342.1 546.3 346.2M529.9 342.3Q530.2 342.9 536.0 340.6M522.6 326.8Q525.7 321.5 530.2 321.5M531.5 312.5Q529.8 313.6 531.6 312.6M611.7 327.6Q611.5 322.3 610.9 321.5M617.7 327.8Q619.2 326.5 618.4 324.1M573.1 340.0Q570.0 336.3 563.3 337.0M563.2 344.9Q565.1 346.8 569.9 347.4M573.1 340.0Q568.2 348.2 573.7 344.5M569.9 347.4Q570.2 346.5 573.7 344.5M618.4 424.4Q615.7 422.9 613.2 418.6M611.4 428.8Q608.1 428.4 605.9 426.0M606.8 420.4Q607.7 424.4 605.9 426.0M606.8 420.4Q608.2 417.8 609.8 418.0M609.8 418.0Q613.6 421.0 613.2 418.6M540.2 482.0Q539.0 481.4 541.0 478.6M535.3 468.2Q525.8 470.7 522.1 470.6M521.0 468.0Q520.3 467.7 522.1 470.6M549.3 456.7Q546.8 457.0 547.6 455.4M539.8 457.6Q541.1 461.4 543.8 455.3M583.8 450.3Q574.6 448.2 571.2 444.4M663.9 457.0Q660.6 447.5 665.1 442.3M684.5 445.9Q684.0 443.3 684.4 445.8M645.6 445.7Q654.6 440.1 663.7 440.2M684.5 340.5Q678.3 336.9 677.4 338.7M677.2 338.8Q680.4 340.6 677.4 338.7M677.4 338.7Q677.3 332.0 683.5 323.7M625.7 329.5Q625.6 332.3 622.8 331.0M625.7 329.5Q626.1 330.5 628.0 330.0M622.8 331.0Q619.9 335.3 622.0 335.7M634.1 346.3Q636.4 352.2 636.4 351.1M640.1 351.1Q639.4 346.1 640.7 343.9M672.9 381.2Q676.8 380.3 678.3 376.1M678.3 376.1Q673.6 376.2 670.4 370.9M670.4 370.9Q668.8 375.5 668.3 372.6M674.4 387.3Q675.9 382.2 672.9 381.2M627.8 428.1Q624.7 429.7 622.8 434.9M610.0 436.6Q614.7 440.6 615.5 439.3M603.4 451.7Q602.8 449.3 600.0 447.0M583.8 450.3Q586.2 446.4 593.1 444.9M603.4 439.9Q599.9 434.4 601.4 431.5M534.9 373.7Q541.5 369.9 550.4 369.8M544.0 355.2Q547.5 364.0 551.9 366.4M550.4 369.8Q548.4 368.2 551.9 366.4M532.0 382.9Q533.9 376.5 534.9 373.7M562.4 358.8Q562.8 358.4 562.4 359.2M560.8 362.5Q556.3 362.6 551.9 366.4M602.0 312.5Q605.0 313.3 606.6 316.7M597.8 313.8Q597.1 316.2 601.9 321.4M598.9 323.6Q597.3 317.7 591.9 318.6M596.1 312.5Q594.3 316.9 597.1 313.8M577.2 336.6Q575.6 337.3 581.5 338.2M577.7 346.5Q572.2 342.3 573.7 344.5M581.5 338.2Q581.8 340.6 579.7 345.1M593.9 365.4Q596.9 363.5 594.7 365.1M593.9 365.4Q590.2 365.1 593.5 371.5M603.2 373.4Q599.2 371.8 600.1 369.5M570.9 352.0Q576.1 353.1 577.0 353.9M562.4 359.2Q564.7 362.5 575.7 360.9M577.7 346.5Q580.1 351.9 578.1 353.0M578.1 353.0Q575.1 352.2 577.0 353.9M603.2 398.2Q606.0 397.8 602.9 401.2M595.8 400.6Q599.5 397.3 598.9 394.4M609.8 418.0Q608.5 415.1 609.4 412.7M596.8 408.3Q596.4 410.1 596.8 408.3M596.8 408.3Q598.8 416.0 598.9 415.6M600.8 415.7Q599.8 413.8 598.9 415.6M605.3 411.2Q605.7 410.0 604.2 407.2M543.8 455.3Q537.0 445.1 537.2 438.5M542.6 428.5Q538.3 427.0 532.0 419.6M684.4 445.8Q685.8 436.1 683.2 430.9M684.5 406.8Q680.1 409.5 683.8 408.6M684.5 409.4Q682.6 410.5 683.8 408.6M655.5 315.0Q648.0 320.7 651.1 324.2M654.4 332.7Q653.9 333.0 655.5 334.7M648.1 335.1Q648.8 333.1 649.2 332.0M646.7 350.6Q646.1 347.3 647.3 347.9M647.3 347.9Q649.3 351.2 652.3 345.7M652.3 345.7Q653.5 347.2 655.6 350.9M617.7 327.8Q619.9 328.3 622.8 331.0M625.7 329.5Q620.8 322.8 625.0 322.0M622.0 335.7Q619.8 335.9 620.5 337.2M630.1 337.9Q626.7 342.6 628.3 342.3M626.6 342.8Q625.6 345.8 628.3 342.3M614.9 334.5Q615.0 338.8 617.2 336.8M614.9 334.5Q613.1 333.8 610.4 334.5M610.4 334.5Q608.5 337.2 609.4 335.5M609.4 335.5Q610.3 337.0 609.6 341.3M609.6 341.3Q612.7 338.4 613.9 341.1M620.5 337.2Q619.9 333.2 617.2 336.8M609.9 329.0Q613.6 334.3 610.4 334.5M618.0 345.7Q615.2 344.7 618.8 345.2M609.5 341.3Q609.5 339.0 609.6 341.3M647.3 347.9Q645.7 343.3 643.7 342.5M652.3 345.7Q654.4 344.6 653.6 342.5M648.1 335.1Q641.6 337.2 646.0 336.0M640.7 343.9Q640.1 343.3 642.4 342.5M640.5 351.4Q641.9 351.4 645.9 351.3M627.8 414.5Q625.4 416.7 625.3 415.6M633.8 417.7Q634.9 411.9 633.7 417.6M570.9 437.7Q577.4 436.6 586.1 431.2M586.1 431.2Q587.1 427.7 587.5 431.4M587.5 431.4Q590.2 431.3 587.8 431.2M589.8 319.3Q584.9 318.1 586.9 319.0M586.8 319.0Q588.3 322.6 584.3 328.1M586.8 319.0Q587.6 316.3 586.9 319.0M593.3 327.5Q592.3 326.7 593.1 328.3M584.3 328.1Q587.5 329.8 586.8 331.3M586.8 331.3Q588.2 330.0 589.2 331.2M579.3 328.0Q579.5 328.6 584.3 328.1M597.8 331.8Q597.5 332.0 593.1 328.3M589.9 351.6Q593.4 354.5 594.7 355.1M603.1 363.8Q605.1 359.7 606.5 358.9M602.8 354.7Q604.4 354.3 606.2 356.0M603.2 364.3Q606.2 359.7 603.1 363.8M597.2 359.9Q598.2 360.2 594.7 365.1M597.2 359.9Q600.2 360.2 598.2 359.8M608.6 349.4Q604.2 351.0 603.7 347.0M563.1 381.5Q571.5 377.4 574.5 376.1M598.6 380.9Q601.5 383.6 605.2 381.5M598.6 380.9Q600.4 378.8 598.3 380.5M603.2 373.4Q603.1 373.7 604.0 373.5M598.3 380.5Q597.1 376.7 598.8 377.2M606.0 379.6Q604.0 377.2 604.0 373.5M557.0 385.3Q558.4 384.4 559.8 385.3M573.7 370.1Q577.0 363.8 576.6 364.7M575.7 360.9Q575.3 361.9 576.5 362.2M584.5 346.6Q589.6 350.0 584.0 351.4M590.4 347.0Q586.8 350.8 590.9 348.8M589.9 351.6Q588.4 351.5 588.6 352.4M588.6 352.4Q584.4 350.5 584.0 351.4M596.8 408.3Q595.4 407.2 590.0 408.1M591.7 400.3Q592.1 399.6 591.6 400.4M591.5 387.3Q593.4 393.3 591.5 392.8M598.7 393.7Q600.7 393.2 600.7 389.7M598.2 386.2Q595.7 391.2 600.7 389.7M598.9 394.4Q600.6 393.1 598.7 393.7M598.6 380.9Q597.8 382.8 598.2 386.2M602.6 389.3Q602.2 391.0 600.7 389.7M606.9 384.7Q605.0 384.2 605.2 381.5M616.5 414.5Q619.3 414.7 619.9 414.4M625.3 415.6Q622.9 414.5 621.2 413.4M671.4 408.2Q668.1 410.6 664.7 414.4M671.4 408.2Q678.0 405.4 681.9 409.9M664.7 414.4Q667.0 420.8 667.2 426.4M667.2 426.4Q671.1 424.0 675.2 425.2M660.7 403.1Q660.6 403.8 658.6 409.9M677.2 338.8Q673.4 338.9 670.2 335.7M666.1 342.1Q670.5 339.9 668.9 336.7M633.5 312.5Q632.6 315.8 632.5 313.9M631.9 328.0Q632.8 328.9 633.1 325.3M626.3 321.2Q629.9 317.9 630.6 321.2M640.4 321.7Q641.5 321.6 642.0 318.0M639.7 315.1Q635.5 314.2 636.8 316.5M638.5 326.4Q638.7 324.4 633.1 325.3M645.4 324.6Q641.3 325.0 641.1 323.7M632.0 314.0Q631.6 315.0 630.6 321.2M669.8 347.0Q671.2 351.2 668.9 351.4M676.9 365.5Q677.9 356.8 676.8 358.3M671.1 359.3Q673.7 354.8 675.3 357.1M676.8 358.3Q679.3 361.8 675.3 357.1M684.5 358.1Q682.0 361.4 676.8 358.3M625.4 313.1Q624.2 312.4 625.3 313.2M625.4 313.1Q628.0 312.9 624.4 312.5M617.7 312.5Q617.5 312.8 618.3 316.1M618.3 316.1Q620.2 315.6 619.3 316.7M621.3 321.7Q625.1 320.9 619.3 316.7M606.8 342.0Q605.7 341.7 603.8 345.8M618.9 352.2Q623.7 348.1 619.5 352.7M619.5 352.7Q618.4 355.6 619.0 358.3M614.6 359.2Q613.5 357.7 612.6 355.3M617.4 346.9Q615.8 349.6 618.9 352.2M613.0 362.4Q613.7 366.6 617.9 366.1M613.0 362.4Q614.2 361.3 614.6 359.2M624.2 347.0Q626.8 347.6 625.3 349.8M631.3 346.3Q633.4 340.7 628.3 342.3M633.9 353.9Q632.6 354.6 632.0 354.3M634.8 332.1Q635.8 330.9 632.4 337.3M632.4 337.3Q632.0 337.7 633.7 338.0M640.9 332.2Q642.1 334.6 641.0 333.2M642.4 342.5Q639.3 340.7 639.1 337.6M631.9 328.0Q632.8 332.9 634.8 332.1M628.4 357.3Q626.9 366.4 626.4 364.8M623.4 370.4Q629.3 370.8 626.3 367.3M643.8 434.2Q645.3 429.1 644.3 425.7M644.3 425.7Q641.9 425.9 638.2 423.9M646.1 424.2Q653.0 428.9 657.8 429.4M647.8 418.3Q651.6 414.1 651.1 416.5M645.1 436.4Q652.0 434.3 657.8 429.4M636.0 418.5Q636.1 419.0 640.7 415.3M642.6 415.3Q639.9 415.5 640.7 415.3M663.7 440.2Q663.7 436.7 664.0 429.1M667.2 426.4Q664.3 428.8 664.1 428.9M589.9 416.9Q586.4 424.9 589.9 427.6M589.9 408.1Q589.7 410.5 590.0 408.1M613.0 370.8Q609.7 373.3 609.9 374.3M605.0 373.0Q608.4 379.1 609.9 374.3M607.9 367.4Q612.1 368.8 609.3 367.1M610.8 377.6Q611.7 372.0 609.9 374.3M603.2 364.3Q609.3 365.2 607.9 367.4M598.3 380.5Q596.0 380.4 593.3 380.3M532.0 382.9Q536.2 382.5 535.0 385.9M593.9 365.4Q589.7 364.9 589.7 364.2M587.6 371.0Q591.2 372.1 589.7 364.2M603.2 398.2Q607.9 397.1 608.0 396.0M671.1 359.3Q665.4 355.6 664.8 357.3M597.2 336.0Q597.1 337.0 594.2 336.8M600.3 338.0Q599.3 337.9 599.3 342.4M594.2 336.8Q594.5 340.3 592.3 339.8M592.3 339.8Q593.0 342.5 593.4 342.9M597.8 331.8Q595.5 336.0 597.2 336.0M589.2 331.2Q591.6 334.4 594.2 336.8M590.4 347.0Q592.7 345.1 593.4 342.9M654.6 359.4Q652.8 362.4 652.3 363.7M652.3 363.7Q653.6 364.7 649.4 364.1M591.5 377.5Q591.0 374.6 587.8 376.8M587.6 371.0Q590.5 374.0 587.5 371.1M585.2 379.5Q581.7 380.7 581.0 383.3M591.5 387.3Q593.0 385.6 590.2 385.6M584.1 399.0Q581.4 400.0 581.0 401.3M581.0 401.3Q576.3 401.6 581.2 404.4M582.7 406.1Q582.6 405.3 581.2 404.4M582.7 406.1Q575.9 415.0 580.4 416.9M580.4 416.9Q576.8 418.0 578.1 418.7M577.5 392.6Q575.6 389.8 572.9 388.6M577.6 398.0Q572.3 398.8 567.5 399.7M583.0 389.8Q581.4 390.9 577.5 392.6M581.0 401.3Q579.9 399.7 577.6 398.0M577.7 382.6Q577.3 384.3 572.9 388.6M559.8 385.3Q566.6 385.8 564.5 389.0M589.4 363.7Q586.4 361.8 586.0 363.4M589.4 363.7Q592.2 364.8 590.3 359.1M590.3 359.1Q588.2 359.7 588.1 357.0M588.1 357.0Q585.5 357.1 584.4 357.8M582.8 367.1Q585.7 366.9 586.0 363.4M589.7 364.2Q586.9 364.9 589.4 363.7M594.6 357.5Q591.5 356.6 590.3 359.1M576.5 362.2Q578.5 362.2 583.5 360.5M581.0 353.2Q583.1 355.0 584.4 357.8M618.6 407.6Q616.9 408.3 612.8 409.4M621.2 413.4Q625.3 411.5 621.3 411.7M620.8 404.1Q620.8 402.2 619.5 404.9M616.0 397.1Q617.2 395.2 616.5 396.7M612.4 383.1Q609.6 384.1 614.4 384.4M614.4 384.4Q616.5 387.1 615.4 389.2M614.4 384.4Q616.6 385.4 619.5 381.1M618.1 376.5Q618.4 381.6 619.5 381.1M618.1 376.5Q618.4 375.4 623.6 374.2M666.6 344.0Q665.9 349.0 662.0 349.1M657.4 359.2Q660.2 358.1 659.5 362.5M654.6 359.4Q655.0 361.3 657.4 359.2M659.5 362.5Q654.7 371.2 656.9 366.7M656.9 366.7Q658.9 370.0 661.3 370.0M647.9 365.9Q642.8 363.3 644.1 365.5M640.4 358.7Q639.6 361.3 638.3 359.5M565.2 406.5Q569.9 408.3 571.0 409.1M571.0 409.1Q573.0 413.0 576.0 418.6M556.1 419.1Q559.8 417.1 556.4 410.6M581.2 404.4Q573.1 407.4 571.0 409.1M549.9 404.3Q554.6 406.1 556.4 410.6M578.1 418.7Q580.3 418.6 576.0 418.6M631.7 371.9Q634.3 372.0 629.6 374.7M637.5 360.7Q635.0 365.1 639.1 365.6M639.1 365.6Q638.0 368.6 634.7 369.3M640.7 415.3Q641.2 414.9 637.8 409.3M623.0 397.2Q625.9 393.8 623.4 393.6M621.3 382.3Q623.1 384.3 621.9 386.8M621.9 386.8Q618.4 392.0 619.5 389.5M658.5 375.1Q661.4 377.9 660.7 379.0M660.1 387.4Q657.4 383.6 658.4 382.8M660.7 379.0Q659.8 380.2 658.4 382.8M649.0 370.3Q645.5 372.4 642.9 372.7M655.3 366.9Q652.5 367.4 653.3 371.0M653.3 371.0Q651.7 371.5 650.4 371.3M621.3 411.7Q626.3 408.2 627.3 407.4M634.7 403.3Q633.6 400.8 634.1 402.9M628.6 408.1Q628.5 407.0 634.1 402.9M634.7 403.3Q636.5 404.7 639.4 403.0M642.6 415.3Q641.9 410.3 644.8 407.4M641.8 406.9Q645.4 405.7 644.8 407.4M644.8 407.4Q643.7 405.9 645.2 407.2M641.8 372.6Q643.5 371.3 640.4 379.1M640.4 379.1Q640.0 377.6 636.1 378.7M650.4 371.3Q648.7 376.1 649.1 377.5M658.4 382.8Q660.2 381.2 654.2 382.6M660.1 387.4Q660.1 391.3 655.6 389.1M627.0 398.8Q625.7 400.3 627.6 400.4M633.7 401.7Q633.3 400.0 635.1 397.2M629.5 395.7Q630.5 396.6 627.0 398.8M666.0 391.4Q663.6 396.4 659.7 397.9M653.7 393.8Q656.5 398.4 659.7 397.9M659.6 400.7Q659.6 400.4 659.7 397.9M626.9 387.6Q626.8 390.1 628.1 390.9M628.6 384.9Q632.1 385.5 632.7 385.5M628.1 390.9Q629.5 387.0 628.3 391.0M628.3 391.0Q631.9 393.2 634.2 390.2M623.4 393.6Q625.8 393.3 628.1 390.9M635.0 383.0Q633.0 379.5 634.5 380.1M635.0 383.0Q634.6 384.7 632.7 385.5M629.5 395.7Q631.1 391.7 628.3 391.0M635.8 391.0Q635.7 388.6 639.2 385.4M649.9 394.2Q654.6 393.3 653.7 393.8M648.8 398.5Q650.3 395.4 649.8 394.3M649.8 394.3Q649.5 391.6 642.5 393.7M642.5 393.7Q642.6 397.1 641.1 398.5M644.9 400.5Q643.0 401.4 641.5 399.2M641.5 399.2Q641.1 401.4 641.1 398.5M645.2 407.2Q644.2 402.7 644.9 400.5M641.7 392.5Q642.7 395.0 642.5 393.7M635.1 397.2Q635.4 394.8 641.1 398.5M639.4 403.0Q642.4 402.8 641.5 399.2M647.7 378.3Q648.7 383.1 648.2 383.0M641.6 380.4Q635.6 378.2 641.5 384.7M639.2 385.4Q640.4 385.3 641.5 384.7" stroke-width="0.80" stroke-opacity="0.40"/><path d="M665.4 476.3Q670.7 473.8 677.6 469.7M677.6 469.7Q680.8 470.3 680.9 471.4M657.2 460.9Q651.0 453.9 645.0 451.7M620.1 481.6Q619.0 484.1 619.6 482.0M601.5 481.7Q601.0 482.3 598.3 482.0M585.8 474.5Q580.0 478.2 574.3 482.0M585.8 474.5Q588.1 474.3 586.8 466.9M566.1 457.2Q565.8 460.5 569.0 462.4M563.7 477.6Q556.5 477.5 554.1 472.7M655.6 312.5Q656.4 315.0 654.8 313.3M677.5 387.9Q680.9 390.7 682.9 399.9M677.5 387.9Q677.5 390.2 674.4 387.3M668.0 391.9Q671.6 391.8 674.4 387.3M645.0 451.7Q643.6 452.9 644.4 447.6M628.2 444.6Q627.3 442.8 630.8 443.8M529.9 342.3Q527.2 349.6 526.3 359.2M563.2 344.9Q561.2 339.2 563.3 337.0M555.6 330.8Q550.3 340.9 546.3 346.2M523.0 337.7Q520.9 329.3 522.6 326.8M549.3 326.2Q543.1 327.6 538.8 328.7M532.0 312.5Q532.7 311.3 531.6 312.6M536.0 340.6Q535.6 334.5 538.8 328.7M563.9 312.5Q563.1 313.7 566.0 321.9M563.1 328.0Q565.1 329.3 560.2 330.7M616.6 328.3Q615.6 327.2 617.7 327.8M612.6 320.4Q611.7 319.8 611.1 321.1M610.9 321.5Q610.8 323.0 611.1 321.1M577.6 312.5Q578.2 315.9 578.7 317.9M563.1 328.0Q570.6 329.6 575.8 332.2M575.2 320.9Q576.5 326.0 579.3 328.0M575.8 332.2Q577.8 329.4 579.3 328.0M573.1 340.0Q572.9 336.7 577.2 336.6M562.4 358.8Q566.7 355.8 570.9 352.0M562.4 358.8Q557.2 356.0 558.9 350.6M618.4 424.4Q617.3 427.8 615.3 427.9M615.3 427.9Q612.9 430.0 611.4 428.8M521.0 473.0Q525.5 469.9 522.1 470.6M539.8 457.6Q538.3 463.2 535.3 468.2M539.8 457.6Q532.9 453.1 521.0 451.3M543.8 455.3Q545.9 455.0 547.6 455.4M521.0 384.0Q519.7 386.9 521.5 384.8M583.8 463.6Q585.2 455.0 583.8 450.3M684.4 445.8Q676.5 443.4 665.1 442.3M644.4 447.6Q644.7 444.2 645.6 445.7M675.6 345.5Q676.8 343.8 677.2 338.8M684.5 324.1Q683.4 320.8 683.5 323.7M670.8 317.2Q674.2 321.4 677.5 321.2M683.9 312.5Q684.6 316.6 680.9 321.3M628.0 330.0Q628.2 335.9 630.7 337.5M636.4 351.1Q638.4 350.7 640.1 351.1M667.5 379.4Q667.0 373.3 668.3 372.6M618.4 424.4Q616.8 423.4 619.5 424.0M619.5 424.0Q622.5 423.6 624.9 424.5M615.3 427.9Q617.1 431.6 619.1 434.6M625.9 425.0Q627.3 426.0 624.9 424.5M610.0 436.6Q606.9 432.8 603.4 439.9M603.4 439.9Q598.6 443.3 600.0 447.0M618.2 448.8Q615.0 442.7 615.5 439.3M618.2 448.8Q614.5 449.5 603.4 451.7M611.4 428.8Q610.5 431.5 610.0 436.6M622.0 450.1Q619.6 448.2 618.2 448.8M534.9 373.7Q529.6 369.5 529.7 361.2M526.3 359.2Q528.9 361.8 529.7 361.2M532.0 382.9Q527.8 381.7 521.5 384.8M562.4 359.2Q562.3 358.5 560.8 362.5M601.9 321.4Q601.0 317.7 606.6 317.1M610.5 312.5Q608.5 315.0 606.6 316.7M610.9 321.5Q610.3 321.2 605.1 324.3M611.1 321.1Q608.4 317.5 606.6 317.1M614.0 317.6Q611.9 316.6 612.6 320.4M598.9 323.6Q601.5 323.4 601.9 321.6M597.8 313.8Q594.6 312.7 597.1 313.8M591.9 318.6Q594.9 314.2 597.1 313.8M577.7 346.5Q578.0 345.7 579.7 345.1M586.1 339.5Q584.4 337.1 584.0 337.6M600.1 369.5Q599.3 368.9 594.5 372.6M594.5 372.6Q594.7 374.2 594.5 372.6M575.7 360.9Q574.9 357.4 577.0 353.9M603.2 398.2Q597.8 397.2 598.9 394.4M595.8 400.6Q595.2 402.0 597.7 402.9M609.4 412.7Q609.5 413.5 605.3 411.2M596.8 408.3Q599.8 409.5 604.2 407.2M602.9 401.2Q605.2 404.3 605.5 404.8M604.2 407.2Q606.6 406.6 605.5 404.8M606.8 385.3Q604.6 386.1 602.6 389.3M606.8 385.3Q607.0 386.2 611.1 390.5M602.6 389.3Q604.3 388.3 608.6 394.3M611.1 390.5Q611.0 392.9 608.6 394.3M537.2 438.5Q533.1 438.7 521.0 442.0M547.6 455.4Q551.9 447.8 556.2 440.1M537.2 438.5Q540.6 433.3 542.6 428.5M542.6 428.5Q544.7 429.5 546.9 428.1M571.2 444.4Q571.8 441.0 569.8 440.3M556.2 440.1Q563.3 443.7 569.8 440.3M535.3 406.0Q526.1 399.2 521.0 401.6M521.2 422.5Q519.3 418.1 521.0 422.1M521.0 422.8Q520.2 423.7 521.2 422.5M663.0 320.6Q662.8 322.9 661.5 326.3M651.2 324.3Q649.4 323.2 651.1 324.2M661.5 326.3Q657.6 327.2 657.3 327.0M651.2 324.3Q649.9 326.1 650.1 331.5M650.1 331.5Q656.8 332.8 654.4 332.7M658.4 342.6Q662.9 342.1 659.4 341.7M659.4 341.7Q661.5 342.8 659.4 335.6M650.1 331.5Q651.9 331.7 649.2 332.0M649.2 332.0Q646.1 333.6 644.8 329.6M618.4 324.1Q622.2 322.3 621.3 321.7M611.7 327.6Q611.9 328.7 609.9 329.0M618.8 345.2Q620.5 349.8 624.2 347.0M621.2 340.6Q621.9 341.1 626.6 342.8M624.2 347.0Q625.3 343.0 626.6 342.8M620.5 337.2Q620.8 344.3 621.2 340.6M616.6 328.3Q620.4 328.2 614.9 334.5M618.0 345.7Q613.3 345.0 613.9 341.1M604.6 334.4Q606.8 336.3 609.4 335.5M604.6 334.4Q603.7 336.0 603.4 330.1M611.4 348.1Q611.3 342.6 609.5 341.3M611.4 348.1Q615.2 352.4 617.4 346.9M652.1 340.5Q648.0 340.1 644.1 342.1M642.4 342.5Q643.7 342.7 643.7 342.5M625.9 425.0Q629.7 419.3 633.8 417.7M624.9 424.5Q623.8 419.1 625.3 415.6M593.1 444.9Q591.9 438.9 587.5 431.4M601.4 431.5Q596.0 434.9 587.8 431.2M598.9 323.6Q597.7 320.5 598.5 324.7M589.8 319.3Q590.7 322.1 593.3 327.5M593.1 328.3Q591.0 335.2 589.2 331.2M591.9 318.6Q590.6 319.8 589.8 319.3M586.8 312.5Q587.0 316.9 586.9 319.0M598.5 324.7Q596.8 327.5 593.3 327.5M578.7 317.9Q584.8 314.7 586.8 319.0M584.0 337.6Q589.4 335.6 586.8 331.3M590.9 348.8Q592.4 348.2 589.9 351.6M590.9 348.8Q592.8 348.1 596.2 349.3M594.7 355.1Q595.9 355.8 596.9 352.9M597.4 348.0Q599.5 343.3 602.3 348.6M597.4 348.0Q599.0 346.8 596.2 349.3M602.2 353.9Q599.6 357.2 596.9 352.9M606.5 358.9Q603.2 358.8 606.2 356.0M594.6 357.5Q599.4 357.9 597.2 359.9M594.6 357.5Q594.2 357.6 594.7 355.1M602.2 353.9Q602.5 354.1 602.8 354.7M608.6 349.4Q606.7 352.2 606.3 356.0M606.3 356.0Q605.2 359.0 606.2 356.0M564.9 367.7Q568.8 371.4 573.7 370.1M575.2 374.3Q575.5 377.1 574.5 376.1M550.4 369.8Q553.9 376.6 557.0 385.3M586.6 345.2Q590.2 351.2 590.4 347.0M595.8 400.6Q592.7 400.8 591.7 400.3M591.5 387.3Q592.9 383.4 598.2 386.2M591.8 393.1Q592.0 388.9 591.5 392.8M584.1 399.0Q590.5 399.2 591.6 400.4M584.1 399.0Q584.5 399.4 586.4 393.7M586.4 393.7Q588.5 392.5 591.5 392.8M613.2 418.6Q611.4 418.4 616.5 414.5M609.4 412.7Q610.2 414.3 612.7 409.7M619.5 424.0Q618.7 419.5 619.9 414.4M681.9 409.9Q678.5 417.0 675.2 425.2M668.3 403.8Q665.1 401.5 660.7 403.1M671.4 397.0Q669.2 403.3 668.3 403.8M683.2 430.9Q680.7 428.4 675.2 425.2M670.2 335.7Q669.0 339.2 668.9 336.7M668.9 336.7Q664.0 334.3 660.4 334.9M669.9 331.5Q667.4 332.1 661.6 326.5M661.6 326.5Q660.1 330.4 660.4 334.9M675.6 345.5Q675.1 347.6 669.8 347.0M661.5 326.3Q660.7 328.8 661.6 326.5M632.5 313.9Q633.3 315.2 632.0 314.0M628.0 330.0Q631.3 328.5 631.9 328.0M632.1 322.4Q629.9 319.9 630.6 321.2M640.4 321.7Q637.1 322.2 636.4 319.9M636.4 319.9Q638.2 322.2 636.8 316.5M645.9 317.5Q640.1 317.3 642.0 318.0M640.4 312.5Q636.1 312.7 639.7 315.1M670.8 368.9Q674.9 368.6 668.4 365.1M668.4 365.1Q668.5 364.1 671.1 359.3M626.3 321.2Q627.3 316.3 625.3 313.2M604.6 334.4Q601.4 337.9 601.4 337.7M606.8 342.0Q602.7 339.9 601.4 337.7M611.2 348.4Q610.7 349.3 608.6 349.4M618.9 352.2Q614.7 355.2 613.4 353.8M619.0 358.3Q616.8 355.6 614.6 359.2M621.4 362.7Q622.5 361.6 620.9 359.9M606.3 356.0Q610.5 355.0 612.6 355.3M606.5 358.9Q610.9 360.6 612.0 362.8M620.9 359.9Q625.3 356.7 626.4 356.4M623.8 352.3Q625.3 352.9 626.4 356.4M623.8 352.3Q623.1 353.0 625.3 349.8M631.3 346.3Q630.2 346.9 629.2 349.4M636.4 351.1Q635.4 351.0 633.9 353.9M639.1 337.6Q634.1 339.1 633.7 338.0M646.0 336.0Q642.2 334.4 641.0 333.2M635.8 344.3Q633.4 338.8 633.7 338.0M652.0 356.7Q654.8 352.9 652.1 353.5M645.9 351.3Q644.3 354.5 645.5 358.2M647.1 358.7Q645.1 356.9 645.5 358.2M632.0 354.3Q633.4 358.3 629.3 357.1M628.4 357.3Q628.1 353.6 629.3 357.1M626.3 367.3Q628.2 368.7 626.5 364.9M638.2 423.9Q636.0 424.7 632.0 430.1M627.8 428.1Q631.9 427.1 632.0 430.1M636.0 418.5Q634.3 413.6 633.8 417.7M652.1 416.4Q650.8 416.5 651.1 416.5M652.1 416.4Q658.9 424.0 664.1 428.9M664.1 428.9Q666.8 432.1 664.0 429.1M644.3 425.7Q645.4 422.6 646.1 424.2M642.6 415.3Q643.7 412.6 647.8 418.3M598.9 415.6Q597.9 418.3 597.6 416.9M604.0 426.8Q598.2 425.3 597.7 423.4M587.8 431.2Q587.6 428.8 589.9 427.6M615.4 371.1Q612.7 371.0 613.0 370.8M615.4 371.1Q617.2 368.9 617.9 368.0M612.0 362.8Q611.1 364.9 609.3 367.1M606.0 379.6Q601.4 378.4 610.8 377.6M604.0 373.5Q605.7 370.2 605.0 373.0M535.3 406.0Q534.8 406.6 538.0 403.7M557.0 385.3Q556.2 385.7 555.9 386.2M593.5 371.5Q593.3 372.6 587.6 371.0M608.6 394.3Q608.4 393.8 608.6 394.9M608.0 396.0Q608.4 393.7 608.6 394.9M612.4 378.5Q615.9 377.4 617.6 376.3M664.1 364.1Q667.0 362.9 663.6 363.4M664.8 357.3Q661.8 359.4 663.6 363.4M647.1 358.7Q651.8 357.0 649.4 364.1M626.5 364.9Q631.7 362.2 632.5 364.3M633.8 361.9Q630.8 359.9 632.5 364.3M580.2 373.9Q583.8 372.0 584.2 370.5M584.2 370.5Q586.4 371.2 587.5 371.1M582.8 367.1Q582.6 371.3 584.2 370.5M585.2 379.5Q589.2 385.6 590.2 384.5M593.3 380.3Q589.5 380.0 590.2 384.5M585.4 378.8Q582.9 380.3 585.2 379.5M577.7 382.6Q577.9 375.2 574.5 376.1M583.0 389.8Q587.4 397.1 586.4 393.7M583.0 389.8Q583.8 389.9 583.4 387.6M589.9 408.1Q589.4 407.5 582.7 406.1M577.5 392.6Q578.1 395.5 577.6 398.0M567.5 399.7Q566.0 395.5 564.5 389.0M572.9 388.6Q568.4 392.1 564.5 389.0M588.6 352.4Q591.8 353.4 588.1 357.0M618.6 407.6Q620.9 406.2 619.5 404.9M612.8 409.4Q615.4 405.5 610.4 404.2M610.4 404.2Q614.3 404.2 611.0 403.1M612.7 409.7Q612.6 408.5 612.8 409.4M621.3 411.7Q618.3 412.4 618.6 407.6M621.3 398.0Q618.2 396.3 616.5 396.7M605.5 404.8Q608.5 403.9 610.4 404.2M611.1 390.5Q611.6 393.2 615.4 389.2M616.5 396.7Q615.6 394.6 616.9 390.1M615.4 389.2Q616.8 390.9 616.9 390.1M623.4 370.4Q621.1 374.6 623.6 374.2M666.2 380.2Q665.2 384.8 664.8 389.7M665.8 352.6Q663.4 354.0 664.3 356.4M664.3 356.4Q663.3 355.4 659.6 356.3M659.8 349.0Q663.0 348.6 662.0 349.1M668.9 351.4Q665.3 353.4 665.8 352.6M664.8 357.3Q664.4 358.6 664.3 356.4M659.5 362.5Q662.4 361.1 663.6 363.4M655.6 350.9Q656.2 350.4 657.5 351.0M664.1 364.1Q663.3 368.9 661.3 370.0M656.9 366.7Q654.3 366.5 655.3 366.9M668.3 372.6Q666.0 372.3 661.7 371.4M638.3 359.5Q638.1 359.1 637.5 360.7M556.1 419.1Q563.6 420.1 567.5 425.2M567.5 399.7Q565.7 404.7 565.2 406.5M570.9 437.7Q572.9 434.6 567.5 425.2M623.6 374.2Q626.2 375.2 625.9 375.6M621.3 382.3Q620.6 380.2 619.5 381.1M621.3 382.3Q628.8 380.9 625.6 380.6M625.6 380.6Q624.6 380.9 625.9 375.6M626.3 367.3Q630.5 367.9 631.7 371.9M625.9 375.6Q627.1 374.5 629.6 374.7M644.1 365.5Q644.4 365.2 642.4 366.7M633.7 417.6Q634.1 414.9 633.9 410.7M633.9 410.7Q633.9 409.9 636.5 409.1M627.8 414.5Q627.7 411.1 628.9 408.5M651.1 416.5Q648.6 412.0 646.6 407.4M623.4 393.6Q621.5 392.3 619.5 389.5M666.2 380.2Q663.4 379.6 660.7 379.0M661.7 371.4Q659.2 369.2 658.5 375.1M647.9 365.9Q646.1 365.7 649.0 370.3M642.4 366.7Q644.0 371.5 642.1 372.5M635.7 372.1Q641.0 370.8 641.8 372.6M653.3 371.0Q654.8 373.0 657.2 375.0M620.8 404.1Q625.2 404.8 625.9 405.1M627.3 407.4Q623.2 405.7 625.9 405.1M628.9 408.5Q631.8 405.0 628.6 408.1M636.5 409.1Q639.1 407.0 634.7 403.3M641.8 406.9Q637.3 403.4 639.4 403.0M646.6 407.4Q646.1 409.0 645.2 407.2M625.6 380.6Q626.8 381.2 628.0 382.2M635.7 372.1Q631.1 380.5 636.1 378.7M657.2 375.0Q651.9 375.0 653.0 378.3M653.0 378.3Q654.9 377.3 654.2 382.6M642.9 372.7Q644.0 373.7 647.7 378.3M655.6 389.1Q656.4 385.7 652.0 385.1M654.2 382.6Q653.1 384.0 652.0 385.1M634.1 402.9Q633.7 402.3 633.7 401.7M633.7 401.7Q629.9 403.5 627.6 400.4M660.7 403.1Q657.4 403.6 659.6 400.7M650.4 405.9Q650.0 402.2 651.3 401.9M621.9 386.8Q627.6 387.9 626.9 387.6M628.0 382.2Q628.1 384.4 628.6 384.9M635.8 391.0Q637.2 394.2 636.0 391.4M635.0 383.0Q636.3 383.7 639.2 385.4M649.9 394.2Q650.4 390.7 648.6 389.7M648.6 389.7Q646.3 388.4 651.4 385.1M649.9 394.2Q652.8 395.4 649.8 394.3M651.3 401.9Q649.4 397.7 648.8 398.5M641.7 392.5Q640.4 392.1 643.8 387.3M641.7 392.5Q639.4 392.5 636.0 391.4M648.2 383.0Q644.8 383.6 643.3 385.9M640.4 379.1Q642.1 381.8 641.6 380.4" stroke-width="1.60" stroke-opacity="0.80"/></g><line x1="579.2" y1="411.5" x2="573.6" y2="402.6" stroke="#e8d800" stroke-width="2.2"/><path d="M571.1,398.5 L570.9,404.3 L576.4,400.9Z" fill="#e8d800"/><line x1="601.8" y1="421.3" x2="610.8" y2="413.0" stroke="#e8d800" stroke-width="2.2"/><path d="M614.3,409.8 L608.6,410.7 L612.9,415.4Z" fill="#e8d800"/><rect x="524.4" y="459.4" width="42.5" height="22" fill="#606060" fill-opacity="0.45"/><text x="527" y="473.5" font-size="12.4" fill="#fff">50 nm</text><rect x="531" y="477" width="29" height="2" fill="#fff" stroke="#777" stroke-width="0.5"/></g>
<g clip-path="url(#cpg)"><g filter="url(#fg)"><rect x="-13.0" y="506.6" width="15.0" height="15.1" fill="#383838"/><rect x="1.0" y="506.6" width="15.0" height="15.1" fill="#383838"/><rect x="15.0" y="506.6" width="15.0" height="15.1" fill="#2c2c2c"/><rect x="28.9" y="506.6" width="15.0" height="15.1" fill="#262626"/><rect x="42.9" y="506.6" width="15.0" height="15.1" fill="#383838"/><rect x="56.8" y="506.6" width="15.0" height="15.1" fill="#444444"/><rect x="70.8" y="506.6" width="15.0" height="15.1" fill="#565656"/><rect x="84.7" y="506.6" width="15.0" height="15.1" fill="#989898"/><rect x="98.7" y="506.6" width="15.0" height="15.1" fill="#c8c8c8"/><rect x="112.6" y="506.6" width="15.0" height="15.1" fill="#d4d4d4"/><rect x="126.6" y="506.6" width="15.0" height="15.1" fill="#dadada"/><rect x="140.5" y="506.6" width="15.0" height="15.1" fill="#cecece"/><rect x="154.5" y="506.6" width="15.0" height="15.1" fill="#c2c2c2"/><rect x="168.4" y="506.6" width="15.0" height="15.1" fill="#c2c2c2"/><rect x="-13.0" y="520.7" width="15.0" height="15.1" fill="#383838"/><rect x="1.0" y="520.7" width="15.0" height="15.1" fill="#383838"/><rect x="15.0" y="520.7" width="15.0" height="15.1" fill="#2c2c2c"/><rect x="28.9" y="520.7" width="15.0" height="15.1" fill="#262626"/><rect x="42.9" y="520.7" width="15.0" height="15.1" fill="#383838"/><rect x="56.8" y="520.7" width="15.0" height="15.1" fill="#444444"/><rect x="70.8" y="520.7" width="15.0" height="15.1" fill="#565656"/><rect x="84.7" y="520.7" width="15.0" height="15.1" fill="#989898"/><rect x="98.7" y="520.7" width="15.0" height="15.1" fill="#c8c8c8"/><rect x="112.6" y="520.7" width="15.0" height="15.1" fill="#d4d4d4"/><rect x="126.6" y="520.7" width="15.0" height="15.1" fill="#dadada"/><rect x="140.5" y="520.7" width="15.0" height="15.1" fill="#cecece"/><rect x="154.5" y="520.7" width="15.0" height="15.1" fill="#c2c2c2"/><rect x="168.4" y="520.7" width="15.0" height="15.1" fill="#c2c2c2"/><rect x="-13.0" y="534.8" width="15.0" height="15.1" fill="#444444"/><rect x="1.0" y="534.8" width="15.0" height="15.1" fill="#444444"/><rect x="15.0" y="534.8" width="15.0" height="15.1" fill="#3e3e3e"/><rect x="28.9" y="534.8" width="15.0" height="15.1" fill="#383838"/><rect x="42.9" y="534.8" width="15.0" height="15.1" fill="#323232"/><rect x="56.8" y="534.8" width="15.0" height="15.1" fill="#444444"/><rect x="70.8" y="534.8" width="15.0" height="15.1" fill="#5c5c5c"/><rect x="84.7" y="534.8" width="15.0" height="15.1" fill="#808080"/><rect x="98.7" y="534.8" width="15.0" height="15.1" fill="#d4d4d4"/><rect x="112.6" y="534.8" width="15.0" height="15.1" fill="#e6e6e6"/><rect x="126.6" y="534.8" width="15.0" height="15.1" fill="#e0e0e0"/><rect x="140.5" y="534.8" width="15.0" height="15.1" fill="#c8c8c8"/><rect x="154.5" y="534.8" width="15.0" height="15.1" fill="#b0b0b0"/><rect x="168.4" y="534.8" width="15.0" height="15.1" fill="#b0b0b0"/><rect x="-13.0" y="549.0" width="15.0" height="15.1" fill="#686868"/><rect x="1.0" y="549.0" width="15.0" height="15.1" fill="#686868"/><rect x="15.0" y="549.0" width="15.0" height="15.1" fill="#747474"/><rect x="28.9" y="549.0" width="15.0" height="15.1" fill="#505050"/><rect x="42.9" y="549.0" width="15.0" height="15.1" fill="#4a4a4a"/><rect x="56.8" y="549.0" width="15.0" height="15.1" fill="#565656"/><rect x="70.8" y="549.0" width="15.0" height="15.1" fill="#565656"/><rect x="84.7" y="549.0" width="15.0" height="15.1" fill="#686868"/><rect x="98.7" y="549.0" width="15.0" height="15.1" fill="#b6b6b6"/><rect x="112.6" y="549.0" width="15.0" height="15.1" fill="#dadada"/><rect x="126.6" y="549.0" width="15.0" height="15.1" fill="#dadada"/><rect x="140.5" y="549.0" width="15.0" height="15.1" fill="#c2c2c2"/><rect x="154.5" y="549.0" width="15.0" height="15.1" fill="#b6b6b6"/><rect x="168.4" y="549.0" width="15.0" height="15.1" fill="#b6b6b6"/><rect x="-13.0" y="563.1" width="15.0" height="15.1" fill="#989898"/><rect x="1.0" y="563.1" width="15.0" height="15.1" fill="#989898"/><rect x="15.0" y="563.1" width="15.0" height="15.1" fill="#9e9e9e"/><rect x="28.9" y="563.1" width="15.0" height="15.1" fill="#989898"/><rect x="42.9" y="563.1" width="15.0" height="15.1" fill="#747474"/><rect x="56.8" y="563.1" width="15.0" height="15.1" fill="#565656"/><rect x="70.8" y="563.1" width="15.0" height="15.1" fill="#505050"/><rect x="84.7" y="563.1" width="15.0" height="15.1" fill="#565656"/><rect x="98.7" y="563.1" width="15.0" height="15.1" fill="#808080"/><rect x="112.6" y="563.1" width="15.0" height="15.1" fill="#c8c8c8"/><rect x="126.6" y="563.1" width="15.0" height="15.1" fill="#d4d4d4"/><rect x="140.5" y="563.1" width="15.0" height="15.1" fill="#c8c8c8"/><rect x="154.5" y="563.1" width="15.0" height="15.1" fill="#c2c2c2"/><rect x="168.4" y="563.1" width="15.0" height="15.1" fill="#c2c2c2"/><rect x="-13.0" y="577.2" width="15.0" height="15.1" fill="#a4a4a4"/><rect x="1.0" y="577.2" width="15.0" height="15.1" fill="#a4a4a4"/><rect x="15.0" y="577.2" width="15.0" height="15.1" fill="#b0b0b0"/><rect x="28.9" y="577.2" width="15.0" height="15.1" fill="#aaaaaa"/><rect x="42.9" y="577.2" width="15.0" height="15.1" fill="#989898"/><rect x="56.8" y="577.2" width="15.0" height="15.1" fill="#686868"/><rect x="70.8" y="577.2" width="15.0" height="15.1" fill="#4a4a4a"/><rect x="84.7" y="577.2" width="15.0" height="15.1" fill="#444444"/><rect x="98.7" y="577.2" width="15.0" height="15.1" fill="#565656"/><rect x="112.6" y="577.2" width="15.0" height="15.1" fill="#989898"/><rect x="126.6" y="577.2" width="15.0" height="15.1" fill="#cecece"/><rect x="140.5" y="577.2" width="15.0" height="15.1" fill="#d4d4d4"/><rect x="154.5" y="577.2" width="15.0" height="15.1" fill="#d4d4d4"/><rect x="168.4" y="577.2" width="15.0" height="15.1" fill="#d4d4d4"/><rect x="-13.0" y="591.4" width="15.0" height="15.1" fill="#868686"/><rect x="1.0" y="591.4" width="15.0" height="15.1" fill="#868686"/><rect x="15.0" y="591.4" width="15.0" height="15.1" fill="#7a7a7a"/><rect x="28.9" y="591.4" width="15.0" height="15.1" fill="#747474"/><rect x="42.9" y="591.4" width="15.0" height="15.1" fill="#929292"/><rect x="56.8" y="591.4" width="15.0" height="15.1" fill="#8c8c8c"/><rect x="70.8" y="591.4" width="15.0" height="15.1" fill="#626262"/><rect x="84.7" y="591.4" width="15.0" height="15.1" fill="#4a4a4a"/><rect x="98.7" y="591.4" width="15.0" height="15.1" fill="#4a4a4a"/><rect x="112.6" y="591.4" width="15.0" height="15.1" fill="#686868"/><rect x="126.6" y="591.4" width="15.0" height="15.1" fill="#b0b0b0"/><rect x="140.5" y="591.4" width="15.0" height="15.1" fill="#cecece"/><rect x="154.5" y="591.4" width="15.0" height="15.1" fill="#dadada"/><rect x="168.4" y="591.4" width="15.0" height="15.1" fill="#dadada"/><rect x="-13.0" y="605.5" width="15.0" height="15.1" fill="#8c8c8c"/><rect x="1.0" y="605.5" width="15.0" height="15.1" fill="#8c8c8c"/><rect x="15.0" y="605.5" width="15.0" height="15.1" fill="#5c5c5c"/><rect x="28.9" y="605.5" width="15.0" height="15.1" fill="#6e6e6e"/><rect x="42.9" y="605.5" width="15.0" height="15.1" fill="#e6e6e6"/><rect x="56.8" y="605.5" width="15.0" height="15.1" fill="#e6e6e6"/><rect x="70.8" y="605.5" width="15.0" height="15.1" fill="#b6b6b6"/><rect x="84.7" y="605.5" width="15.0" height="15.1" fill="#7a7a7a"/><rect x="98.7" y="605.5" width="15.0" height="15.1" fill="#686868"/><rect x="112.6" y="605.5" width="15.0" height="15.1" fill="#747474"/><rect x="126.6" y="605.5" width="15.0" height="15.1" fill="#989898"/><rect x="140.5" y="605.5" width="15.0" height="15.1" fill="#bcbcbc"/><rect x="154.5" y="605.5" width="15.0" height="15.1" fill="#d4d4d4"/><rect x="168.4" y="605.5" width="15.0" height="15.1" fill="#d4d4d4"/><rect x="-13.0" y="619.6" width="15.0" height="15.1" fill="#b6b6b6"/><rect x="1.0" y="619.6" width="15.0" height="15.1" fill="#b6b6b6"/><rect x="15.0" y="619.6" width="15.0" height="15.1" fill="#808080"/><rect x="28.9" y="619.6" width="15.0" height="15.1" fill="#686868"/><rect x="42.9" y="619.6" width="15.0" height="15.1" fill="#989898"/><rect x="56.8" y="619.6" width="15.0" height="15.1" fill="#e6e6e6"/><rect x="70.8" y="619.6" width="15.0" height="15.1" fill="#ebebeb"/><rect x="84.7" y="619.6" width="15.0" height="15.1" fill="#b0b0b0"/><rect x="98.7" y="619.6" width="15.0" height="15.1" fill="#8c8c8c"/><rect x="112.6" y="619.6" width="15.0" height="15.1" fill="#8c8c8c"/><rect x="126.6" y="619.6" width="15.0" height="15.1" fill="#a4a4a4"/><rect x="140.5" y="619.6" width="15.0" height="15.1" fill="#b0b0b0"/><rect x="154.5" y="619.6" width="15.0" height="15.1" fill="#c2c2c2"/><rect x="168.4" y="619.6" width="15.0" height="15.1" fill="#c2c2c2"/><rect x="-13.0" y="633.8" width="15.0" height="15.1" fill="#c2c2c2"/><rect x="1.0" y="633.8" width="15.0" height="15.1" fill="#c2c2c2"/><rect x="15.0" y="633.8" width="15.0" height="15.1" fill="#b6b6b6"/><rect x="28.9" y="633.8" width="15.0" height="15.1" fill="#989898"/><rect x="42.9" y="633.8" width="15.0" height="15.1" fill="#5c5c5c"/><rect x="56.8" y="633.8" width="15.0" height="15.1" fill="#686868"/><rect x="70.8" y="633.8" width="15.0" height="15.1" fill="#bcbcbc"/><rect x="84.7" y="633.8" width="15.0" height="15.1" fill="#c8c8c8"/><rect x="98.7" y="633.8" width="15.0" height="15.1" fill="#a4a4a4"/><rect x="112.6" y="633.8" width="15.0" height="15.1" fill="#989898"/><rect x="126.6" y="633.8" width="15.0" height="15.1" fill="#989898"/><rect x="140.5" y="633.8" width="15.0" height="15.1" fill="#989898"/><rect x="154.5" y="633.8" width="15.0" height="15.1" fill="#989898"/><rect x="168.4" y="633.8" width="15.0" height="15.1" fill="#989898"/><rect x="-13.0" y="647.9" width="15.0" height="15.1" fill="#bcbcbc"/><rect x="1.0" y="647.9" width="15.0" height="15.1" fill="#bcbcbc"/><rect x="15.0" y="647.9" width="15.0" height="15.1" fill="#b0b0b0"/><rect x="28.9" y="647.9" width="15.0" height="15.1" fill="#aaaaaa"/><rect x="42.9" y="647.9" width="15.0" height="15.1" fill="#747474"/><rect x="56.8" y="647.9" width="15.0" height="15.1" fill="#565656"/><rect x="70.8" y="647.9" width="15.0" height="15.1" fill="#747474"/><rect x="84.7" y="647.9" width="15.0" height="15.1" fill="#989898"/><rect x="98.7" y="647.9" width="15.0" height="15.1" fill="#989898"/><rect x="112.6" y="647.9" width="15.0" height="15.1" fill="#989898"/><rect x="126.6" y="647.9" width="15.0" height="15.1" fill="#989898"/><rect x="140.5" y="647.9" width="15.0" height="15.1" fill="#989898"/><rect x="154.5" y="647.9" width="15.0" height="15.1" fill="#989898"/><rect x="168.4" y="647.9" width="15.0" height="15.1" fill="#989898"/><rect x="-13.0" y="662.0" width="15.0" height="15.1" fill="#c2c2c2"/><rect x="1.0" y="662.0" width="15.0" height="15.1" fill="#c2c2c2"/><rect x="15.0" y="662.0" width="15.0" height="15.1" fill="#bcbcbc"/><rect x="28.9" y="662.0" width="15.0" height="15.1" fill="#b6b6b6"/><rect x="42.9" y="662.0" width="15.0" height="15.1" fill="#aaaaaa"/><rect x="56.8" y="662.0" width="15.0" height="15.1" fill="#989898"/><rect x="70.8" y="662.0" width="15.0" height="15.1" fill="#8c8c8c"/><rect x="84.7" y="662.0" width="15.0" height="15.1" fill="#989898"/><rect x="98.7" y="662.0" width="15.0" height="15.1" fill="#989898"/><rect x="112.6" y="662.0" width="15.0" height="15.1" fill="#989898"/><rect x="126.6" y="662.0" width="15.0" height="15.1" fill="#989898"/><rect x="140.5" y="662.0" width="15.0" height="15.1" fill="#989898"/><rect x="154.5" y="662.0" width="15.0" height="15.1" fill="#989898"/><rect x="168.4" y="662.0" width="15.0" height="15.1" fill="#989898"/><rect x="-13.0" y="676.2" width="15.0" height="15.1" fill="#bcbcbc"/><rect x="1.0" y="676.2" width="15.0" height="15.1" fill="#bcbcbc"/><rect x="15.0" y="676.2" width="15.0" height="15.1" fill="#b6b6b6"/><rect x="28.9" y="676.2" width="15.0" height="15.1" fill="#b6b6b6"/><rect x="42.9" y="676.2" width="15.0" height="15.1" fill="#b0b0b0"/><rect x="56.8" y="676.2" width="15.0" height="15.1" fill="#a4a4a4"/><rect x="70.8" y="676.2" width="15.0" height="15.1" fill="#989898"/><rect x="84.7" y="676.2" width="15.0" height="15.1" fill="#989898"/><rect x="98.7" y="676.2" width="15.0" height="15.1" fill="#989898"/><rect x="112.6" y="676.2" width="15.0" height="15.1" fill="#989898"/><rect x="126.6" y="676.2" width="15.0" height="15.1" fill="#989898"/><rect x="140.5" y="676.2" width="15.0" height="15.1" fill="#989898"/><rect x="154.5" y="676.2" width="15.0" height="15.1" fill="#989898"/><rect x="168.4" y="676.2" width="15.0" height="15.1" fill="#989898"/><rect x="-13.0" y="690.3" width="15.0" height="15.1" fill="#bcbcbc"/><rect x="1.0" y="690.3" width="15.0" height="15.1" fill="#bcbcbc"/><rect x="15.0" y="690.3" width="15.0" height="15.1" fill="#b6b6b6"/><rect x="28.9" y="690.3" width="15.0" height="15.1" fill="#b6b6b6"/><rect x="42.9" y="690.3" width="15.0" height="15.1" fill="#b0b0b0"/><rect x="56.8" y="690.3" width="15.0" height="15.1" fill="#a4a4a4"/><rect x="70.8" y="690.3" width="15.0" height="15.1" fill="#989898"/><rect x="84.7" y="690.3" width="15.0" height="15.1" fill="#989898"/><rect x="98.7" y="690.3" width="15.0" height="15.1" fill="#989898"/><rect x="112.6" y="690.3" width="15.0" height="15.1" fill="#989898"/><rect x="126.6" y="690.3" width="15.0" height="15.1" fill="#989898"/><rect x="140.5" y="690.3" width="15.0" height="15.1" fill="#989898"/><rect x="154.5" y="690.3" width="15.0" height="15.1" fill="#989898"/><rect x="168.4" y="690.3" width="15.0" height="15.1" fill="#989898"/></g><rect x="1.5" y="521.2" width="167.4" height="169.6" filter="url(#spk)" opacity="0.6"/><rect x="104.5" y="629" width="64.5" height="62" fill="#0c0c0c"/><circle cx="116.4" cy="633.1" r="1.6" fill="url(#spotW)"/><circle cx="160.6" cy="636.7" r="1.4" fill="url(#spotW)"/><circle cx="143.7" cy="641.9" r="2.4" fill="url(#spotW)"/><circle cx="126.8" cy="647.4" r="2.4" fill="url(#spotW)"/><circle cx="109.7" cy="652.6" r="1.7" fill="url(#spotW)"/><circle cx="154.1" cy="656.3" r="2.6" fill="url(#spotW)"/><circle cx="137" cy="661.6" r="2.4" fill="url(#spotW)"/><circle cx="120.1" cy="666.7" r="2.2" fill="url(#spotW)"/><circle cx="164.8" cy="671.2" r="1.7" fill="url(#spotW)"/><circle cx="147.9" cy="675.5" r="2.4" fill="url(#spotW)"/><circle cx="130.8" cy="680.6" r="2.2" fill="url(#spotW)"/><circle cx="113.9" cy="686.8" r="1.6" fill="url(#spotW)"/><circle cx="120.1" cy="666.7" r="2.6" fill="none" stroke="#e01010" stroke-width="1.1" stroke-dasharray="1.3 0.9"/><circle cx="147.9" cy="675.5" r="2.6" fill="none" stroke="#e01010" stroke-width="1.1" stroke-dasharray="1.3 0.9"/><circle cx="130.8" cy="680.6" r="2.6" fill="none" stroke="#e01010" stroke-width="1.1" stroke-dasharray="1.3 0.9"/><text x="110.2" y="662.5" font-size="9.5" fill="#f4f4f4" textLength="16.5" lengthAdjust="spacingAndGlyphs">(200)</text><text x="126.9" y="664.7" font-size="5.9" fill="#f4f4f4">γ</text><text x="139" y="670" font-size="9.5" fill="#f4f4f4" textLength="16.5" lengthAdjust="spacingAndGlyphs">(111)</text><text x="155.7" y="672.2" font-size="5.9" fill="#f4f4f4">γ</text><line x1="142.0" y1="662.2" x2="144.8" y2="662.2" stroke="#f4f4f4" stroke-width="0.8"/><line x1="145.9" y1="662.2" x2="148.7" y2="662.2" stroke="#f4f4f4" stroke-width="0.8"/><line x1="149.8" y1="662.2" x2="152.6" y2="662.2" stroke="#f4f4f4" stroke-width="0.8"/><text x="108.3" y="685" font-size="9.5" fill="#f4f4f4" textLength="16.5" lengthAdjust="spacingAndGlyphs">(111)</text><text x="125.0" y="687.2" font-size="5.9" fill="#f4f4f4">γ</text><line x1="119.1" y1="677.2" x2="121.9" y2="677.2" stroke="#f4f4f4" stroke-width="0.8"/><text x="137.7" y="689.4" font-size="9.5" fill="#f0f0f0" textLength="29.8" lengthAdjust="spacingAndGlyphs">Z = [011]</text><polyline points="125.3,585 129.9,599.5 141.1,585.7" fill="none" stroke="#dd1111" stroke-width="1.5"/><line x1="129.9" y1="599.5" x2="147.7" y2="604.1" stroke="#dd1111" stroke-width="1.5"/><text x="102.5" y="597" font-size="11.5" fill="#f4f4f4">(111)</text><text x="135.6" y="588.5" font-size="11.5" fill="#f4f4f4">(111)</text><line x1="140.0" y1="579.1" x2="145.3" y2="579.1" stroke="#f4f4f4" stroke-width="0.8"/><line x1="152.8" y1="579.1" x2="158.1" y2="579.1" stroke="#f4f4f4" stroke-width="0.8"/><text x="125.5" y="617" font-size="11.5" fill="#f4f4f4">(111)</text><line x1="136.3" y1="607.6" x2="141.6" y2="607.6" stroke="#f4f4f4" stroke-width="0.8"/><text x="5.8" y="681.5" font-size="12.4" fill="#111">200 nm</text><rect x="11" y="684.9" width="29" height="2.2" fill="#f4f4f4" stroke="#333" stroke-width="0.7"/></g>
<g clip-path="url(#cph)"><g filter="url(#fh)"><rect x="152.3" y="499.5" width="22.0" height="22.2" fill="#9e9e9e"/><rect x="173.3" y="499.5" width="22.0" height="22.2" fill="#9e9e9e"/><rect x="194.3" y="499.5" width="22.0" height="22.2" fill="#9b9b9b"/><rect x="215.3" y="499.5" width="22.0" height="22.2" fill="#9b9b9b"/><rect x="236.3" y="499.5" width="22.0" height="22.2" fill="#989898"/><rect x="257.2" y="499.5" width="22.0" height="22.2" fill="#969696"/><rect x="278.2" y="499.5" width="22.0" height="22.2" fill="#969696"/><rect x="299.2" y="499.5" width="22.0" height="22.2" fill="#969696"/><rect x="320.2" y="499.5" width="22.0" height="22.2" fill="#969696"/><rect x="341.2" y="499.5" width="22.0" height="22.2" fill="#969696"/><rect x="152.3" y="520.7" width="22.0" height="22.2" fill="#9e9e9e"/><rect x="173.3" y="520.7" width="22.0" height="22.2" fill="#9e9e9e"/><rect x="194.3" y="520.7" width="22.0" height="22.2" fill="#9b9b9b"/><rect x="215.3" y="520.7" width="22.0" height="22.2" fill="#9b9b9b"/><rect x="236.3" y="520.7" width="22.0" height="22.2" fill="#989898"/><rect x="257.2" y="520.7" width="22.0" height="22.2" fill="#969696"/><rect x="278.2" y="520.7" width="22.0" height="22.2" fill="#969696"/><rect x="299.2" y="520.7" width="22.0" height="22.2" fill="#969696"/><rect x="320.2" y="520.7" width="22.0" height="22.2" fill="#969696"/><rect x="341.2" y="520.7" width="22.0" height="22.2" fill="#969696"/><rect x="152.3" y="541.9" width="22.0" height="22.2" fill="#969696"/><rect x="173.3" y="541.9" width="22.0" height="22.2" fill="#969696"/><rect x="194.3" y="541.9" width="22.0" height="22.2" fill="#9b9b9b"/><rect x="215.3" y="541.9" width="22.0" height="22.2" fill="#9b9b9b"/><rect x="236.3" y="541.9" width="22.0" height="22.2" fill="#989898"/><rect x="257.2" y="541.9" width="22.0" height="22.2" fill="#969696"/><rect x="278.2" y="541.9" width="22.0" height="22.2" fill="#969696"/><rect x="299.2" y="541.9" width="22.0" height="22.2" fill="#969696"/><rect x="320.2" y="541.9" width="22.0" height="22.2" fill="#969696"/><rect x="341.2" y="541.9" width="22.0" height="22.2" fill="#969696"/><rect x="152.3" y="563.1" width="22.0" height="22.2" fill="#787878"/><rect x="173.3" y="563.1" width="22.0" height="22.2" fill="#787878"/><rect x="194.3" y="563.1" width="22.0" height="22.2" fill="#828282"/><rect x="215.3" y="563.1" width="22.0" height="22.2" fill="#8c8c8c"/><rect x="236.3" y="563.1" width="22.0" height="22.2" fill="#969696"/><rect x="257.2" y="563.1" width="22.0" height="22.2" fill="#969696"/><rect x="278.2" y="563.1" width="22.0" height="22.2" fill="#969696"/><rect x="299.2" y="563.1" width="22.0" height="22.2" fill="#969696"/><rect x="320.2" y="563.1" width="22.0" height="22.2" fill="#969696"/><rect x="341.2" y="563.1" width="22.0" height="22.2" fill="#969696"/><rect x="152.3" y="584.3" width="22.0" height="22.2" fill="#696969"/><rect x="173.3" y="584.3" width="22.0" height="22.2" fill="#696969"/><rect x="194.3" y="584.3" width="22.0" height="22.2" fill="#646464"/><rect x="215.3" y="584.3" width="22.0" height="22.2" fill="#6e6e6e"/><rect x="236.3" y="584.3" width="22.0" height="22.2" fill="#787878"/><rect x="257.2" y="584.3" width="22.0" height="22.2" fill="#848484"/><rect x="278.2" y="584.3" width="22.0" height="22.2" fill="#919191"/><rect x="299.2" y="584.3" width="22.0" height="22.2" fill="#969696"/><rect x="320.2" y="584.3" width="22.0" height="22.2" fill="#949494"/><rect x="341.2" y="584.3" width="22.0" height="22.2" fill="#949494"/><rect x="152.3" y="605.5" width="22.0" height="22.2" fill="#8c8c8c"/><rect x="173.3" y="605.5" width="22.0" height="22.2" fill="#8c8c8c"/><rect x="194.3" y="605.5" width="22.0" height="22.2" fill="#969696"/><rect x="215.3" y="605.5" width="22.0" height="22.2" fill="#919191"/><rect x="236.3" y="605.5" width="22.0" height="22.2" fill="#737373"/><rect x="257.2" y="605.5" width="22.0" height="22.2" fill="#6c6c6c"/><rect x="278.2" y="605.5" width="22.0" height="22.2" fill="#707070"/><rect x="299.2" y="605.5" width="22.0" height="22.2" fill="#7a7a7a"/><rect x="320.2" y="605.5" width="22.0" height="22.2" fill="#828282"/><rect x="341.2" y="605.5" width="22.0" height="22.2" fill="#828282"/><rect x="152.3" y="626.7" width="22.0" height="22.2" fill="#c0c0c0"/><rect x="173.3" y="626.7" width="22.0" height="22.2" fill="#c0c0c0"/><rect x="194.3" y="626.7" width="22.0" height="22.2" fill="#c6c6c6"/><rect x="215.3" y="626.7" width="22.0" height="22.2" fill="#c6c6c6"/><rect x="236.3" y="626.7" width="22.0" height="22.2" fill="#b9b9b9"/><rect x="257.2" y="626.7" width="22.0" height="22.2" fill="#a5a5a5"/><rect x="278.2" y="626.7" width="22.0" height="22.2" fill="#808080"/><rect x="299.2" y="626.7" width="22.0" height="22.2" fill="#707070"/><rect x="320.2" y="626.7" width="22.0" height="22.2" fill="#767676"/><rect x="341.2" y="626.7" width="22.0" height="22.2" fill="#767676"/><rect x="152.3" y="647.9" width="22.0" height="22.2" fill="#cdcdcd"/><rect x="173.3" y="647.9" width="22.0" height="22.2" fill="#cdcdcd"/><rect x="194.3" y="647.9" width="22.0" height="22.2" fill="#d0d0d0"/><rect x="215.3" y="647.9" width="22.0" height="22.2" fill="#d0d0d0"/><rect x="236.3" y="647.9" width="22.0" height="22.2" fill="#cdcdcd"/><rect x="257.2" y="647.9" width="22.0" height="22.2" fill="#cacaca"/><rect x="278.2" y="647.9" width="22.0" height="22.2" fill="#b6b6b6"/><rect x="299.2" y="647.9" width="22.0" height="22.2" fill="#949494"/><rect x="320.2" y="647.9" width="22.0" height="22.2" fill="#7a7a7a"/><rect x="341.2" y="647.9" width="22.0" height="22.2" fill="#7a7a7a"/><rect x="152.3" y="669.1" width="22.0" height="22.2" fill="#d7d7d7"/><rect x="173.3" y="669.1" width="22.0" height="22.2" fill="#d7d7d7"/><rect x="194.3" y="669.1" width="22.0" height="22.2" fill="#d8d8d8"/><rect x="215.3" y="669.1" width="22.0" height="22.2" fill="#d8d8d8"/><rect x="236.3" y="669.1" width="22.0" height="22.2" fill="#d8d8d8"/><rect x="257.2" y="669.1" width="22.0" height="22.2" fill="#d7d7d7"/><rect x="278.2" y="669.1" width="22.0" height="22.2" fill="#d4d4d4"/><rect x="299.2" y="669.1" width="22.0" height="22.2" fill="#c6c6c6"/><rect x="320.2" y="669.1" width="22.0" height="22.2" fill="#b6b6b6"/><rect x="341.2" y="669.1" width="22.0" height="22.2" fill="#b6b6b6"/><rect x="152.3" y="690.3" width="22.0" height="22.2" fill="#d7d7d7"/><rect x="173.3" y="690.3" width="22.0" height="22.2" fill="#d7d7d7"/><rect x="194.3" y="690.3" width="22.0" height="22.2" fill="#d8d8d8"/><rect x="215.3" y="690.3" width="22.0" height="22.2" fill="#d8d8d8"/><rect x="236.3" y="690.3" width="22.0" height="22.2" fill="#d8d8d8"/><rect x="257.2" y="690.3" width="22.0" height="22.2" fill="#d7d7d7"/><rect x="278.2" y="690.3" width="22.0" height="22.2" fill="#d4d4d4"/><rect x="299.2" y="690.3" width="22.0" height="22.2" fill="#c6c6c6"/><rect x="320.2" y="690.3" width="22.0" height="22.2" fill="#b6b6b6"/><rect x="341.2" y="690.3" width="22.0" height="22.2" fill="#b6b6b6"/></g><g mask="url(#mH)"><g filter="url(#b1)"><path d="M172,552 L200,560 L230,572 L260,582 L290,594 L320,602 L344,600 L344,692 L325,680 L305,664 L285,650 L262,637 L240,627 L220,619 L200,613 L172,609Z" fill="#404040" filter="url(#b2)"/><path d="M284.3 594.2L281.1 595.6L276.8 591.2L277.1 590.3L281.2 587.6L284.2 589.3Z" fill="#404040" stroke="#282828" stroke-width="0.8" stroke-opacity="0.6"/><path d="M240.3 590.8L245.1 589.8L246.7 593.0L241.9 596.6L239.8 591.5ZM215.0 565.4L215.6 571.0L221.7 570.6L223.1 569.4L223.1 569.1L219.9 564.2L217.1 564.0ZM232.3 584.2L230.4 578.9L226.5 581.1L226.1 585.0L226.4 585.3L231.5 585.3ZM274.5 590.3L272.6 591.4L267.2 589.4L266.1 587.2L268.7 582.7L270.7 581.9L274.9 589.4ZM287.4 596.7L288.8 600.4L285.4 602.6L281.2 599.7L281.7 597.1L284.9 595.8ZM313.4 603.9L312.9 604.2L314.0 608.7L317.7 609.6L320.1 606.6L319.2 604.4Z" fill="#505050" stroke="#282828" stroke-width="0.8" stroke-opacity="0.6"/><path d="M271.4 602.4L267.6 607.8L261.9 604.0L261.9 603.1L267.2 600.0L270.0 600.3ZM253.1 595.6L258.6 594.2L260.1 595.3L259.6 601.2L253.3 598.0ZM291.9 600.5L290.3 599.9L288.8 596.1L292.6 592.7L295.6 594.0L296.5 596.0ZM335.9 606.2L338.2 608.1L338.0 611.3L332.4 613.8L331.0 606.7ZM248.5 580.5L243.2 577.5L241.2 578.4L240.8 582.0L246.1 585.2L249.1 582.8ZM298.7 605.2L301.4 609.9L304.2 608.8L305.8 604.6L301.1 602.4ZM270.2 598.5L267.4 598.2L265.1 594.1L266.7 590.9L272.1 592.8ZM309.2 604.0L311.5 604.5L312.6 609.0L310.0 612.1L305.6 609.3L307.2 605.1ZM338.8 626.1L339.1 620.5L342.3 617.7L345.2 618.2L345.2 625.6L340.3 627.0ZM280.4 600.7L277.0 603.3L278.2 606.2L283.8 608.1L283.9 608.0L284.6 603.7ZM209.1 581.8L210.4 584.6L213.7 585.6L216.3 584.7L216.7 584.3L216.9 581.0L213.5 577.8L209.2 581.2ZM196.4 574.1L189.8 571.7L189.1 569.8L191.8 567.0L194.5 567.1L197.6 570.6ZM306.8 620.8L308.9 620.0L312.8 623.6L312.2 627.5L310.2 629.2L305.6 625.3ZM329.5 606.8L326.1 608.6L325.5 614.4L326.0 614.7L330.6 615.2L331.2 614.0L329.8 607.0ZM291.2 602.3L289.6 601.7L286.2 603.9L285.5 608.2L291.2 608.4L292.8 605.0ZM272.7 603.3L268.8 608.7L269.1 610.1L274.8 610.5L276.6 606.9L275.4 604.0ZM242.5 598.0L243.2 599.7L249.2 600.7L251.0 598.2L250.8 595.8L250.6 595.5L247.4 594.0L242.6 597.6ZM230.1 576.4L224.6 571.4L223.3 572.5L222.4 578.0L225.8 580.0L229.7 577.8ZM320.5 630.5L322.9 628.8L326.3 632.2L325.0 636.8L322.2 637.6L319.7 635.6ZM193.1 557.9L190.2 560.5L186.7 559.0L188.6 554.1L189.5 554.0ZM252.8 594.5L258.3 593.0L258.8 587.8L256.2 586.0L255.5 586.1L252.6 594.2Z" fill="#606060" stroke="#282828" stroke-width="0.8" stroke-opacity="0.6"/><path d="M270.2 616.4L268.6 612.2L269.0 611.3L274.7 611.7L276.2 614.7L272.8 617.4ZM205.6 570.0L202.4 569.6L199.4 571.2L198.1 574.7L198.4 575.7L199.7 576.5L204.6 575.5L206.5 571.7ZM282.8 612.6L283.3 609.4L277.8 607.5L276.0 611.1L277.5 614.0L279.8 614.6ZM334.7 636.4L340.0 634.9L340.0 634.8L339.2 629.1L337.7 628.2L334.8 628.8L332.7 631.5ZM221.8 572.3L220.9 577.8L217.9 579.9L214.5 576.7L214.4 573.9L215.8 572.7ZM292.6 612.8L290.8 618.0L290.8 618.0L284.7 613.0L285.3 609.7L285.4 609.6L291.2 609.8ZM284.9 622.2L289.8 619.1L283.8 614.1L280.8 616.1L281.6 621.4ZM345.1 598.7L345.1 604.8L339.6 606.4L337.4 604.5L338.3 599.9ZM209.9 586.4L206.2 590.2L207.4 594.0L208.6 594.7L212.2 594.4L213.1 587.4ZM197.2 577.4L193.2 581.0L195.0 585.0L199.8 582.8L198.4 578.3ZM177.8 570.6L176.9 570.7L173.1 568.7L172.5 564.0L173.3 563.3L176.8 563.2L179.9 568.3ZM311.4 615.0L311.2 613.1L313.7 610.0L317.4 610.8L318.6 614.8L317.7 615.8ZM218.8 581.1L221.8 579.0L225.3 581.0L224.8 584.8L218.6 584.4ZM324.4 625.6L325.2 625.0L329.9 624.3L333.3 627.7L331.3 630.5L327.5 631.0L324.1 627.6ZM322.6 599.5L322.2 599.8L320.7 603.8L321.6 606.0L325.2 607.0L328.6 605.2L327.4 601.5ZM173.3 561.5L176.8 561.4L179.4 558.2L178.6 555.6L172.3 555.2ZM292.8 601.4L297.4 596.9L299.6 598.2L300.0 601.5L297.7 604.3L294.4 604.0ZM301.9 612.0L302.6 616.9L306.0 618.8L308.1 618.0L309.5 615.2L309.3 613.3L304.9 610.6L302.1 611.6ZM300.3 612.2L301.0 617.1L295.6 619.9L293.8 619.6L292.5 618.6L294.3 613.4ZM198.2 591.7L198.5 596.6L199.2 597.1L205.7 594.5L204.4 590.8L202.2 589.8ZM207.4 569.0L209.4 564.6L213.9 565.5L214.5 571.2L213.1 572.3L208.4 570.7ZM342.7 641.0L345.6 641.8L345.6 647.2L343.6 647.6L340.0 644.7ZM207.8 572.4L212.5 574.0L212.7 576.8L208.4 580.2L205.8 576.1ZM250.3 584.3L254.3 585.7L251.5 593.8L248.3 592.3L246.7 589.1L247.3 586.7ZM196.2 576.4L192.2 580.0L190.2 579.8L187.9 576.8L189.3 573.0L195.9 575.5ZM309.8 618.9L313.8 622.5L317.4 620.9L317.5 617.0L311.3 616.2ZM240.0 589.5L244.9 588.6L245.5 586.2L240.2 583.0L238.5 584.7ZM184.2 560.5L180.7 559.2L178.0 562.4L181.1 567.6L183.4 567.2ZM335.5 644.4L333.8 638.4L329.2 639.9L329.6 643.6L335.3 644.7ZM201.6 568.2L199.7 562.8L198.5 562.6L195.5 566.2L198.6 569.8ZM294.3 605.6L292.7 609.1L294.1 612.1L300.1 610.9L300.3 610.5L297.6 605.9ZM240.8 598.7L236.2 599.0L235.6 602.9L237.6 604.1L241.0 602.4L241.6 600.4Z" fill="#707070" stroke="#282828" stroke-width="0.8" stroke-opacity="0.6"/><path d="M231.5 586.5L226.4 586.5L226.0 591.1L227.8 593.2L230.3 593.6L231.0 593.4L232.0 592.0ZM301.1 626.0L304.0 624.8L305.1 620.4L301.7 618.5L296.3 621.2L300.3 625.9ZM275.6 592.4L273.8 593.4L271.8 599.0L273.2 601.1L275.9 601.9L279.4 599.3L279.9 596.7ZM222.2 598.6L226.5 594.4L224.6 592.3L220.6 592.3L218.2 596.1ZM311.4 631.4L311.5 630.8L313.5 629.1L319.1 630.3L318.3 635.4L314.1 636.1L313.4 635.7ZM204.8 576.8L207.4 580.8L207.3 581.4L201.4 582.4L201.4 582.3L200.0 577.8ZM305.1 639.9L304.5 635.0L309.7 632.2L311.8 636.5L306.6 639.9ZM332.4 618.7L337.5 620.4L337.3 626.1L334.4 626.6L331.0 623.2ZM301.6 601.3L306.3 603.5L308.3 602.4L306.4 595.8L301.2 598.0ZM303.6 640.1L302.7 641.0L299.6 641.5L297.5 640.6L297.2 635.4L301.8 634.5L303.0 635.2ZM187.1 570.5L183.8 569.3L181.5 569.8L179.4 572.1L181.4 576.1L183.5 577.0L186.3 576.2L187.7 572.4ZM195.4 586.0L194.7 588.3L197.6 590.4L201.6 588.6L200.3 583.8L200.3 583.8ZM319.0 620.9L323.1 624.0L323.9 623.4L324.7 616.3L324.3 615.9L320.0 616.0L319.1 617.1ZM321.2 607.5L324.8 608.5L324.2 614.2L320.0 614.4L318.8 610.4ZM299.2 626.8L294.8 630.5L292.8 628.6L293.4 621.9L295.2 622.2ZM180.0 576.8L178.1 572.7L177.1 572.8L173.9 576.7L175.9 580.2L176.8 580.2ZM184.0 578.5L183.7 582.9L186.5 584.4L189.1 580.7L186.8 577.6ZM280.0 630.8L278.4 629.7L278.9 624.6L281.2 623.1L284.5 623.9L284.9 629.6L284.3 630.6ZM332.2 616.0L332.9 614.8L338.5 612.3L341.2 616.4L338.0 619.1L332.9 617.4ZM335.1 645.8L333.4 651.3L330.7 652.6L328.9 651.2L327.5 646.8L329.4 644.7ZM303.9 633.8L302.7 633.1L301.8 627.6L304.6 626.5L309.2 630.3L309.1 631.0ZM241.5 603.3L244.3 608.5L244.2 608.6L243.0 609.6L238.4 607.8L238.1 605.0ZM181.9 592.0L178.8 588.7L175.2 589.3L173.6 593.9L174.4 594.9L180.6 594.3L181.9 592.7ZM259.8 587.8L264.4 588.1L265.4 590.3L263.8 593.5L260.9 594.2L259.4 593.1ZM330.5 616.9L325.8 616.4L324.9 623.5L329.6 622.7L331.1 618.2ZM260.7 601.3L261.1 601.9L266.5 598.7L264.1 594.6L261.2 595.4ZM233.7 583.7L231.7 578.4L232.1 577.1L235.4 575.9L239.4 578.2L239.0 581.8L237.3 583.5ZM301.6 633.2L300.7 627.8L299.9 627.6L295.5 631.4L295.8 633.0L296.9 634.2Z" fill="#808080" stroke="#282828" stroke-width="0.8" stroke-opacity="0.6"/><path d="M314.4 623.9L313.8 627.8L319.4 629.0L321.8 627.2L322.1 625.3L318.0 622.2ZM182.9 591.0L179.8 587.7L180.7 584.8L183.0 584.0L185.9 585.6L186.3 587.0ZM280.2 621.6L277.9 623.0L274.6 621.6L273.7 618.5L277.1 615.7L279.4 616.3ZM242.6 610.6L238.0 608.8L235.6 610.7L236.3 614.5L240.5 615.5L241.0 615.2ZM327.6 653.0L329.4 654.3L329.1 656.1L323.5 660.3L321.0 655.7L322.3 653.8ZM327.8 678.8L334.5 680.2L333.6 673.9L330.3 674.1ZM221.4 599.9L222.1 602.9L220.8 604.5L215.4 604.8L215.0 604.3L215.6 597.7L217.4 597.4ZM303.0 642.9L305.3 649.5L303.7 650.2L299.6 648.7L300.0 643.5ZM235.1 598.8L231.8 595.7L231.1 596.0L229.7 603.4L230.6 604.2L234.5 602.7ZM227.3 610.8L229.5 608.0L229.2 605.7L228.4 604.9L223.6 604.2L222.3 605.8L223.3 611.0L224.0 611.3ZM294.6 643.3L296.7 642.5L298.8 643.4L298.4 648.6L295.6 650.5L293.2 645.8ZM243.1 600.9L242.5 602.8L245.2 608.0L249.0 604.4L249.1 601.8ZM285.9 623.8L286.4 629.5L291.5 628.4L292.2 621.8L290.8 620.8L290.8 620.8ZM337.0 646.0L339.1 645.8L342.7 648.7L340.6 654.2L335.1 651.8L336.7 646.3ZM205.8 568.2L207.8 563.9L207.2 562.2L204.3 560.5L200.7 562.5L202.6 567.8ZM217.1 595.4L215.2 595.7L213.4 594.6L214.4 587.6L217.0 586.6L219.5 591.6ZM250.5 613.5L245.6 610.2L244.4 611.2L242.8 615.8L247.9 617.9L250.0 617.5ZM254.4 625.1L249.7 628.1L250.0 632.3L252.8 633.1L255.4 632.0L257.0 626.9ZM324.0 645.1L326.4 645.9L328.3 643.7L327.9 640.1L325.6 638.6L322.8 639.4L322.2 641.9ZM187.8 568.5L184.5 567.3L185.2 560.6L186.2 560.3L189.6 561.8L190.4 565.7ZM272.6 630.5L270.8 625.6L274.0 623.0L277.3 624.4L276.9 629.6ZM336.8 644.0L338.9 643.8L341.6 640.2L340.4 636.3L335.1 637.8L335.0 638.0ZM197.9 598.9L197.1 598.3L191.5 598.9L189.9 602.6L194.2 605.3L198.9 603.6L199.0 603.6ZM304.3 651.7L301.9 656.3L303.0 659.1L307.0 659.9L308.6 654.9L306.0 651.0L306.0 651.0ZM208.7 596.8L207.6 603.7L208.2 604.3L213.5 604.2L214.1 597.6L212.3 596.5ZM322.8 645.8L320.0 648.5L316.1 647.4L315.2 645.9L315.5 645.3L321.0 642.6ZM239.5 621.2L240.1 617.3L235.9 616.3L232.7 618.4L232.6 618.5L234.6 623.6ZM260.7 613.9L266.6 611.4L267.0 610.5L266.7 609.1L261.0 605.3L257.7 609.4L257.7 609.7ZM197.6 561.8L195.3 558.9L194.0 558.9L191.0 561.5L191.8 565.4L194.6 565.5ZM335.8 667.6L340.8 666.9L340.9 666.9L342.3 672.7L341.7 673.2L335.5 672.0ZM193.9 585.5L193.2 587.8L192.0 588.2L187.9 586.5L187.5 585.1L190.1 581.4L192.1 581.5ZM323.6 646.6L326.0 647.3L327.4 651.7L322.1 652.5L320.8 649.3ZM176.2 572.0L173.0 575.9L168.8 575.8L168.8 572.1L172.3 570.0ZM223.2 599.5L223.9 602.5L228.6 603.2L229.9 595.8L227.4 595.3ZM207.5 582.5L208.8 585.4L205.1 589.2L202.9 588.2L201.6 583.5ZM238.9 589.9L237.4 585.0L233.8 585.3L233.0 586.4L233.5 591.8L238.4 590.6ZM225.4 619.5L224.3 612.8L227.5 612.3L230.8 617.4L230.7 617.6Z" fill="#909090" stroke="#282828" stroke-width="0.8" stroke-opacity="0.6"/><path d="M250.8 601.8L250.8 604.4L256.1 608.1L259.4 604.0L259.4 603.2L258.9 602.6L252.6 599.4ZM338.9 659.2L333.8 661.1L331.4 656.5L331.7 654.7L334.4 653.5L339.9 655.8L340.3 656.5ZM272.0 638.4L271.4 632.7L265.8 633.7L264.0 637.0L267.9 639.5L271.9 638.5ZM288.0 636.1L294.0 633.3L293.8 631.6L291.7 629.7L286.6 630.7L286.0 631.7ZM207.3 596.6L206.2 603.5L200.8 603.1L199.7 598.4L206.2 595.8ZM263.2 620.8L259.7 625.8L263.3 627.5L266.9 624.6L265.5 621.3ZM190.4 595.4L191.3 597.3L197.0 596.6L196.7 591.7L193.7 589.7L192.6 590.0ZM319.7 649.7L321.0 652.9L319.7 654.9L316.9 654.9L315.0 653.3L315.8 648.6ZM333.4 637.2L333.5 636.9L331.5 632.0L327.8 632.6L326.5 637.2L328.8 638.7ZM208.2 605.9L207.8 611.3L214.0 611.7L214.0 606.3L213.5 605.9ZM261.2 615.9L263.5 619.4L265.8 619.9L268.7 617.0L267.2 612.8L261.3 615.3ZM294.2 662.5L296.6 663.5L301.4 659.7L300.3 656.9L296.0 654.6L293.6 659.7ZM242.4 625.7L239.7 629.0L234.8 626.0L235.1 624.6L240.0 622.2ZM215.6 611.8L215.5 611.7L215.5 606.3L220.8 606.1L221.8 611.2L218.4 612.7ZM330.2 672.6L333.5 672.4L334.0 671.9L334.3 667.5L332.5 665.6L329.1 666.7L327.8 669.9ZM307.2 640.9L312.3 645.0L313.5 644.9L313.8 644.4L313.1 637.8L312.4 637.4ZM252.8 621.1L253.6 623.9L248.9 626.9L246.3 625.2L248.3 619.8L250.4 619.3ZM238.8 592.0L240.9 597.1L240.8 597.5L236.1 597.7L232.8 594.6L233.8 593.2ZM235.0 604.0L231.0 605.5L231.3 607.8L234.8 609.8L237.3 607.9L237.0 605.1ZM228.5 611.7L230.7 609.0L234.2 611.0L234.9 614.8L231.7 616.8ZM282.8 641.2L279.4 637.9L280.0 632.6L284.3 632.5L286.3 636.9L286.2 637.5ZM332.0 664.0L328.6 665.2L324.3 661.5L324.3 661.4L329.9 657.2L332.3 661.8ZM179.5 584.4L178.5 587.3L175.0 587.9L172.9 584.7L175.9 581.7L176.7 581.7ZM255.4 609.5L255.4 609.2L250.1 605.5L246.3 609.1L246.3 609.2L251.2 612.5ZM182.9 578.4L180.8 577.5L177.5 580.9L180.3 583.6L182.6 582.8ZM293.9 641.5L296.0 640.7L295.7 635.5L294.5 634.3L288.5 637.2L288.4 637.8ZM178.1 601.8L181.4 599.6L180.7 595.8L174.5 596.4L174.6 598.9ZM267.7 625.5L269.5 626.1L271.3 631.0L271.1 631.2L265.5 632.2L264.0 628.4ZM305.1 641.7L304.2 642.5L306.5 649.1L306.5 649.1L311.7 645.8L306.5 641.7ZM335.6 666.2L333.8 664.3L334.2 662.1L339.3 660.2L340.6 665.5Z" fill="#a0a0a0" stroke="#282828" stroke-width="0.8" stroke-opacity="0.6"/><path d="M314.3 637.7L315.0 644.2L320.5 641.5L321.1 639.0L318.6 637.0ZM308.6 663.1L313.2 664.1L313.0 670.7L308.3 671.0L307.1 669.0ZM243.5 624.9L245.3 624.8L247.3 619.4L242.2 617.2L241.7 617.5L241.1 621.5ZM284.2 642.6L287.7 638.9L293.2 642.5L291.8 645.1L288.0 646.1L285.0 644.4L284.2 642.6ZM177.3 604.7L173.9 606.9L171.5 602.7L173.8 599.8L177.3 602.7ZM259.2 615.6L254.0 619.5L251.6 617.7L252.1 613.7L256.2 610.8L259.3 615.0ZM334.3 681.4L334.2 681.4L327.5 680.0L327.4 680.1L326.2 684.5L330.1 687.1L330.7 687.0ZM322.2 661.0L319.7 656.4L316.9 656.5L314.8 662.4L319.7 663.2L322.2 661.0ZM335.7 680.1L335.6 680.0L334.8 673.8L335.3 673.3L341.5 674.4L340.4 678.4L337.6 680.5ZM194.7 606.7L194.3 612.6L194.7 613.1L199.8 611.8L199.4 605.1ZM183.4 593.9L182.1 595.5L182.7 599.4L187.1 602.3L188.0 601.8L189.7 598.1L188.7 596.2ZM326.5 678.3L323.6 676.3L323.5 671.4L326.8 670.8L329.1 673.5L326.6 678.2ZM259.0 627.3L258.5 627.4L256.8 632.5L262.0 636.2L262.3 636.1L264.1 632.8L262.6 629.0ZM314.4 648.4L313.7 653.1L309.9 654.0L307.2 650.2L312.4 646.9L313.5 646.9ZM323.2 670.0L321.6 669.1L320.9 664.7L323.4 662.5L327.7 666.2L326.4 669.3ZM335.3 682.1L331.6 687.6L335.0 689.5L338.7 686.0L337.2 682.5ZM338.7 681.8L341.4 679.7L345.3 682.2L345.3 686.8L343.6 687.0L340.2 685.3ZM303.3 651.2L300.9 655.8L296.6 653.5L296.2 652.2L296.3 651.7L299.2 649.7ZM184.0 591.9L187.4 587.9L191.5 589.6L189.3 595.0L184.0 592.6ZM178.0 605.8L181.1 607.8L179.1 611.4L173.9 610.2L174.6 608.0ZM292.2 646.3L294.5 651.1L294.4 651.6L289.0 652.0L288.4 647.4ZM220.6 591.0L218.2 586.1L218.5 585.6L224.8 586.1L225.0 586.4L224.7 591.0Z" fill="#b0b0b0" stroke="#282828" stroke-width="0.8" stroke-opacity="0.6"/><path d="M189.1 604.0L188.1 604.5L186.6 607.3L188.2 611.4L193.0 612.5L193.4 606.6ZM318.7 677.1L322.4 676.3L322.3 671.5L320.8 670.6L316.2 673.0L316.5 674.9ZM308.5 660.4L310.2 655.4L314.0 654.5L315.8 656.1L313.7 662.0L313.6 662.1L309.1 661.1ZM211.7 618.0L205.9 615.0L205.8 614.6L207.7 612.4L213.9 612.8L214.0 612.9ZM273.4 638.3L272.8 632.6L273.0 632.3L277.3 631.4L278.8 632.4L278.2 637.8ZM281.7 642.3L278.3 639.0L273.5 639.5L273.5 639.6L275.0 645.2L281.7 642.4ZM341.7 665.2L340.4 659.9L341.7 657.2L345.4 658.3L345.4 663.8L341.7 665.3ZM215.1 622.2L218.5 619.6L217.9 614.3L215.0 613.4L212.8 618.4L214.0 621.8ZM260.0 616.6L262.2 620.2L258.7 625.1L258.2 625.2L255.6 623.3L254.8 620.5ZM266.8 620.8L269.6 617.9L272.3 618.9L273.2 622.0L270.0 624.6L268.2 624.0Z" fill="#c0c0c0" stroke="#282828" stroke-width="0.8" stroke-opacity="0.6"/><path d="M224.3 619.6L223.2 613.0L222.5 612.7L219.0 614.2L219.6 619.5L224.3 619.7ZM178.7 604.7L181.8 606.8L184.7 606.2L186.3 603.4L182.0 600.5L178.7 602.7ZM200.7 604.9L200.7 605.0L201.1 611.7L204.4 613.4L206.3 611.1L206.7 605.8L206.1 605.3Z" fill="#d0d0d0" stroke="#282828" stroke-width="0.8" stroke-opacity="0.6"/><path d="M320.1 669.3L319.4 664.9L314.5 664.1L314.4 664.1L314.3 670.7L315.6 671.7Z" fill="#e0e0e0" stroke="#282828" stroke-width="0.8" stroke-opacity="0.6"/></g></g><path d="M249,523 Q246,540 247,556 M322,595 Q316,604 308,610 M275,651 Q279,660 283,668" fill="none" stroke="#404040" stroke-width="2" stroke-opacity="0.6" filter="url(#b1)"/><line x1="231.5" y1="615" x2="224.8" y2="604.9" stroke="#e8d800" stroke-width="2.2"/><path d="M222.2,600.9 L222.2,606.7 L227.5,603.1Z" fill="#e8d800"/><line x1="254.2" y1="615" x2="261.7" y2="607.2" stroke="#e8d800" stroke-width="2.2"/><path d="M265,603.7 L259.4,605.0 L264.0,609.4Z" fill="#e8d800"/><text x="179.6" y="680.4" font-size="12.4" fill="#111">20 nm</text><rect x="184.6" y="683.3" width="24.0" height="2.2" fill="#f4f4f4" stroke="#333" stroke-width="0.7"/></g>
<g clip-path="url(#cpi)"><rect x="348" y="521.2" width="336" height="169.4" fill="url(#lati)"/><rect x="348" y="521.2" width="336" height="169.4" fill="url(#hzI)"/><path d="M579.5,609.6 L485.1,683.4 L465.9,622 L563.1,546.9 L583.5,606.8" fill="none" stroke="#c80e0e" stroke-width="1.7" stroke-linejoin="miter"/><g transform="translate(546.5,657) rotate(-38.6)"><text font-size="14.5" fill="#fff" textLength="71" lengthAdjust="spacingAndGlyphs">b=1/2[011]</text><line x1="58" y1="-11.5" x2="64" y2="-11.5" stroke="#fff" stroke-width="1"/></g><rect x="349" y="667" width="45" height="23" fill="#dddddd" fill-opacity="0.3"/><text x="357.5" y="681.5" font-size="12.5" fill="#fff">1 nm</text><rect x="359" y="684" width="25" height="2" fill="#fff" stroke="#777" stroke-width="0.5"/></g>
<rect x="0" y="311.7" width="685" height="1" fill="#a4a4a4"/><rect x="0" y="520.6" width="685" height="1" fill="#a4a4a4"/><rect x="0" y="689.8" width="348" height="1" fill="#a8a8a8"/><rect x="684" y="521" width="1" height="171" fill="#b4b4b4"/><rect x="348" y="690.6" width="337" height="1.4" fill="#a8a8a8"/>
<text x="1.4" y="307.5" font-size="23" >c</text>
<text x="175.8" y="306.9" font-size="23" >d</text>
<text x="348.3" y="307.3" font-size="23" >e</text>
<text x="528.3" y="306.3" font-size="23" >f</text>
<text x="1.1" y="511.5" font-size="23" >g</text>
<text x="175.9" y="514.8" font-size="23" >h</text>
<text x="351.6" y="512.6" font-size="23" >i</text>
<text x="84.3" y="306.2" font-size="19">ε<tspan font-size="12" dy="3" letter-spacing="-0.4">loc.</tspan><tspan dy="-3" font-size="15.5"> ≈ 10%</tspan></text>
<text x="440.4" y="306.2" font-size="19">ε<tspan font-size="12" dy="3" letter-spacing="-0.4">loc.</tspan><tspan dy="-3" font-size="15.5"> ≈ 25%</tspan></text>
<text x="86.8" y="512.8" font-size="19">ε<tspan font-size="12" dy="3" letter-spacing="-0.4">loc.</tspan><tspan dy="-3" font-size="15.5"> ≈ 45%</tspan></text>
</svg>
</body></html>
